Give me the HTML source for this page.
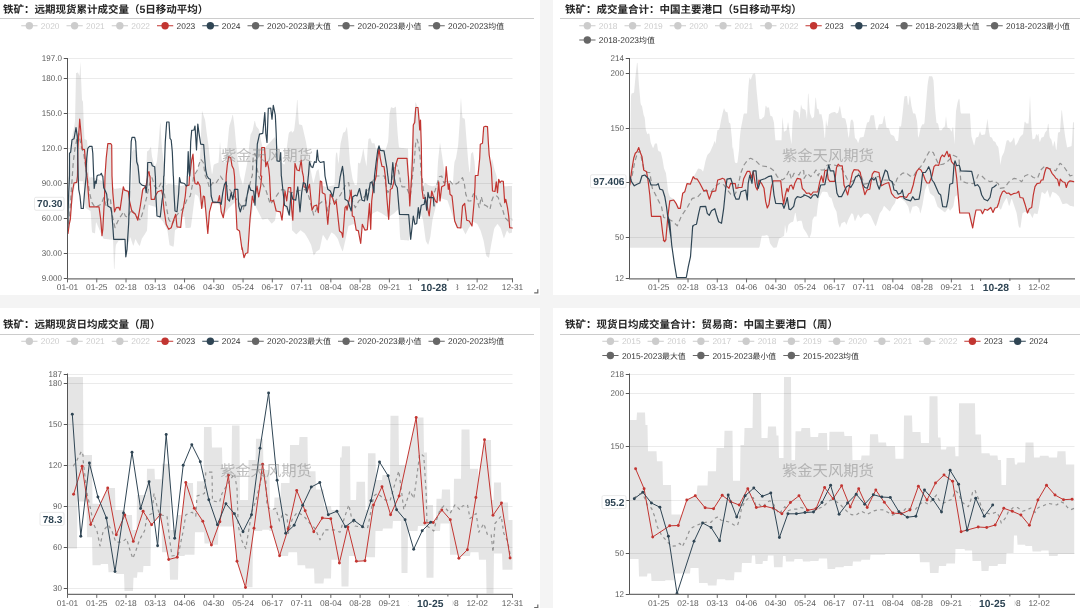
<!DOCTYPE html>
<html lang="zh"><head><meta charset="utf-8"><title>铁矿成交量</title>
<style>
html,body{margin:0;padding:0;background:#f4f4f4;}
body{width:1080px;height:608px;overflow:hidden;font-family:"Liberation Sans", "Noto Sans CJK SC", sans-serif;}
svg{display:block;font-family:"Liberation Sans", "Noto Sans CJK SC", sans-serif;filter:blur(0.32px);}
</style></head><body>
<svg width="1080" height="608" viewBox="0 0 1080 608" text-rendering="geometricPrecision">
<defs><clipPath id="cliptl"><rect x="67" y="50" width="446" height="229.2"/></clipPath><clipPath id="cliptr"><rect x="629" y="50" width="445.5" height="229.2"/></clipPath><clipPath id="clipbl"><rect x="67" y="365.5" width="446" height="229.2"/></clipPath><clipPath id="clipbr"><rect x="629" y="365.5" width="445.5" height="229.2"/></clipPath><clipPath id="pL"><rect x="0" y="0" width="540" height="608"/></clipPath><clipPath id="pR"><rect x="553" y="0" width="527" height="608"/></clipPath></defs>
<rect x="0" y="0" width="1080" height="608" fill="#f4f4f4"/>
<rect x="0" y="0" width="540" height="295" fill="#fff"/>
<rect x="553" y="0" width="527" height="295" fill="#fff"/>
<rect x="0" y="308" width="540" height="300" fill="#fff"/>
<rect x="553" y="308" width="527" height="300" fill="#fff"/>
<g clip-path="url(#pL)"><text x="3.00" y="12.50" font-size="10.5" fill="#262626" font-weight="bold">铁矿：远期现货累计成交量（</text><text x="139.50" y="12.50" font-size="10.5" fill="#262626" font-weight="bold">5</text><text x="145.34" y="12.50" font-size="10.5" fill="#262626" font-weight="bold">日移动平均）</text>
<path d="M-2 18.5H534" stroke="#cccccc" stroke-width="1"/>
<path d="M21.25 25.75h16.25" stroke="#cccccc" stroke-width="1" fill="none"/><circle cx="29.35" cy="25.75" r="3.7" fill="#cccccc"/><text x="40.85" y="28.75" font-size="8.4" fill="#cccccc" textLength="18.69">2020</text>
<path d="M66.50 25.75h16.25" stroke="#cccccc" stroke-width="1" fill="none"/><circle cx="74.60" cy="25.75" r="3.7" fill="#cccccc"/><text x="86.10" y="28.75" font-size="8.4" fill="#cccccc" textLength="18.69">2021</text>
<path d="M111.75 25.75h16.25" stroke="#cccccc" stroke-width="1" fill="none"/><circle cx="119.85" cy="25.75" r="3.7" fill="#cccccc"/><text x="131.35" y="28.75" font-size="8.4" fill="#cccccc" textLength="18.69">2022</text>
<path d="M157.00 25.75h16.25" stroke="#c23531" stroke-width="1" fill="none"/><circle cx="165.10" cy="25.75" r="3.7" fill="#c23531"/><text x="176.60" y="28.75" font-size="8.4" fill="#333333" textLength="18.69">2023</text>
<path d="M202.25 25.75h16.25" stroke="#2f4554" stroke-width="1" fill="none"/><circle cx="210.35" cy="25.75" r="3.7" fill="#2f4554"/><text x="221.85" y="28.75" font-size="8.4" fill="#333333" textLength="18.69">2024</text>
<path d="M247.50 25.75h16.25" stroke="#666666" stroke-width="1" fill="none"/><circle cx="255.60" cy="25.75" r="3.7" fill="#666666"/><text x="267.10" y="28.75" font-size="8.4" fill="#333333" textLength="40.17">2020-2023</text><text x="307.27" y="28.75" font-size="7.9" fill="#333333">最大值</text>
<path d="M338.00 25.75h16.25" stroke="#666666" stroke-width="1" fill="none"/><circle cx="346.10" cy="25.75" r="3.7" fill="#666666"/><text x="357.60" y="28.75" font-size="8.4" fill="#333333" textLength="40.17">2020-2023</text><text x="397.77" y="28.75" font-size="7.9" fill="#333333">最小值</text>
<path d="M428.50 25.75h16.25" stroke="#666666" stroke-width="1" fill="none"/><circle cx="436.60" cy="25.75" r="3.7" fill="#666666"/><text x="448.10" y="28.75" font-size="8.4" fill="#333333" textLength="40.17">2020-2023</text><text x="488.27" y="28.75" font-size="7.9" fill="#333333">均值</text>
<path d="M67.5 58.5H512.5" stroke="#ebebeb" stroke-width="1"/>
<path d="M63.75 58.5H67.5" stroke="#555555" stroke-width="1"/>
<text x="61.90" y="61.40" font-size="8.4" fill="#5a5a5a" text-anchor="end" textLength="20.07" lengthAdjust="spacingAndGlyphs">197.0</text>
<path d="M67.5 78.5H512.5" stroke="#ebebeb" stroke-width="1"/>
<path d="M63.75 78.5H67.5" stroke="#555555" stroke-width="1"/>
<text x="61.90" y="81.40" font-size="8.4" fill="#5a5a5a" text-anchor="end" textLength="20.07" lengthAdjust="spacingAndGlyphs">180.0</text>
<path d="M67.5 113.5H512.5" stroke="#ebebeb" stroke-width="1"/>
<path d="M63.75 113.5H67.5" stroke="#555555" stroke-width="1"/>
<text x="61.90" y="116.40" font-size="8.4" fill="#5a5a5a" text-anchor="end" textLength="20.07" lengthAdjust="spacingAndGlyphs">150.0</text>
<path d="M67.5 148.5H512.5" stroke="#ebebeb" stroke-width="1"/>
<path d="M63.75 148.5H67.5" stroke="#555555" stroke-width="1"/>
<text x="61.90" y="151.40" font-size="8.4" fill="#5a5a5a" text-anchor="end" textLength="20.07" lengthAdjust="spacingAndGlyphs">120.0</text>
<path d="M67.5 183.5H512.5" stroke="#ebebeb" stroke-width="1"/>
<path d="M63.75 183.5H67.5" stroke="#555555" stroke-width="1"/>
<text x="61.90" y="186.40" font-size="8.4" fill="#5a5a5a" text-anchor="end" textLength="20.07" lengthAdjust="spacingAndGlyphs">90.00</text>
<path d="M67.5 218.5H512.5" stroke="#ebebeb" stroke-width="1"/>
<path d="M63.75 218.5H67.5" stroke="#555555" stroke-width="1"/>
<text x="61.90" y="221.40" font-size="8.4" fill="#5a5a5a" text-anchor="end" textLength="20.07" lengthAdjust="spacingAndGlyphs">60.00</text>
<path d="M67.5 253.5H512.5" stroke="#ebebeb" stroke-width="1"/>
<path d="M63.75 253.5H67.5" stroke="#555555" stroke-width="1"/>
<text x="61.90" y="256.40" font-size="8.4" fill="#5a5a5a" text-anchor="end" textLength="20.07" lengthAdjust="spacingAndGlyphs">30.00</text>
<path d="M63.75 278.5H67.5" stroke="#555555" stroke-width="1"/>
<text x="61.90" y="281.40" font-size="8.4" fill="#5a5a5a" text-anchor="end" textLength="20.07" lengthAdjust="spacingAndGlyphs">9.000</text>
<g clip-path="url(#cliptl)">
<path d="M67.5 185.0L68.0 177.5L68.5 170.0L69.0 163.3L69.5 156.7L70.0 150.0L70.5 147.0L71.0 144.0L71.5 141.0L72.0 138.0L72.5 135.0L73.0 132.5L73.5 130.0L74.0 127.5L74.5 125.0L75.0 120.8L75.5 96.9L76.0 73.0L76.5 72.9L77.0 72.8L77.5 72.6L78.0 72.5L78.5 73.7L79.0 74.8L79.5 76.0L80.0 68.8L80.5 61.5L81.0 76.0L81.5 88.0L82.0 100.0L82.5 100.8L83.0 101.7L83.5 116.3L84.0 129.2L84.5 139.0L85.0 139.3L85.5 139.5L86.0 139.8L86.5 140.0L87.0 140.3L87.5 145.3L88.0 152.9L88.5 164.5L89.0 176.0L89.5 177.0L90.0 178.0L90.5 177.5L91.0 177.0L91.5 177.1L92.0 177.2L92.5 177.4L93.0 177.5L93.5 177.6L94.0 177.8L94.5 177.9L95.0 178.0L95.5 178.2L96.0 178.4L96.5 178.6L97.0 178.9L97.5 179.1L98.0 179.3L98.5 179.5L99.0 179.7L99.5 179.9L100.0 180.1L100.5 180.4L101.0 180.6L101.5 180.8L102.0 181.0L102.5 181.6L103.0 182.2L103.5 182.8L104.0 183.4L104.5 184.0L105.0 176.0L105.5 168.6L106.0 160.9L106.5 155.4L107.0 151.0L107.5 146.6L108.0 143.7L108.5 143.7L109.0 143.7L109.5 143.7L110.0 143.7L110.5 143.7L111.0 144.1L111.5 144.8L112.0 176.0L112.5 185.9L113.0 187.0L113.5 187.7L114.0 188.3L114.5 189.0L115.0 188.9L115.5 188.8L116.0 188.7L116.5 188.6L117.0 188.5L117.5 188.5L118.0 188.4L118.5 188.3L119.0 188.2L119.5 188.1L120.0 188.0L120.5 188.1L121.0 188.2L121.5 188.4L122.0 188.5L122.5 188.6L123.0 188.8L123.5 187.3L124.0 188.7L124.5 189.2L125.0 189.4L125.5 189.7L126.0 189.9L126.5 190.1L127.0 190.3L127.5 190.6L128.0 190.8L128.5 191.0L129.0 191.0L129.5 191.0L130.0 191.0L130.5 191.0L131.0 191.0L131.5 179.9L132.0 152.0L132.5 151.0L133.0 150.0L133.5 149.0L134.0 149.3L134.5 149.6L135.0 149.9L135.5 150.1L136.0 150.4L136.5 150.7L137.0 151.0L137.5 154.8L138.0 158.5L138.5 162.2L139.0 166.0L139.5 170.5L140.0 175.0L140.5 182.5L141.0 190.0L141.5 190.0L142.0 190.0L142.5 190.0L143.0 189.2L143.5 188.7L144.0 188.2L144.5 187.7L145.0 186.9L145.5 186.2L146.0 185.4L146.5 165.0L147.0 151.6L147.5 151.2L148.0 150.8L148.5 150.4L149.0 150.0L149.5 149.3L150.0 148.4L150.5 147.5L151.0 146.5L151.5 152.0L152.0 156.6L152.5 158.5L153.0 160.5L153.5 162.4L154.0 164.3L154.5 166.2L155.0 166.0L155.5 165.0L156.0 164.0L156.5 163.0L157.0 160.1L157.5 155.1L158.0 150.1L158.5 144.3L159.0 137.8L159.5 131.3L160.0 124.8L160.5 122.3L161.0 132.3L161.5 142.3L162.0 148.2L162.5 152.2L163.0 156.2L163.5 160.2L164.0 164.7L164.5 170.0L165.0 175.3L165.5 180.6L166.0 185.0L166.5 184.8L167.0 184.5L167.5 184.3L168.0 184.0L168.5 183.8L169.0 183.9L169.5 183.9L170.0 184.0L170.5 184.1L171.0 184.2L171.5 184.3L172.0 184.4L172.5 184.4L173.0 184.5L173.5 184.6L174.0 184.7L174.5 184.8L175.0 184.9L175.5 184.9L176.0 185.0L176.5 185.1L177.0 185.2L177.5 185.3L178.0 185.4L178.5 185.4L179.0 185.5L179.5 185.6L180.0 185.7L180.5 185.8L181.0 185.9L181.5 185.8L182.0 185.7L182.5 185.6L183.0 185.5L183.5 185.3L184.0 185.2L184.5 185.1L185.0 185.0L185.5 184.8L186.0 184.7L186.5 184.6L187.0 184.5L187.5 184.3L188.0 184.2L188.5 184.1L189.0 184.0L189.5 176.0L190.0 172.8L190.5 169.4L191.0 165.6L191.5 161.4L192.0 158.5L192.5 156.4L193.0 154.2L193.5 162.3L194.0 175.5L194.5 174.7L195.0 173.9L195.5 173.2L196.0 172.4L196.5 171.6L197.0 170.8L197.5 169.2L198.0 167.7L198.5 166.1L199.0 164.5L199.5 162.9L200.0 156.6L200.5 147.5L201.0 134.3L201.5 121.0L202.0 110.6L202.5 112.2L203.0 113.7L203.5 115.3L204.0 116.7L204.5 118.2L205.0 119.6L205.5 123.1L206.0 127.2L206.5 131.3L207.0 135.1L207.5 138.5L208.0 141.9L208.5 145.4L209.0 150.4L209.5 155.4L210.0 160.4L210.5 163.9L211.0 167.4L211.5 170.9L212.0 174.4L212.5 172.6L213.0 169.0L213.5 165.4L214.0 164.4L214.5 164.2L215.0 164.0L215.5 163.8L216.0 163.6L216.5 163.4L217.0 163.1L217.5 162.9L218.0 162.7L218.5 162.5L219.0 155.6L219.5 148.4L220.0 141.3L220.5 146.7L221.0 152.4L221.5 158.0L222.0 160.5L222.5 160.9L223.0 161.2L223.5 161.5L224.0 161.9L224.5 162.2L225.0 161.9L225.5 158.9L226.0 155.9L226.5 152.9L227.0 149.9L227.5 144.6L228.0 139.1L228.5 133.6L229.0 128.1L229.5 125.3L230.0 123.8L230.5 122.3L231.0 120.8L231.5 119.0L232.0 116.9L232.5 114.7L233.0 115.1L233.5 118.9L234.0 122.6L234.5 126.4L235.0 132.0L235.5 137.7L236.0 143.3L236.5 148.1L237.0 152.4L237.5 156.7L238.0 160.8L238.5 164.8L239.0 168.8L239.5 172.8L240.0 175.8L240.5 177.4L241.0 178.9L241.5 180.4L242.0 182.0L242.5 183.5L243.0 185.0L243.5 182.4L244.0 179.8L244.5 177.1L245.0 174.5L245.5 171.8L246.0 169.2L246.5 166.5L247.0 163.9L247.5 160.4L248.0 156.1L248.5 151.8L249.0 147.4L249.5 143.1L250.0 138.8L250.5 134.7L251.0 133.7L251.5 132.7L252.0 131.7L252.5 130.7L253.0 128.5L253.5 126.0L254.0 123.5L254.5 121.0L255.0 121.1L255.5 123.2L256.0 125.4L256.5 126.6L257.0 127.2L257.5 127.8L258.0 128.3L258.5 128.9L259.0 129.6L259.5 132.3L260.0 135.1L260.5 137.8L261.0 140.6L261.5 142.8L262.0 144.8L262.5 146.8L263.0 147.5L263.5 147.5L264.0 147.5L264.5 147.5L265.0 147.8L265.5 147.2L266.0 146.7L266.5 146.1L267.0 145.6L267.5 145.0L268.0 144.5L268.5 144.0L269.0 143.4L269.5 142.9L270.0 142.3L270.5 141.8L271.0 141.2L271.5 140.7L272.0 140.1L272.5 139.6L273.0 139.0L273.5 138.5L274.0 138.0L274.5 137.4L275.0 137.1L275.5 138.9L276.0 140.6L276.5 142.4L277.0 144.1L277.5 145.9L278.0 147.6L278.5 149.4L279.0 151.1L279.5 153.3L280.0 155.8L280.5 158.3L281.0 160.8L281.5 162.6L282.0 162.9L282.5 163.2L283.0 163.6L283.5 163.9L284.0 164.2L284.5 164.6L285.0 161.1L285.5 157.3L286.0 153.6L286.5 149.8L287.0 146.1L287.5 142.3L288.0 138.6L288.5 134.8L289.0 132.5L289.5 132.2L290.0 131.8L290.5 131.4L291.0 131.1L291.5 130.7L292.0 132.7L292.5 132.2L293.0 131.7L293.5 131.2L294.0 130.7L294.5 127.3L295.0 122.9L295.5 118.5L296.0 113.5L296.5 107.1L297.0 100.6L297.5 99.7L298.0 109.0L298.5 118.3L299.0 124.2L299.5 124.4L300.0 124.5L300.5 124.7L301.0 124.8L301.5 125.0L302.0 125.1L302.5 126.5L303.0 128.7L303.5 131.0L304.0 133.2L304.5 135.4L305.0 137.6L305.5 139.7L306.0 142.1L306.5 145.1L307.0 148.1L307.5 151.1L308.0 154.1L308.5 157.1L309.0 160.1L309.5 163.1L310.0 166.1L310.5 168.9L311.0 171.5L311.5 174.2L312.0 176.9L312.5 179.5L313.0 182.2L313.5 182.9L314.0 180.9L314.5 178.9L315.0 176.9L315.5 174.9L316.0 172.9L316.5 171.0L317.0 170.5L317.5 170.0L318.0 169.5L318.5 169.0L319.0 171.8L319.5 175.6L320.0 179.4L320.5 181.1L321.0 181.4L321.5 181.7L322.0 185.5L322.5 185.7L323.0 185.9L323.5 186.0L324.0 186.2L324.5 186.4L325.0 186.6L325.5 186.8L326.0 186.9L326.5 186.9L327.0 186.8L327.5 186.6L328.0 186.5L328.5 186.4L329.0 186.3L329.5 186.2L330.0 186.1L330.5 186.0L331.0 185.9L331.5 185.7L332.0 185.6L332.5 185.5L333.0 185.4L333.5 185.3L334.0 185.2L334.5 185.1L335.0 173.1L335.5 158.5L336.0 153.5L336.5 152.7L337.0 152.0L337.5 155.4L338.0 160.4L338.5 163.8L339.0 158.8L339.5 153.8L340.0 148.8L340.5 143.8L341.0 141.4L341.5 139.4L342.0 137.3L342.5 135.2L343.0 133.1L343.5 132.5L344.0 132.2L344.5 132.0L345.0 131.7L345.5 130.8L346.0 129.2L346.5 127.6L347.0 126.9L347.5 131.9L348.0 136.9L348.5 142.2L349.0 149.3L349.5 156.5L350.0 163.0L350.5 166.0L351.0 169.1L351.5 172.2L352.0 175.3L352.5 178.3L353.0 180.3L353.5 181.6L354.0 182.9L354.5 184.2L355.0 185.0L355.5 185.0L356.0 185.0L356.5 185.0L357.0 184.0L357.5 173.4L358.0 162.8L358.5 162.7L359.0 163.0L359.5 163.2L360.0 163.5L360.5 162.0L361.0 159.8L361.5 157.6L362.0 155.2L362.5 152.4L363.0 149.5L363.5 148.7L364.0 152.3L364.5 155.9L365.0 159.1L365.5 161.6L366.0 164.1L366.5 166.6L367.0 159.1L367.5 151.0L368.0 142.9L368.5 138.9L369.0 138.7L369.5 138.4L370.0 138.2L370.5 138.5L371.0 140.3L371.5 142.0L372.0 143.3L372.5 143.3L373.0 143.3L373.5 143.3L374.0 143.3L374.5 143.3L375.0 144.9L375.5 147.1L376.0 149.2L376.5 149.3L377.0 148.8L377.5 148.3L378.0 147.8L378.5 147.6L379.0 147.8L379.5 147.9L380.0 148.1L380.5 148.2L381.0 148.4L381.5 148.5L382.0 148.6L382.5 148.8L383.0 148.9L383.5 149.1L384.0 149.2L384.5 149.4L385.0 149.5L385.5 149.6L386.0 148.7L386.5 147.0L387.0 145.4L387.5 143.7L388.0 142.0L388.5 135.8L389.0 125.0L389.5 114.1L390.0 111.5L390.5 109.3L391.0 107.2L391.5 107.3L392.0 107.5L392.5 107.7L393.0 107.9L393.5 108.1L394.0 108.0L394.5 107.5L395.0 107.0L395.5 106.5L396.0 107.4L396.5 115.6L397.0 123.8L397.5 131.6L398.0 137.3L398.5 143.0L399.0 147.6L399.5 147.6L400.0 147.7L400.5 147.8L401.0 147.8L401.5 147.9L402.0 147.9L402.5 148.0L403.0 148.0L403.5 148.1L404.0 148.2L404.5 148.2L405.0 148.3L405.5 148.3L406.0 148.4L406.5 148.5L407.0 148.5L407.5 148.6L408.0 148.6L408.5 163.8L409.0 180.9L409.5 179.2L410.0 171.6L410.5 163.9L411.0 156.2L411.5 148.6L412.0 140.9L412.5 133.2L413.0 125.8L413.5 121.0L414.0 116.2L414.5 111.5L415.0 106.7L415.5 101.9L416.0 103.0L416.5 104.3L417.0 105.5L417.5 106.8L418.0 107.5L418.5 112.3L419.0 115.3L419.5 118.3L420.0 121.3L420.5 120.0L421.0 135.0L421.5 160.5L422.0 176.0L422.5 181.0L423.0 185.0L423.5 185.0L424.0 184.4L424.5 183.6L425.0 182.8L425.5 183.0L426.0 183.4L426.5 183.7L427.0 184.1L427.5 184.5L428.0 184.8L428.5 185.1L429.0 185.3L429.5 185.4L430.0 185.6L430.5 185.7L431.0 185.9L431.5 186.0L432.0 186.2L432.5 186.3L433.0 186.2L433.5 186.0L434.0 185.9L434.5 185.7L435.0 185.6L435.5 185.4L436.0 185.3L436.5 185.1L437.0 180.9L437.5 170.3L438.0 161.2L438.5 156.5L439.0 151.7L439.5 147.0L440.0 142.3L440.5 145.5L441.0 148.8L441.5 152.0L442.0 155.3L442.5 158.7L443.0 162.2L443.5 165.7L444.0 169.2L444.5 172.2L445.0 174.7L445.5 177.2L446.0 169.9L446.5 170.4L447.0 176.0L447.5 180.9L448.0 181.0L448.5 181.0L449.0 181.0L449.5 181.0L450.0 181.0L450.5 181.6L451.0 182.2L451.5 182.9L452.0 183.5L452.5 184.1L453.0 181.6L453.5 174.1L454.0 166.5L454.5 161.9L455.0 160.6L455.5 159.4L456.0 158.0L456.5 155.0L457.0 152.0L457.5 149.0L458.0 146.0L458.5 139.4L459.0 131.9L459.5 124.4L460.0 115.3L460.5 103.8L461.0 97.4L461.5 104.9L462.0 112.4L462.5 117.8L463.0 118.0L463.5 118.2L464.0 118.4L464.5 118.6L465.0 120.0L465.5 126.5L466.0 133.1L466.5 139.6L467.0 146.0L467.5 152.2L468.0 158.5L468.5 164.0L469.0 168.3L469.5 172.6L470.0 171.5L470.5 161.5L471.0 153.8L471.5 153.3L472.0 152.8L472.5 152.3L473.0 151.8L473.5 154.9L474.0 158.0L474.5 161.2L475.0 166.9L475.5 174.5L476.0 175.5L476.5 175.5L477.0 175.5L477.5 175.5L478.0 175.5L478.5 170.4L479.0 165.2L479.5 160.1L480.0 151.2L480.5 144.1L481.0 143.9L481.5 143.7L482.0 143.5L482.5 143.3L483.0 136.3L483.5 129.3L484.0 126.9L484.5 126.7L485.0 126.5L485.5 126.4L486.0 126.4L486.5 126.5L487.0 126.6L487.5 126.7L488.0 135.7L488.5 144.3L489.0 152.3L489.5 157.1L490.0 160.1L490.5 163.2L491.0 162.1L491.5 160.4L492.0 158.8L492.5 159.9L493.0 162.4L493.5 164.9L494.0 167.4L494.5 169.5L495.0 171.0L495.5 172.5L496.0 174.0L496.5 175.7L497.0 178.5L497.5 181.4L498.0 184.3L498.5 181.2L499.0 180.2L499.5 181.4L500.0 182.7L500.5 182.0L501.0 181.4L501.5 181.0L502.0 181.1L502.5 181.2L503.0 181.3L503.5 184.0L504.0 186.1L504.5 186.2L505.0 186.3L505.5 186.3L506.0 186.3L506.5 186.2L507.0 186.2L507.5 186.2L508.0 186.1L508.5 186.1L509.0 186.1L509.5 186.1L510.0 186.0L510.5 186.0L511.0 186.0L511.5 185.9L512.0 185.9L512.0 232.5L511.5 232.7L511.0 232.9L510.5 233.0L510.0 233.2L509.5 233.4L509.0 233.2L508.5 232.4L508.0 231.7L507.5 230.9L507.0 230.5L506.5 231.8L506.0 233.1L505.5 234.5L505.0 235.8L504.5 237.1L504.0 238.5L503.5 237.5L503.0 235.8L502.5 234.2L502.0 232.5L501.5 230.8L501.0 229.2L500.5 227.9L500.0 227.2L499.5 226.6L499.0 225.9L498.5 225.2L498.0 224.6L497.5 223.9L497.0 224.5L496.5 225.2L496.0 225.9L495.5 226.5L495.0 227.2L494.5 227.9L494.0 229.7L493.5 232.4L493.0 235.1L492.5 237.7L492.0 240.4L491.5 243.1L491.0 245.8L490.5 248.8L490.0 251.8L489.5 254.8L489.0 257.8L488.5 257.6L488.0 257.2L487.5 256.8L487.0 256.4L486.5 256.1L486.0 254.6L485.5 251.7L485.0 248.8L484.5 245.9L484.0 242.9L483.5 240.4L483.0 238.7L482.5 237.1L482.0 235.4L481.5 233.7L481.0 232.1L480.5 230.4L480.0 229.4L479.5 228.4L479.0 227.4L478.5 226.4L478.0 225.4L477.5 224.4L477.0 223.8L476.5 223.5L476.0 223.3L475.5 223.0L475.0 222.8L474.5 222.5L474.0 222.3L473.5 222.0L473.0 221.8L472.5 222.5L472.0 226.0L471.5 225.1L471.0 224.8L470.5 225.5L470.0 226.3L469.5 227.0L469.0 227.8L468.5 228.6L468.0 229.6L467.5 230.6L467.0 231.6L466.5 232.6L466.0 233.6L465.5 234.4L465.0 233.4L464.5 232.4L464.0 231.4L463.5 230.4L463.0 229.4L462.5 228.4L462.0 228.0L461.5 227.9L461.0 227.7L460.5 228.0L460.0 227.9L459.5 227.9L459.0 227.8L458.5 227.8L458.0 227.7L457.5 227.7L457.0 226.5L456.5 226.2L456.0 226.0L455.5 224.6L455.0 223.1L454.5 221.6L454.0 220.1L453.5 218.6L453.0 217.1L452.5 215.6L452.0 214.1L451.5 212.6L451.0 211.1L450.5 209.6L450.0 208.1L449.5 206.6L449.0 205.1L448.5 203.6L448.0 202.1L447.5 200.6L447.0 200.3L446.5 200.1L446.0 200.0L445.5 199.8L445.0 199.6L444.5 199.5L444.0 199.3L443.5 199.1L443.0 199.0L442.5 198.8L442.0 198.6L441.5 198.5L441.0 198.4L440.5 198.9L440.0 201.0L439.5 199.9L439.0 200.4L438.5 200.9L438.0 201.4L437.5 201.9L437.0 202.7L436.5 203.8L436.0 205.8L435.5 207.8L435.0 209.8L434.5 211.8L434.0 213.8L433.5 215.8L433.0 217.8L432.5 220.0L432.0 224.0L431.5 228.0L431.0 232.0L430.5 236.0L430.0 238.3L429.5 240.3L429.0 242.3L428.5 244.3L428.0 244.7L427.5 243.9L427.0 243.0L426.5 242.2L426.0 241.4L425.5 239.1L425.0 235.3L424.5 231.5L424.0 227.6L423.5 223.8L423.0 219.9L422.5 218.4L422.0 217.1L421.5 215.7L421.0 214.4L420.5 213.1L420.0 211.7L419.5 211.8L419.0 213.0L418.5 214.3L418.0 215.5L417.5 216.8L417.0 218.0L416.5 219.3L416.0 220.5L415.5 221.8L415.0 222.0L414.5 222.3L414.0 222.5L413.5 222.8L413.0 223.0L412.5 223.3L412.0 223.5L411.5 223.8L411.0 225.8L410.5 229.7L410.0 233.6L409.5 237.5L409.0 240.5L408.5 240.4L408.0 240.4L407.5 240.4L407.0 240.3L406.5 240.3L406.0 240.3L405.5 240.2L405.0 240.2L404.5 240.2L404.0 240.1L403.5 240.1L403.0 240.1L402.5 240.0L402.0 240.0L401.5 239.9L401.0 239.9L400.5 239.9L400.0 236.6L399.5 227.6L399.0 218.5L398.5 209.5L398.0 209.5L397.5 210.0L397.0 210.5L396.5 211.0L396.0 211.5L395.5 212.0L395.0 212.5L394.5 213.0L394.0 213.4L393.5 213.7L393.0 214.0L392.5 214.4L392.0 214.7L391.5 215.0L391.0 215.4L390.5 215.7L390.0 216.0L389.5 216.4L389.0 216.7L388.5 217.4L388.0 217.4L387.5 217.3L387.0 216.9L386.5 216.6L386.0 216.3L385.5 215.9L385.0 215.6L384.5 215.3L384.0 214.9L383.5 214.6L383.0 214.3L382.5 213.9L382.0 213.6L381.5 213.3L381.0 213.0L380.5 212.8L380.0 212.5L379.5 212.3L379.0 212.0L378.5 211.8L378.0 211.5L377.5 211.3L377.0 211.2L376.5 211.4L376.0 211.7L375.5 211.9L375.0 212.2L374.5 212.4L374.0 212.7L373.5 212.9L373.0 213.2L372.5 213.9L372.0 214.6L371.5 215.4L371.0 219.9L370.5 225.6L370.0 217.6L369.5 218.4L369.0 219.1L368.5 219.7L368.0 221.6L367.5 227.7L367.0 229.7L366.5 229.8L366.0 230.0L365.5 230.1L365.0 230.2L364.5 229.1L364.0 228.0L363.5 226.9L363.0 225.8L362.5 224.7L362.0 228.2L361.5 233.9L361.0 239.7L360.5 242.6L360.0 239.8L359.5 237.1L359.0 234.3L358.5 231.6L358.0 230.6L357.5 230.5L357.0 230.4L356.5 230.2L356.0 229.1L355.5 226.5L355.0 225.8L354.5 225.0L354.0 224.3L353.5 224.0L353.0 224.2L352.5 224.4L352.0 224.6L351.5 224.8L351.0 225.0L350.5 225.2L350.0 225.4L349.5 225.6L349.0 225.8L348.5 226.0L348.0 228.0L347.5 230.4L347.0 232.7L346.5 235.0L346.0 237.4L345.5 239.7L345.0 241.9L344.5 244.1L344.0 246.3L343.5 248.4L343.0 250.6L342.5 251.5L342.0 250.3L341.5 249.1L341.0 247.9L340.5 246.6L340.0 245.4L339.5 243.9L339.0 242.4L338.5 240.9L338.0 239.4L337.5 238.4L337.0 237.7L336.5 237.1L336.0 236.4L335.5 235.7L335.0 235.1L334.5 234.5L334.0 234.1L333.5 233.8L333.0 233.5L332.5 233.1L332.0 232.8L331.5 232.5L331.0 233.2L330.5 234.2L330.0 235.2L329.5 236.2L329.0 237.2L328.5 238.2L328.0 239.2L327.5 240.2L327.0 240.7L326.5 240.0L326.0 239.2L325.5 238.5L325.0 237.7L324.5 237.0L324.0 236.2L323.5 235.5L323.0 234.7L322.5 236.3L322.0 238.6L321.5 241.0L321.0 243.3L320.5 245.6L320.0 248.0L319.5 249.6L319.0 249.9L318.5 250.2L318.0 250.6L317.5 250.9L317.0 251.2L316.5 251.6L316.0 252.3L315.5 253.1L315.0 253.9L314.5 254.6L314.0 255.4L313.5 254.9L313.0 252.8L312.5 250.7L312.0 248.7L311.5 246.6L311.0 244.8L310.5 243.8L310.0 242.8L309.5 241.8L309.0 240.8L308.5 239.8L308.0 238.8L307.5 238.0L307.0 237.2L306.5 236.3L306.0 235.5L305.5 234.7L305.0 233.8L304.5 233.3L304.0 232.9L303.5 232.5L303.0 232.1L302.5 231.8L302.0 231.4L301.5 231.0L301.0 230.6L300.5 230.3L300.0 230.8L299.5 231.3L299.0 231.8L298.5 232.3L298.0 232.8L297.5 233.3L297.0 233.8L296.5 234.3L296.0 234.3L295.5 233.8L295.0 233.3L294.5 232.8L294.0 232.3L293.5 231.8L293.0 231.3L292.5 230.8L292.0 230.3L291.5 217.2L291.0 216.7L290.5 216.2L290.0 215.6L289.5 215.1L289.0 214.6L288.5 214.1L288.0 213.5L287.5 212.8L287.0 211.8L286.5 210.8L286.0 209.8L285.5 208.8L285.0 207.8L284.5 206.8L284.0 205.8L283.5 205.6L283.0 210.4L282.5 215.3L282.0 220.2L281.5 217.7L281.0 215.2L280.5 212.7L280.0 211.8L279.5 211.7L279.0 211.6L278.5 211.5L278.0 211.4L277.5 211.3L277.0 211.2L276.5 212.1L276.0 214.9L275.5 217.6L275.0 220.4L274.5 221.1L274.0 221.6L273.5 222.1L273.0 222.6L272.5 223.1L272.0 223.6L271.5 223.6L271.0 222.9L270.5 222.3L270.0 221.7L269.5 221.1L269.0 220.4L268.5 219.8L268.0 219.2L267.5 218.6L267.0 218.7L266.5 218.8L266.0 218.9L265.5 219.0L265.0 219.1L264.5 219.2L264.0 219.3L263.5 219.4L263.0 219.5L262.5 219.6L262.0 219.3L261.5 218.3L261.0 217.3L260.5 216.3L260.0 215.3L259.5 214.3L259.0 213.3L258.5 212.3L258.0 211.3L257.5 210.3L257.0 209.3L256.5 208.3L256.0 207.3L255.5 206.3L255.0 205.3L254.5 204.3L254.0 203.3L253.5 203.6L253.0 206.9L252.5 210.3L252.0 213.6L251.5 216.9L251.0 220.3L250.5 223.6L250.0 221.7L249.5 227.0L249.0 234.7L248.5 242.4L248.0 250.1L247.5 252.8L247.0 253.0L246.5 253.2L246.0 253.4L245.5 253.9L245.0 255.2L244.5 256.4L244.0 257.7L243.5 255.1L243.0 252.4L242.5 249.8L242.0 249.3L241.5 245.7L241.0 242.0L240.5 238.3L240.0 234.7L239.5 231.0L239.0 230.7L238.5 230.3L238.0 230.0L237.5 229.7L237.0 229.3L236.5 218.8L236.0 208.3L235.5 205.1L235.0 203.9L234.5 202.6L234.0 203.1L233.5 203.6L233.0 204.1L232.5 204.6L232.0 205.1L231.5 205.6L231.0 206.1L230.5 206.6L230.0 207.1L229.5 207.6L229.0 208.1L228.5 208.6L228.0 209.1L227.5 209.9L227.0 210.6L226.5 211.4L226.0 212.1L225.5 212.9L225.0 213.6L224.5 214.4L224.0 215.1L223.5 216.5L223.0 216.8L222.5 215.4L222.0 214.1L221.5 212.7L221.0 210.2L220.5 205.4L220.0 204.6L219.5 204.5L219.0 204.4L218.5 204.2L218.0 204.1L217.5 204.0L217.0 203.9L216.5 203.8L216.0 203.7L215.5 203.6L215.0 203.5L214.5 203.4L214.0 203.2L213.5 203.1L213.0 203.0L212.5 202.9L212.0 202.8L211.5 204.5L211.0 206.3L210.5 208.2L210.0 210.0L209.5 211.8L209.0 218.3L208.5 224.8L208.0 231.3L207.5 229.8L207.0 224.3L206.5 218.8L206.0 213.3L205.5 207.8L205.0 206.9L204.5 207.2L204.0 207.5L203.5 207.8L203.0 208.1L202.5 208.4L202.0 208.7L201.5 209.0L201.0 207.1L200.5 205.1L200.0 203.1L199.5 201.1L199.0 199.1L198.5 197.1L198.0 196.0L197.5 195.7L197.0 195.3L196.5 195.0L196.0 194.7L195.5 194.3L195.0 194.8L194.5 198.8L194.0 202.8L193.5 206.8L193.0 210.8L192.5 214.8L192.0 218.8L191.5 222.6L191.0 226.4L190.5 227.7L190.0 227.8L189.5 227.8L189.0 227.9L188.5 227.9L188.0 227.9L187.5 228.0L187.0 228.0L186.5 228.1L186.0 228.1L185.5 228.0L185.0 222.5L184.5 217.0L184.0 216.5L183.5 216.7L183.0 216.8L182.5 216.9L182.0 217.0L181.5 219.2L181.0 224.1L180.5 227.3L180.0 227.2L179.5 227.2L179.0 227.1L178.5 227.0L178.0 228.2L177.5 228.5L177.0 228.8L176.5 229.2L176.0 229.5L175.5 229.8L175.0 230.2L174.5 235.9L174.0 243.7L173.5 246.8L173.0 246.6L172.5 246.4L172.0 246.2L171.5 246.0L171.0 245.8L170.5 245.6L170.0 245.4L169.5 244.9L169.0 241.4L168.5 237.9L168.0 234.4L167.5 230.9L167.0 229.5L166.5 228.5L166.0 227.5L165.5 226.5L165.0 225.5L164.5 224.5L164.0 223.5L163.5 222.5L163.0 221.6L162.5 221.1L162.0 220.6L161.5 220.1L161.0 219.6L160.5 219.1L160.0 218.6L159.5 218.1L159.0 217.6L158.5 216.2L158.0 214.5L157.5 212.9L157.0 211.2L156.5 209.5L156.0 207.9L155.5 206.8L155.0 206.7L154.5 206.5L154.0 206.4L153.5 206.3L153.0 206.2L152.5 206.0L152.0 205.9L151.5 205.8L151.0 205.6L150.5 205.5L150.0 205.3L149.5 205.1L149.0 205.0L148.5 204.8L148.0 210.6L147.5 222.6L147.0 230.6L146.5 231.4L146.0 232.2L145.5 233.1L145.0 233.9L144.5 234.7L144.0 235.6L143.5 236.3L143.0 237.1L142.5 237.8L142.0 238.6L141.5 240.0L141.0 241.8L140.5 243.5L140.0 245.3L139.5 245.9L139.0 245.2L138.5 244.4L138.0 243.7L137.5 242.9L137.0 241.9L136.5 240.9L136.0 239.9L135.5 238.9L135.0 240.4L134.5 242.2L134.0 243.9L133.5 245.7L133.0 245.2L132.5 243.7L132.0 242.2L131.5 240.7L131.0 239.2L130.5 237.7L130.0 237.2L129.5 239.2L129.0 241.2L128.5 243.2L128.0 245.1L127.5 243.9L127.0 242.6L126.5 241.4L126.0 240.1L125.5 239.9L125.0 240.0L124.5 240.1L124.0 240.1L123.5 240.2L123.0 240.3L122.5 240.3L122.0 240.4L121.5 240.5L121.0 240.6L120.5 240.6L120.0 240.7L119.5 240.8L119.0 240.8L118.5 240.9L118.0 241.6L117.5 242.4L117.0 243.1L116.5 243.9L116.0 244.7L115.5 248.4L115.0 258.4L114.5 268.4L114.0 269.3L113.5 252.8L113.0 239.8L112.5 239.8L112.0 239.7L111.5 239.7L111.0 239.6L110.5 239.6L110.0 239.5L109.5 239.5L109.0 239.4L108.5 239.3L108.0 239.3L107.5 239.2L107.0 239.2L106.5 239.1L106.0 239.1L105.5 239.0L105.0 239.0L104.5 238.9L104.0 238.8L103.5 238.7L103.0 237.7L102.5 236.7L102.0 235.7L101.5 234.7L101.0 233.6L100.5 232.4L100.0 231.2L99.5 230.0L99.0 228.8L98.5 227.6L98.0 226.4L97.5 225.2L97.0 224.0L96.5 222.8L96.0 222.5L95.5 228.0L95.0 233.5L94.5 233.3L94.0 233.1L93.5 233.0L93.0 232.8L92.5 232.6L92.0 232.5L91.5 226.1L91.0 216.1L90.5 211.0L90.0 210.7L89.5 210.4L89.0 210.1L88.5 209.8L88.0 209.5L87.5 209.2L87.0 208.9L86.5 208.6L86.0 208.3L85.5 208.0L85.0 202.6L84.5 196.4L84.0 190.1L83.5 183.9L83.0 181.3L82.5 181.3L82.0 181.3L81.5 181.3L81.0 181.3L80.5 181.3L80.0 181.3L79.5 181.3L79.0 181.3L78.5 181.3L78.0 181.3L77.5 181.9L77.0 182.6L76.5 183.3L76.0 183.9L75.5 184.6L75.0 185.3L74.5 187.6L74.0 191.3L73.5 194.9L73.0 198.6L72.5 202.3L72.0 205.9L71.5 209.4L71.0 212.1L70.5 217.4L70.0 221.0L69.5 223.0L69.0 225.6L68.5 229.6L68.0 233.5L67.5 235.0Z" fill="#000" fill-opacity="0.1"/>
<path d="M68.0 224.3L69.5 217.7L71.2 192.7L72.3 176.0L72.3 176.0L73.3 161.7L75.0 148.3L77.0 138.3L78.7 133.3L81.7 148.3L83.7 153.3L85.3 165.0L87.0 176.0L87.0 176.0L89.5 192.7L92.0 202.7L95.3 207.7L97.8 206.0L101.2 204.3L103.7 197.7L106.2 206.0L108.3 199.3L110.3 197.7L112.0 214.3L115.0 227.7L118.7 219.3L123.7 211.8L125.3 216.0L127.8 217.7L131.2 209.3L135.3 214.3L140.3 220.2L143.7 209.3L147.0 196.0L149.5 184.3L152.0 177.7L154.5 186.0L157.8 189.3L161.2 182.7L163.7 189.3L166.2 206.0L168.7 219.3L172.0 224.3L176.2 216.0L179.5 211.8L183.7 207.7L187.0 199.3L190.3 196.0L192.8 182.7L193.7 176.0L193.7 176.0L197.0 170.8L200.7 159.2L203.3 162.5L205.3 176.0L205.3 176.0L207.0 179.3L209.5 187.7L212.8 182.7L215.3 184.3L219.5 177.7L220.3 176.0L243.3 209.3L245.3 201.0L247.8 192.7L250.3 182.7L252.0 176.0L252.3 176.0L253.3 155.0L255.0 153.3L257.0 168.3L258.7 176.0L258.7 176.0L264.5 187.7L266.2 191.0L270.3 204.3L275.3 197.7L278.7 192.7L282.0 189.3L292.0 192.7L297.0 191.0L305.3 189.3L308.7 196.0L313.7 215.2L318.7 204.3L325.3 199.3L327.8 211.0L330.3 202.7L335.3 201.0L340.3 195.2L346.2 183.5L348.7 182.7L350.3 196.0L355.3 207.7L358.7 201.0L365.3 196.0L370.3 186.0L373.7 179.3L375.3 176.0L384.5 176.0L385.3 182.7L387.8 192.7L390.3 187.7L392.0 179.3L392.7 176.0L392.8 176.0L394.5 165.0L396.2 163.3L398.7 171.7L399.5 176.0L399.7 176.0L400.3 181.0L402.0 186.8L406.2 186.8L408.7 192.7L410.3 196.0L412.0 182.7L412.3 176.0L412.5 176.0L414.2 161.7L415.8 141.7L417.0 139.2L418.7 145.0L420.0 155.0L421.3 176.0L422.0 176.0L423.3 189.3L425.0 197.7L427.5 199.3L431.7 196.0L435.0 191.0L437.5 182.7L439.2 176.8L441.7 176.0L443.7 182.7L446.7 181.0L450.0 181.0L453.3 185.2L458.3 182.7L462.5 177.7L464.2 182.7L465.8 194.3L468.3 201.0L470.8 201.0L473.3 194.3L475.0 192.7L477.0 199.3L479.2 207.7L481.3 196.8L483.3 204.3L486.7 206.0L490.0 209.3L491.7 201.0L493.3 196.8L495.8 195.2L498.3 197.7L500.0 203.5L502.5 209.3L505.0 217.7L508.3 221.0L512.3 219.7" fill="none" stroke="#939393" stroke-width="1.2" stroke-dasharray="4.8 3.3" stroke-linejoin="round"/>
<path d="M68.0 233.5L69.2 224.3L70.3 219.7L72.3 192.7L74.0 183.0L76.7 182.3L77.5 176.0L77.5 176.0L77.8 150.0L79.7 119.2L80.7 130.0L82.3 149.2L84.5 149.7L85.8 166.7L87.0 176.0L87.0 176.0L88.3 192.7L89.5 206.8L99.0 206.8L100.7 219.3L102.0 235.7L102.8 229.3L104.5 197.7L105.0 176.0L105.0 176.0L106.2 158.3L107.8 143.7L110.7 143.7L111.7 145.0L112.0 176.0L112.0 176.0L112.8 192.7L114.5 211.8L116.2 207.7L118.7 207.3L120.0 210.2L123.3 186.8L124.5 190.2L128.3 191.3L129.5 201.0L132.0 211.8L135.3 214.0L137.8 220.2L140.3 206.0L142.8 189.3L144.5 187.7L146.2 185.2L147.8 176.0L148.0 172.5L149.0 171.7L149.7 176.0L150.0 176.0L151.2 199.3L154.5 199.3L155.3 196.0L157.8 191.8L161.7 190.2L162.5 194.3L164.0 209.3L166.2 224.3L168.7 229.3L171.2 227.7L173.3 221.0L175.7 214.3L177.0 226.8L180.7 227.3L182.0 214.3L183.7 206.0L185.3 196.0L186.2 186.0L189.0 185.2L189.5 176.0L189.5 176.0L190.7 168.3L191.7 160.0L193.0 154.2L193.7 165.0L194.0 176.0L194.0 176.0L195.0 183.5L197.0 184.3L197.8 181.8L200.0 186.0L201.7 208.5L203.3 196.0L204.5 196.8L207.8 233.5L209.5 211.8L212.0 202.7L217.8 202.3L219.5 195.7L221.2 211.8L223.3 217.7L225.0 206.0L225.7 192.7L226.2 176.0L226.2 176.0L227.3 165.0L228.7 156.7L230.7 157.5L232.0 165.8L233.7 169.2L234.5 176.0L234.5 176.0L235.3 194.3L237.0 229.3L239.5 231.0L242.0 249.3L242.1 247.7L244.0 257.7L245.7 253.5L247.8 252.7L250.0 219.3L252.3 196.0L254.0 202.7L257.0 186.0L258.7 196.8L260.7 186.0L261.7 176.0L260.7 176.0L261.7 147.5L264.5 147.5L265.8 166.7L267.3 161.7L268.7 168.3L269.5 176.0L269.5 176.0L270.7 201.0L273.7 200.7L276.2 211.0L280.3 211.8L282.0 220.2L285.0 191.0L286.7 201.0L288.3 187.7L290.7 187.7L291.7 209.3L292.8 220.2L294.0 192.7L294.5 176.0L294.5 176.0L295.0 163.3L297.0 170.0L299.2 170.8L301.2 160.0L302.3 171.7L303.3 176.0L303.4 176.0L304.0 186.8L305.7 187.3L307.0 191.8L309.5 184.3L312.0 210.2L314.0 206.0L316.7 205.2L318.3 212.7L320.3 181.0L321.7 181.8L322.3 192.7L325.0 194.3L327.8 224.3L330.3 194.3L332.8 198.5L334.5 204.3L336.2 201.0L339.5 231.0L341.7 232.7L342.8 237.3L345.0 207.7L346.2 206.0L347.0 210.2L351.2 190.2L352.3 216.0L354.0 216.8L356.2 230.2L358.3 230.7L360.7 243.5L362.3 224.3L365.0 230.2L367.3 229.7L369.5 203.5L370.7 229.3L371.7 201.0L373.7 184.3L375.3 179.3L376.2 176.0L376.2 176.0L377.3 161.7L379.0 148.3L380.3 158.3L382.0 166.3L384.0 166.7L385.3 176.0L385.4 176.0L386.7 196.0L388.7 219.3L390.3 189.3L392.0 188.5L393.7 182.7L394.5 176.0L394.5 176.0L395.7 165.0L397.8 158.3L407.0 158.3L408.3 176.0L408.4 176.0L409.8 206.0L411.2 182.7L411.7 176.0L411.7 175.0L412.5 158.3L413.3 125.0L414.7 122.5L415.8 107.5L418.0 107.5L419.2 121.7L419.7 130.0L420.5 120.0L421.3 145.0L421.7 176.0L421.7 176.0L422.0 189.3L423.3 198.5L425.0 197.7L426.7 203.5L429.2 216.0L431.7 191.0L433.3 196.0L435.3 201.0L437.0 202.7L438.7 181.8L440.0 201.0L441.7 186.8L444.7 185.2L445.7 176.0L445.7 176.0L446.2 166.7L447.0 176.0L447.0 176.0L448.3 189.3L449.2 183.5L450.0 194.3L452.0 196.0L454.7 221.0L457.5 227.7L460.8 228.0L462.5 206.0L464.7 203.5L466.7 220.2L469.2 221.0L472.0 226.0L474.2 201.0L475.0 186.0L475.3 176.0L475.4 175.5L478.0 175.5L479.7 158.3L480.3 144.2L482.5 143.3L483.7 127.0L485.3 126.3L487.5 126.7L488.3 141.7L489.2 155.0L491.3 168.3L491.7 176.0L491.7 176.0L492.5 191.0L495.0 191.3L496.3 181.8L497.5 192.7L498.7 179.3L500.0 182.7L501.3 181.0L503.3 181.3L504.7 202.7L505.8 199.3L507.5 207.7L508.7 216.0L509.7 227.7L512.3 228.0" fill="none" stroke="#c23531" stroke-width="1.2" stroke-linejoin="round" stroke-linecap="round"/>
<path d="M67.5 228.0L67.7 227.7L68.7 192.7L69.5 176.0L69.5 153.3L70.7 152.0L72.0 139.7L74.0 138.8L76.0 127.5L77.3 136.7L78.2 176.0L78.2 176.0L78.7 189.3L80.0 196.0L81.2 208.5L83.3 208.5L84.5 192.7L86.2 176.0L86.2 168.3L86.7 158.3L87.8 148.3L89.5 146.3L92.0 146.3L92.8 153.3L93.7 176.0L93.7 176.0L94.2 188.5L95.3 181.0L96.2 183.5L97.0 176.0L97.0 176.0L98.3 175.0L100.0 175.0L101.3 173.3L102.3 176.0L102.8 176.0L103.7 187.7L105.7 191.8L106.7 194.3L107.8 206.0L110.7 207.7L111.7 212.7L112.8 226.0L113.7 239.3L125.0 239.3L125.8 256.8L127.0 249.3L128.7 222.7L129.5 196.0L130.0 176.0L130.0 176.0L131.2 141.7L132.0 137.3L134.7 137.3L135.7 141.7L136.7 161.7L138.0 165.8L139.0 176.0L139.0 176.0L139.5 182.7L142.0 185.2L145.3 186.0L146.2 192.7L147.0 184.3L147.3 176.0L147.4 176.0L147.7 162.5L151.2 162.5L152.3 165.8L154.7 166.7L155.3 176.0L155.4 176.0L155.7 192.7L157.0 216.0L160.3 216.8L162.0 201.0L163.3 192.7L163.7 176.0L164.0 176.0L165.3 141.7L166.7 122.0L169.0 122.0L170.0 138.3L171.2 140.0L172.3 151.7L173.3 176.0L173.4 176.0L174.0 192.7L175.0 211.0L177.0 211.8L178.7 192.7L179.5 177.7L180.7 182.7L184.5 183.5L186.2 186.0L187.0 185.2L187.3 176.0L187.4 176.0L188.2 151.7L189.0 171.7L189.7 176.0L189.7 175.0L190.7 141.7L191.7 130.3L194.0 130.0L195.0 126.0L195.8 138.3L196.5 150.0L197.8 124.2L199.0 133.3L200.7 144.2L203.7 144.7L204.7 158.3L205.7 170.0L207.0 176.0L207.0 176.0L208.7 178.5L210.3 179.3L211.2 196.0L212.8 201.8L220.0 202.7L221.2 204.3L222.8 192.7L224.5 184.3L226.2 181.8L227.8 199.3L229.5 201.0L231.2 192.7L232.8 199.3L234.5 189.3L237.8 189.3L238.7 206.0L240.3 211.8L242.0 206.0L242.1 206.0L245.7 205.7L247.0 196.0L249.0 185.2L250.7 190.2L253.7 191.0L255.0 205.2L256.2 176.0L256.2 176.0L257.3 144.2L259.5 134.2L262.8 133.3L264.8 112.5L265.8 133.3L267.0 142.5L268.3 108.3L270.7 108.0L272.0 119.2L273.3 105.3L275.3 115.0L276.2 133.3L277.0 160.8L279.5 161.3L280.7 152.5L281.3 176.0L281.4 176.0L282.8 189.3L284.5 205.2L287.0 206.8L289.2 215.2L291.2 192.7L292.8 199.3L295.7 200.2L297.8 186.8L300.0 211.8L301.7 192.7L303.3 182.7L305.3 183.5L306.7 192.7L308.3 176.0L308.4 176.0L309.5 161.7L311.2 166.7L312.8 167.5L314.5 161.7L316.2 162.5L317.3 150.0L318.3 160.0L320.3 162.5L324.0 161.7L325.0 176.0L325.0 176.0L326.2 181.8L327.8 189.3L330.3 191.0L332.8 196.8L334.5 187.7L338.7 187.3L340.3 176.0L340.4 176.0L342.5 166.3L343.7 176.0L343.7 176.0L345.0 199.3L347.8 201.0L351.2 211.0L352.8 196.8L355.3 195.2L357.0 196.0L359.5 188.5L362.0 200.2L364.5 201.0L366.2 189.3L367.3 200.2L368.7 192.7L370.3 182.7L372.0 181.8L374.0 192.7L374.5 176.0L374.5 176.0L376.2 161.7L377.8 150.0L379.0 145.8L380.3 150.3L384.0 150.8L385.3 158.3L387.0 168.3L387.8 176.0L387.9 176.0L388.7 183.5L391.3 184.3L391.7 176.0L391.7 176.0L392.8 162.5L394.0 176.0L394.0 176.0L395.3 184.3L397.3 187.7L399.5 214.3L408.7 214.7L410.7 239.3L413.3 216.0L415.0 224.3L416.7 223.5L418.3 207.7L419.0 211.8L419.3 218.5L421.3 205.2L424.2 204.3L425.3 197.3L426.7 210.2L428.0 192.3L429.2 197.7L433.3 197.7L434.0 206.0" fill="none" stroke="#2f4554" stroke-width="1.2" stroke-linejoin="round" stroke-linecap="round"/>
</g>
<text x="221.0" y="160.5" font-size="15.3" fill="#888888" fill-opacity="0.55">紫金天风期货</text>
<path d="M67.5 58.0V279.0" stroke="#555555" stroke-width="1"/>
<path d="M67.0 278.85H513.0" stroke="#6e6e6e" stroke-width="1.35"/>
<path d="M67.50 278.5v3.9" stroke="#666" stroke-width="1"/>
<text x="67.50" y="290.10" font-size="8.4" fill="#5a5a5a" text-anchor="middle" textLength="21.48">01-01</text>
<path d="M96.76 278.5v3.9" stroke="#666" stroke-width="1"/>
<text x="96.76" y="290.10" font-size="8.4" fill="#5a5a5a" text-anchor="middle" textLength="21.48">01-25</text>
<path d="M126.02 278.5v3.9" stroke="#666" stroke-width="1"/>
<text x="126.02" y="290.10" font-size="8.4" fill="#5a5a5a" text-anchor="middle" textLength="21.48">02-18</text>
<path d="M155.28 278.5v3.9" stroke="#666" stroke-width="1"/>
<text x="155.28" y="290.10" font-size="8.4" fill="#5a5a5a" text-anchor="middle" textLength="21.48">03-13</text>
<path d="M184.54 278.5v3.9" stroke="#666" stroke-width="1"/>
<text x="184.54" y="290.10" font-size="8.4" fill="#5a5a5a" text-anchor="middle" textLength="21.48">04-06</text>
<path d="M213.80 278.5v3.9" stroke="#666" stroke-width="1"/>
<text x="213.80" y="290.10" font-size="8.4" fill="#5a5a5a" text-anchor="middle" textLength="21.48">04-30</text>
<path d="M243.06 278.5v3.9" stroke="#666" stroke-width="1"/>
<text x="243.06" y="290.10" font-size="8.4" fill="#5a5a5a" text-anchor="middle" textLength="21.48">05-24</text>
<path d="M272.32 278.5v3.9" stroke="#666" stroke-width="1"/>
<text x="272.32" y="290.10" font-size="8.4" fill="#5a5a5a" text-anchor="middle" textLength="21.48">06-17</text>
<path d="M301.58 278.5v3.9" stroke="#666" stroke-width="1"/>
<text x="301.58" y="290.10" font-size="8.4" fill="#5a5a5a" text-anchor="middle" textLength="21.48">07-11</text>
<path d="M330.84 278.5v3.9" stroke="#666" stroke-width="1"/>
<text x="330.84" y="290.10" font-size="8.4" fill="#5a5a5a" text-anchor="middle" textLength="21.48">08-04</text>
<path d="M360.10 278.5v3.9" stroke="#666" stroke-width="1"/>
<text x="360.10" y="290.10" font-size="8.4" fill="#5a5a5a" text-anchor="middle" textLength="21.48">08-28</text>
<path d="M389.36 278.5v3.9" stroke="#666" stroke-width="1"/>
<text x="389.36" y="290.10" font-size="8.4" fill="#5a5a5a" text-anchor="middle" textLength="21.48">09-21</text>
<path d="M418.62 278.5v3.9" stroke="#666" stroke-width="1"/>
<text x="418.62" y="290.10" font-size="8.4" fill="#5a5a5a" text-anchor="middle" textLength="21.48">10-15</text>
<path d="M447.88 278.5v3.9" stroke="#666" stroke-width="1"/>
<text x="447.88" y="290.10" font-size="8.4" fill="#5a5a5a" text-anchor="middle" textLength="21.48">11-08</text>
<path d="M477.14 278.5v3.9" stroke="#666" stroke-width="1"/>
<text x="477.14" y="290.10" font-size="8.4" fill="#5a5a5a" text-anchor="middle" textLength="21.48">12-02</text>
<path d="M512.50 278.5v3.9" stroke="#666" stroke-width="1"/>
<text x="512.50" y="290.10" font-size="8.4" fill="#5a5a5a" text-anchor="middle" textLength="21.48">12-31</text>
<rect x="412.27" y="281.00" width="44.2" height="14" fill="#ffffff"/>
<text x="433.87" y="291.10" font-size="10.3" font-weight="bold" fill="#2f4554" text-anchor="middle" textLength="26.34">10-28</text>
<rect x="34.50" y="197.25" width="29.5" height="13" rx="1.5" fill="#ffffff" stroke="#e2e2e2" stroke-width="0.8"/>
<text x="62.50" y="207.45" font-size="10.2" font-weight="bold" fill="#2f4554" text-anchor="end" textLength="25.52">70.30</text></g>
<g clip-path="url(#pR)"><text x="565.00" y="12.50" font-size="10.5" fill="#262626" font-weight="bold">铁矿：成交量合计：中国主要港口（</text><text x="733.00" y="12.50" font-size="10.5" fill="#262626" font-weight="bold">5</text><text x="738.84" y="12.50" font-size="10.5" fill="#262626" font-weight="bold">日移动平均）</text>
<path d="M560 18.5H1096" stroke="#cccccc" stroke-width="1"/>
<path d="M579.25 25.75h16.25" stroke="#cccccc" stroke-width="1" fill="none"/><circle cx="587.35" cy="25.75" r="3.7" fill="#cccccc"/><text x="598.85" y="28.75" font-size="8.4" fill="#cccccc" textLength="18.69">2018</text>
<path d="M624.50 25.75h16.25" stroke="#cccccc" stroke-width="1" fill="none"/><circle cx="632.60" cy="25.75" r="3.7" fill="#cccccc"/><text x="644.10" y="28.75" font-size="8.4" fill="#cccccc" textLength="18.69">2019</text>
<path d="M669.75 25.75h16.25" stroke="#cccccc" stroke-width="1" fill="none"/><circle cx="677.85" cy="25.75" r="3.7" fill="#cccccc"/><text x="689.35" y="28.75" font-size="8.4" fill="#cccccc" textLength="18.69">2020</text>
<path d="M715.00 25.75h16.25" stroke="#cccccc" stroke-width="1" fill="none"/><circle cx="723.10" cy="25.75" r="3.7" fill="#cccccc"/><text x="734.60" y="28.75" font-size="8.4" fill="#cccccc" textLength="18.69">2021</text>
<path d="M760.25 25.75h16.25" stroke="#cccccc" stroke-width="1" fill="none"/><circle cx="768.35" cy="25.75" r="3.7" fill="#cccccc"/><text x="779.85" y="28.75" font-size="8.4" fill="#cccccc" textLength="18.69">2022</text>
<path d="M805.50 25.75h16.25" stroke="#c23531" stroke-width="1" fill="none"/><circle cx="813.60" cy="25.75" r="3.7" fill="#c23531"/><text x="825.10" y="28.75" font-size="8.4" fill="#333333" textLength="18.69">2023</text>
<path d="M850.75 25.75h16.25" stroke="#2f4554" stroke-width="1" fill="none"/><circle cx="858.85" cy="25.75" r="3.7" fill="#2f4554"/><text x="870.35" y="28.75" font-size="8.4" fill="#333333" textLength="18.69">2024</text>
<path d="M896.00 25.75h16.25" stroke="#666666" stroke-width="1" fill="none"/><circle cx="904.10" cy="25.75" r="3.7" fill="#666666"/><text x="915.60" y="28.75" font-size="8.4" fill="#333333" textLength="40.17">2018-2023</text><text x="955.77" y="28.75" font-size="7.9" fill="#333333">最大值</text>
<path d="M986.50 25.75h16.25" stroke="#666666" stroke-width="1" fill="none"/><circle cx="994.60" cy="25.75" r="3.7" fill="#666666"/><text x="1006.10" y="28.75" font-size="8.4" fill="#333333" textLength="40.17">2018-2023</text><text x="1046.27" y="28.75" font-size="7.9" fill="#333333">最小值</text>
<path d="M579.25 40.00h16.25" stroke="#666666" stroke-width="1" fill="none"/><circle cx="587.35" cy="40.00" r="3.7" fill="#666666"/><text x="598.85" y="43.00" font-size="8.4" fill="#333333" textLength="40.17">2018-2023</text><text x="639.02" y="43.00" font-size="7.9" fill="#333333">均值</text>
<path d="M629.5 58.5H1074.5" stroke="#ebebeb" stroke-width="1"/>
<path d="M625.75 58.5H629.5" stroke="#555555" stroke-width="1"/>
<text x="623.90" y="61.40" font-size="8.4" fill="#5a5a5a" text-anchor="end" textLength="13.38" lengthAdjust="spacingAndGlyphs">214</text>
<path d="M629.5 73.5H1074.5" stroke="#ebebeb" stroke-width="1"/>
<path d="M625.75 73.5H629.5" stroke="#555555" stroke-width="1"/>
<text x="623.90" y="76.40" font-size="8.4" fill="#5a5a5a" text-anchor="end" textLength="13.38" lengthAdjust="spacingAndGlyphs">200</text>
<path d="M629.5 128.5H1074.5" stroke="#ebebeb" stroke-width="1"/>
<path d="M625.75 128.5H629.5" stroke="#555555" stroke-width="1"/>
<text x="623.90" y="131.40" font-size="8.4" fill="#5a5a5a" text-anchor="end" textLength="13.38" lengthAdjust="spacingAndGlyphs">150</text>
<path d="M629.5 182.5H1074.5" stroke="#ebebeb" stroke-width="1"/>
<path d="M625.75 182.5H629.5" stroke="#555555" stroke-width="1"/>
<path d="M629.5 237.5H1074.5" stroke="#ebebeb" stroke-width="1"/>
<path d="M625.75 237.5H629.5" stroke="#555555" stroke-width="1"/>
<text x="623.90" y="240.40" font-size="8.4" fill="#5a5a5a" text-anchor="end" textLength="8.92" lengthAdjust="spacingAndGlyphs">50</text>
<path d="M625.75 278.5H629.5" stroke="#555555" stroke-width="1"/>
<text x="623.90" y="281.40" font-size="8.4" fill="#5a5a5a" text-anchor="end" textLength="8.92" lengthAdjust="spacingAndGlyphs">12</text>
<g clip-path="url(#cliptr)">
<path d="M629.5 160.0L630.0 158.2L630.5 127.3L631.0 96.0L631.5 93.5L632.0 93.3L632.5 93.2L633.0 93.0L633.5 92.8L634.0 92.7L634.5 87.2L635.0 81.7L635.5 76.2L636.0 71.4L636.5 67.0L637.0 62.7L637.5 62.9L638.0 69.0L638.5 78.0L639.0 84.9L639.5 90.7L640.0 96.6L640.5 102.4L641.0 104.8L641.5 105.4L642.0 106.0L642.5 108.8L643.0 111.5L643.5 114.3L644.0 115.9L644.5 117.0L645.0 120.0L645.5 127.0L646.0 130.3L646.5 131.8L647.0 133.3L647.5 134.2L648.0 133.9L648.5 133.6L649.0 133.2L649.5 134.2L650.0 137.8L650.5 141.5L651.0 143.4L651.5 144.6L652.0 145.8L652.5 146.9L653.0 148.1L653.5 147.5L654.0 146.0L654.5 144.5L655.0 143.5L655.5 143.5L656.0 143.5L656.5 143.5L657.0 143.5L657.5 146.7L658.0 149.9L658.5 151.1L659.0 151.3L659.5 151.4L660.0 151.6L660.5 151.8L661.0 153.1L661.5 155.1L662.0 157.0L662.5 159.3L663.0 162.3L663.5 165.3L664.0 168.3L664.5 169.6L665.0 170.8L665.5 172.1L666.0 173.3L666.5 177.6L667.0 181.8L667.5 186.0L668.0 190.3L668.5 192.7L669.0 194.2L669.5 195.7L670.0 196.8L670.5 197.1L671.0 197.4L671.5 197.7L672.0 198.0L672.5 198.3L673.0 198.6L673.5 198.9L674.0 199.2L674.5 199.9L675.0 200.7L675.5 201.4L676.0 202.2L676.5 202.9L677.0 203.7L677.5 204.4L678.0 205.2L678.5 205.9L679.0 206.7L679.5 205.3L680.0 203.9L680.5 202.5L681.0 201.1L681.5 199.8L682.0 197.6L682.5 194.4L683.0 193.1L683.5 192.7L684.0 192.3L684.5 191.5L685.0 190.1L685.5 188.7L686.0 187.3L686.5 185.5L687.0 183.7L687.5 183.7L688.0 183.7L688.5 183.7L689.0 183.7L689.5 183.7L690.0 183.7L690.5 183.7L691.0 182.4L691.5 181.1L692.0 179.8L692.5 178.4L693.0 177.1L693.5 177.0L694.0 175.8L694.5 175.0L695.0 174.2L695.5 173.3L696.0 172.5L696.5 171.5L697.0 170.6L697.5 169.6L698.0 168.7L698.5 168.4L699.0 168.6L699.5 168.7L700.0 168.9L700.5 169.0L701.0 169.2L701.5 169.7L702.0 170.3L702.5 170.9L703.0 171.5L703.5 170.1L704.0 167.8L704.5 165.4L705.0 163.1L705.5 160.8L706.0 159.0L706.5 157.5L707.0 156.0L707.5 154.8L708.0 154.3L708.5 153.8L709.0 153.3L709.5 152.8L710.0 152.1L710.5 151.0L711.0 149.9L711.5 148.8L712.0 147.6L712.5 146.5L713.0 145.4L713.5 144.0L714.0 142.5L714.5 141.0L715.0 141.7L715.5 143.9L716.0 140.2L716.5 136.4L717.0 132.7L717.5 130.1L718.0 129.9L718.5 129.7L719.0 129.5L719.5 128.4L720.0 125.7L720.5 122.9L721.0 120.2L721.5 117.9L722.0 115.7L722.5 113.4L723.0 111.5L723.5 109.7L724.0 108.0L724.5 109.2L725.0 110.3L725.5 111.5L726.0 111.9L726.5 112.0L727.0 112.2L727.5 112.3L728.0 114.9L728.5 118.8L729.0 122.7L729.5 122.8L730.0 122.9L730.5 124.6L731.0 129.5L731.5 134.4L732.0 139.3L732.5 149.3L733.0 146.7L733.5 151.0L734.0 155.3L734.5 159.6L735.0 162.6L735.5 162.7L736.0 162.9L736.5 163.1L737.0 163.2L737.5 162.0L738.0 158.0L738.5 154.0L739.0 150.0L739.5 141.0L740.0 136.0L740.5 131.0L741.0 127.7L741.5 125.2L742.0 122.7L742.5 120.2L743.0 117.4L743.5 114.5L744.0 113.5L744.5 113.5L745.0 113.5L745.5 113.5L746.0 113.5L746.5 113.5L747.0 113.5L747.5 103.1L748.0 92.8L748.5 85.8L749.0 80.4L749.5 77.2L750.0 78.5L750.5 79.8L751.0 79.1L751.5 77.6L752.0 76.1L752.5 74.5L753.0 73.9L753.5 73.8L754.0 73.8L754.5 73.7L755.0 73.6L755.5 75.8L756.0 82.5L756.5 89.3L757.0 94.3L757.5 99.3L758.0 104.3L758.5 109.7L759.0 115.3L759.5 119.0L760.0 119.1L760.5 119.2L761.0 119.3L761.5 119.3L762.0 118.6L762.5 117.9L763.0 117.5L763.5 117.2L764.0 117.0L764.5 115.3L765.0 110.8L765.5 106.2L766.0 105.4L766.5 106.5L767.0 107.7L767.5 107.6L768.0 107.5L768.5 107.4L769.0 107.3L769.5 110.6L770.0 113.8L770.5 116.0L771.0 116.1L771.5 116.2L772.0 116.3L772.5 117.0L773.0 118.9L773.5 120.8L774.0 122.7L774.5 129.2L775.0 135.8L775.5 140.2L776.0 140.2L776.5 140.2L777.0 140.2L777.5 140.2L778.0 140.2L778.5 140.2L779.0 140.2L779.5 140.2L780.0 140.2L780.5 140.2L781.0 140.2L781.5 140.2L782.0 125.2L782.5 116.8L783.0 121.8L783.5 126.8L784.0 131.8L784.5 131.5L785.0 131.2L785.5 130.8L786.0 130.5L786.5 130.2L787.0 127.4L787.5 124.7L788.0 121.9L788.5 123.7L789.0 127.7L789.5 131.7L790.0 135.3L790.5 138.3L791.0 141.3L791.5 144.3L792.0 133.6L792.5 122.9L793.0 116.0L793.5 111.0L794.0 109.6L794.5 109.9L795.0 110.2L795.5 110.6L796.0 110.9L796.5 111.2L797.0 111.6L797.5 111.9L798.0 112.2L798.5 112.6L799.0 116.8L799.5 119.3L800.0 114.3L800.5 109.3L801.0 104.3L801.5 105.9L802.0 107.5L802.5 108.6L803.0 108.9L803.5 109.1L804.0 109.3L804.5 109.6L805.0 109.8L805.5 110.1L806.0 112.5L806.5 115.9L807.0 119.3L807.5 106.5L808.0 93.6L808.5 94.0L809.0 101.0L809.5 108.0L810.0 113.1L810.5 114.5L811.0 115.8L811.5 117.2L812.0 118.5L812.5 118.1L813.0 117.7L813.5 117.2L814.0 116.8L814.5 110.3L815.0 103.8L815.5 97.3L816.0 98.5L816.5 103.5L817.0 108.5L817.5 108.8L818.0 109.0L818.5 109.3L819.0 111.8L819.5 114.3L820.0 114.3L820.5 114.3L821.0 114.3L821.5 114.3L822.0 116.8L822.5 119.3L823.0 121.8L823.5 126.3L824.0 131.8L824.5 137.3L825.0 137.9L825.5 128.6L826.0 119.3L826.5 122.5L827.0 125.6L827.5 126.3L828.0 122.3L828.5 118.3L829.0 114.3L829.5 114.0L830.0 113.7L830.5 113.3L831.0 113.0L831.5 112.7L832.0 112.5L832.5 112.4L833.0 112.3L833.5 112.2L834.0 112.0L834.5 111.9L835.0 112.0L835.5 112.5L836.0 113.0L836.5 113.5L837.0 113.2L837.5 113.0L838.0 112.7L838.5 111.2L839.0 108.9L839.5 106.7L840.0 106.1L840.5 109.0L841.0 111.9L841.5 114.8L842.0 117.7L842.5 117.8L843.0 117.9L843.5 118.0L844.0 118.2L844.5 118.3L845.0 118.4L845.5 119.2L846.0 121.5L846.5 123.7L847.0 126.0L847.5 130.0L848.0 134.0L848.5 138.0L849.0 136.1L849.5 131.3L850.0 126.6L850.5 121.8L851.0 120.0L851.5 119.8L852.0 119.5L852.5 119.7L853.0 121.0L853.5 122.3L854.0 127.0L854.5 133.4L855.0 137.9L855.5 138.4L856.0 139.0L856.5 139.6L857.0 140.2L857.5 141.6L858.0 143.0L858.5 142.3L859.0 140.6L859.5 138.8L860.0 137.6L860.5 137.5L861.0 137.4L861.5 137.3L862.0 137.2L862.5 137.1L863.0 137.0L863.5 136.9L864.0 135.3L864.5 133.1L865.0 130.8L865.5 128.7L866.0 126.7L866.5 124.7L867.0 122.7L867.5 122.5L868.0 122.2L868.5 122.0L869.0 121.8L869.5 119.8L870.0 117.8L870.5 115.8L871.0 115.2L871.5 115.2L872.0 115.2L872.5 115.2L873.0 115.2L873.5 115.2L874.0 115.2L874.5 118.7L875.0 122.2L875.5 125.8L876.0 129.3L876.5 129.6L877.0 130.0L877.5 129.6L878.0 127.8L878.5 126.1L879.0 124.3L879.5 124.3L880.0 124.2L880.5 124.2L881.0 124.1L881.5 124.1L882.0 124.0L882.5 123.2L883.0 120.9L883.5 118.6L884.0 116.2L884.5 115.7L885.0 118.7L885.5 121.7L886.0 124.7L886.5 127.7L887.0 127.8L887.5 128.0L888.0 128.2L888.5 128.3L889.0 128.5L889.5 130.3L890.0 132.0L890.5 133.8L891.0 134.5L891.5 134.8L892.0 135.0L892.5 135.2L893.0 135.5L893.5 135.8L894.0 136.0L894.5 137.2L895.0 138.5L895.5 139.8L896.0 141.0L896.5 141.0L897.0 141.0L897.5 141.0L898.0 141.0L898.5 136.7L899.0 130.3L899.5 126.1L900.0 126.3L900.5 126.6L901.0 126.8L901.5 122.6L902.0 118.3L902.5 114.1L903.0 109.4L903.5 104.5L904.0 99.6L904.5 96.3L905.0 96.3L905.5 96.2L906.0 96.1L906.5 96.1L907.0 96.0L907.5 100.6L908.0 105.3L908.5 104.3L909.0 100.6L909.5 96.8L910.0 95.5L910.5 99.0L911.0 102.5L911.5 106.0L912.0 108.3L912.5 110.5L913.0 112.8L913.5 113.5L914.0 113.5L914.5 113.5L915.0 113.5L915.5 114.3L916.0 116.6L916.5 118.8L917.0 121.1L917.5 126.0L918.0 136.0L918.5 137.8L919.0 135.4L919.5 133.1L920.0 130.8L920.5 128.4L921.0 127.0L921.5 126.0L922.0 125.0L922.5 124.3L923.0 124.3L923.5 124.3L924.0 124.3L924.5 122.3L925.0 116.1L925.5 110.0L926.0 103.8L926.5 97.7L927.0 91.6L927.5 85.5L928.0 81.7L928.5 79.0L929.0 76.3L929.5 76.3L930.0 76.3L930.5 76.3L931.0 76.3L931.5 76.3L932.0 76.3L932.5 76.9L933.0 78.7L933.5 80.4L934.0 88.1L934.5 98.9L935.0 107.7L935.5 112.7L936.0 117.7L936.5 122.7L937.0 122.9L937.5 123.2L938.0 123.4L938.5 125.4L939.0 128.3L939.5 130.2L940.0 130.2L940.5 130.2L941.0 130.2L941.5 130.2L942.0 129.4L942.5 128.7L943.0 127.9L943.5 127.5L944.0 127.2L944.5 127.0L945.0 125.3L945.5 120.6L946.0 116.0L946.5 120.4L947.0 124.7L947.5 127.7L948.0 127.9L948.5 128.1L949.0 128.2L949.5 128.4L950.0 128.8L950.5 129.8L951.0 130.8L951.5 131.8L952.0 130.1L952.5 128.3L953.0 126.6L953.5 130.6L954.0 137.5L954.5 144.3L955.0 133.2L955.5 122.1L956.0 111.0L956.5 108.2L957.0 105.5L957.5 102.7L958.0 101.0L958.5 99.8L959.0 98.5L959.5 99.6L960.0 105.6L960.5 111.5L961.0 113.5L961.5 113.5L962.0 113.5L962.5 113.5L963.0 113.5L963.5 113.5L964.0 113.5L964.5 113.5L965.0 113.5L965.5 113.5L966.0 113.5L966.5 113.5L967.0 113.5L967.5 113.5L968.0 113.5L968.5 113.5L969.0 113.5L969.5 113.5L970.0 113.5L970.5 121.9L971.0 130.4L971.5 136.6L972.0 138.3L972.5 140.1L973.0 141.8L973.5 143.6L974.0 145.4L974.5 144.3L975.0 141.8L975.5 139.3L976.0 137.6L976.5 137.4L977.0 137.3L977.5 137.1L978.0 136.9L978.5 136.3L979.0 134.5L979.5 132.8L980.0 131.0L980.5 132.6L981.0 134.1L981.5 135.1L982.0 135.0L982.5 134.9L983.0 134.8L983.5 134.7L984.0 134.6L984.5 134.4L985.0 134.3L985.5 131.2L986.0 128.1L986.5 124.9L987.0 121.7L987.5 118.5L988.0 123.1L988.5 127.8L989.0 131.2L989.5 134.0L990.0 136.8L990.5 137.0L991.0 137.2L991.5 137.5L992.0 137.7L992.5 138.9L993.0 140.2L993.5 141.1L994.0 141.3L994.5 141.5L995.0 141.7L995.5 142.2L996.0 143.5L996.5 144.8L997.0 145.5L997.5 146.0L998.0 146.5L998.5 148.1L999.0 151.9L999.5 155.7L1000.0 160.2L1000.5 165.0L1001.0 161.6L1001.5 158.1L1002.0 156.3L1002.5 155.3L1003.0 154.2L1003.5 153.2L1004.0 152.2L1004.5 150.3L1005.0 147.9L1005.5 145.6L1006.0 143.3L1006.5 140.9L1007.0 140.2L1007.5 140.2L1008.0 140.2L1008.5 140.2L1009.0 140.8L1009.5 141.7L1010.0 142.7L1010.5 142.2L1011.0 141.8L1011.5 141.4L1012.0 141.0L1012.5 140.0L1013.0 139.1L1013.5 138.1L1014.0 137.2L1014.5 139.5L1015.0 143.4L1015.5 145.7L1016.0 145.0L1016.5 144.2L1017.0 143.4L1017.5 142.7L1018.0 141.5L1018.5 140.4L1019.0 139.2L1019.5 138.1L1020.0 137.2L1020.5 136.6L1021.0 136.0L1021.5 135.4L1022.0 135.0L1022.5 134.6L1023.0 134.3L1023.5 130.3L1024.0 126.3L1024.5 122.3L1025.0 121.5L1025.5 122.2L1026.0 123.0L1026.5 123.5L1027.0 123.5L1027.5 123.5L1028.0 123.5L1028.5 123.5L1029.0 116.4L1029.5 105.8L1030.0 95.2L1030.5 106.7L1031.0 118.3L1031.5 127.9L1032.0 133.6L1032.5 139.3L1033.0 139.2L1033.5 139.0L1034.0 138.8L1034.5 138.7L1035.0 138.5L1035.5 136.6L1036.0 134.7L1036.5 133.9L1037.0 134.9L1037.5 136.0L1038.0 134.0L1038.5 133.9L1039.0 137.7L1039.5 141.4L1040.0 141.7L1040.5 140.2L1041.0 138.7L1041.5 137.6L1042.0 137.4L1042.5 137.2L1043.0 137.1L1043.5 136.9L1044.0 135.8L1044.5 134.2L1045.0 132.7L1045.5 132.0L1046.0 131.4L1046.5 130.8L1047.0 130.2L1047.5 127.0L1048.0 123.9L1048.5 123.8L1049.0 129.8L1049.5 135.7L1050.0 138.0L1050.5 138.5L1051.0 139.0L1051.5 140.1L1052.0 142.3L1052.5 144.6L1053.0 146.8L1053.5 144.8L1054.0 142.8L1054.5 140.8L1055.0 142.5L1055.5 146.0L1056.0 149.5L1056.5 149.9L1057.0 144.2L1057.5 138.4L1058.0 132.7L1058.5 132.5L1059.0 132.2L1059.5 132.0L1060.0 131.8L1060.5 124.6L1061.0 117.3L1061.5 110.1L1062.0 110.7L1062.5 115.2L1063.0 119.7L1063.5 123.9L1064.0 127.7L1064.5 131.4L1065.0 135.2L1065.5 138.6L1066.0 141.3L1066.5 144.0L1067.0 146.8L1067.5 147.5L1068.0 147.3L1068.5 147.1L1069.0 146.9L1069.5 146.7L1070.0 146.6L1070.5 146.4L1071.0 146.2L1071.5 146.1L1072.0 140.2L1072.5 131.4L1073.0 122.7L1073.5 122.3L1074.0 122.0L1074.0 206.6L1073.5 206.5L1073.0 206.4L1072.5 206.3L1072.0 206.2L1071.5 206.1L1071.0 206.0L1070.5 205.9L1070.0 205.8L1069.5 205.5L1069.0 205.1L1068.5 204.7L1068.0 204.3L1067.5 204.0L1067.0 203.6L1066.5 203.4L1066.0 203.5L1065.5 203.6L1065.0 203.7L1064.5 203.8L1064.0 203.9L1063.5 204.0L1063.0 204.1L1062.5 204.2L1062.0 203.0L1061.5 201.9L1061.0 200.8L1060.5 199.7L1060.0 198.5L1059.5 197.4L1059.0 196.5L1058.5 196.0L1058.0 195.5L1057.5 195.0L1057.0 194.5L1056.5 194.0L1056.0 193.5L1055.5 193.2L1055.0 192.9L1054.5 192.7L1054.0 192.4L1053.5 192.2L1053.0 191.9L1052.5 191.7L1052.0 193.0L1051.5 194.3L1051.0 195.7L1050.5 197.0L1050.0 198.3L1049.5 196.7L1049.0 195.0L1048.5 193.3L1048.0 191.7L1047.5 190.0L1047.0 190.8L1046.5 191.7L1046.0 192.5L1045.5 193.3L1045.0 194.2L1044.5 193.8L1044.0 193.4L1043.5 193.0L1043.0 192.7L1042.5 192.3L1042.0 191.9L1041.5 192.7L1041.0 195.7L1040.5 198.7L1040.0 201.7L1039.5 204.7L1039.0 207.4L1038.5 209.7L1038.0 211.9L1037.5 214.2L1037.0 214.0L1036.5 213.9L1036.0 213.8L1035.5 213.7L1035.0 213.5L1034.5 213.4L1034.0 213.8L1033.5 215.3L1033.0 216.8L1032.5 218.3L1032.0 217.3L1031.5 216.3L1031.0 215.3L1030.5 214.3L1030.0 213.3L1029.5 213.3L1029.0 213.3L1028.5 213.3L1028.0 213.3L1027.5 213.3L1027.0 213.0L1026.5 212.7L1026.0 212.3L1025.5 212.0L1025.0 211.7L1024.5 212.0L1024.0 212.3L1023.5 212.7L1023.0 213.0L1022.5 213.3L1022.0 216.8L1021.5 220.3L1021.0 223.7L1020.5 227.2L1020.0 228.0L1019.5 227.5L1019.0 227.0L1018.5 225.6L1018.0 222.2L1017.5 218.9L1017.0 215.6L1016.5 212.8L1016.0 211.3L1015.5 209.8L1015.0 208.3L1014.5 206.8L1014.0 205.3L1013.5 203.8L1013.0 202.3L1012.5 200.8L1012.0 199.3L1011.5 198.9L1011.0 200.6L1010.5 202.2L1010.0 203.9L1009.5 205.6L1009.0 206.1L1008.5 204.2L1008.0 202.4L1007.5 200.6L1007.0 198.7L1006.5 197.8L1006.0 198.7L1005.5 199.5L1005.0 200.4L1004.5 201.3L1004.0 202.2L1003.5 203.0L1003.0 204.2L1002.5 205.6L1002.0 206.9L1001.5 208.2L1001.0 209.6L1000.5 209.6L1000.0 208.9L999.5 208.2L999.0 207.6L998.5 206.9L998.0 206.7L997.5 206.8L997.0 207.5L996.5 207.6L996.0 207.8L995.5 207.9L995.0 208.0L994.5 209.1L994.0 210.2L993.5 211.4L993.0 212.5L992.5 211.3L992.0 210.2L991.5 209.0L991.0 208.1L990.5 208.2L990.0 208.3L989.5 208.6L989.0 209.1L988.5 209.5L988.0 209.9L987.5 210.3L987.0 210.1L986.5 209.9L986.0 209.7L985.5 209.5L985.0 209.3L984.5 209.5L984.0 210.6L983.5 211.6L983.0 212.6L982.5 213.7L982.0 212.6L981.5 211.5L981.0 210.4L980.5 210.0L980.0 210.0L979.5 210.0L979.0 210.0L978.5 210.0L978.0 210.0L977.5 210.0L977.0 210.0L976.5 210.0L976.0 210.0L975.5 212.7L975.0 215.4L974.5 218.1L974.0 220.8L973.5 223.5L973.0 226.2L972.5 227.3L972.0 225.1L971.5 223.0L971.0 220.9L970.5 218.7L970.0 216.6L969.5 214.4L969.0 213.0L968.5 213.0L968.0 213.0L967.5 213.0L967.0 213.0L966.5 213.0L966.0 213.0L965.5 213.0L965.0 213.0L964.5 213.0L964.0 213.0L963.5 213.0L963.0 213.0L962.5 213.0L962.0 213.0L961.5 213.0L961.0 213.0L960.5 213.0L960.0 213.0L959.5 211.6L959.0 207.5L958.5 203.3L958.0 199.2L957.5 195.0L957.0 195.3L956.5 195.7L956.0 196.0L955.5 196.3L955.0 196.7L954.5 199.7L954.0 202.7L953.5 205.7L953.0 207.1L952.5 207.7L952.0 208.3L951.5 209.0L951.0 209.6L950.5 210.2L950.0 210.8L949.5 210.0L949.0 209.1L948.5 208.3L948.0 208.5L947.5 209.1L947.0 209.8L946.5 210.5L946.0 211.2L945.5 211.8L945.0 212.5L944.5 212.1L944.0 211.8L943.5 211.4L943.0 211.0L942.5 210.6L942.0 210.3L941.5 209.9L941.0 209.5L940.5 209.1L940.0 208.7L939.5 208.3L939.0 207.9L938.5 207.5L938.0 207.1L937.5 206.7L937.0 205.2L936.5 203.7L936.0 202.2L935.5 200.7L935.0 199.2L934.5 197.7L934.0 196.5L933.5 196.1L933.0 195.7L932.5 195.3L932.0 194.9L931.5 194.5L931.0 194.1L930.5 193.7L930.0 193.3L929.5 191.5L929.0 189.7L928.5 187.8L928.0 186.0L927.5 184.2L927.0 185.3L926.5 186.5L926.0 187.7L925.5 188.8L925.0 190.0L924.5 193.0L924.0 196.0L923.5 199.0L923.0 202.0L922.5 205.0L922.0 207.1L921.5 209.2L921.0 211.3L920.5 213.5L920.0 212.5L919.5 210.0L919.0 208.2L918.5 207.7L918.0 207.2L917.5 206.7L917.0 206.2L916.5 205.9L916.0 206.0L915.5 206.1L915.0 206.2L914.5 206.3L914.0 206.4L913.5 206.5L913.0 206.6L912.5 206.7L912.0 208.2L911.5 209.7L911.0 211.2L910.5 212.7L910.0 214.2L909.5 211.9L909.0 209.7L908.5 207.4L908.0 206.2L907.5 205.4L907.0 204.7L906.5 203.9L906.0 203.2L905.5 202.4L905.0 201.7L904.5 201.2L904.0 200.8L903.5 200.4L903.0 200.0L902.5 199.6L902.0 199.2L901.5 198.8L901.0 198.3L900.5 197.9L900.0 197.5L899.5 197.6L899.0 197.7L898.5 197.8L898.0 198.0L897.5 198.2L897.0 198.2L896.5 198.3L896.0 199.8L895.5 201.3L895.0 202.8L894.5 203.8L894.0 204.4L893.5 205.1L893.0 205.8L892.5 206.4L892.0 207.3L891.5 208.3L891.0 209.3L890.5 210.3L890.0 211.3L889.5 211.3L889.0 210.8L888.5 210.3L888.0 209.8L887.5 209.3L887.0 208.8L886.5 208.3L886.0 207.8L885.5 207.3L885.0 206.8L884.5 206.3L884.0 205.8L883.5 207.1L883.0 208.3L882.5 209.6L882.0 210.4L881.5 211.1L881.0 211.8L880.5 212.4L880.0 213.1L879.5 214.4L879.0 216.1L878.5 217.8L878.0 219.4L877.5 221.1L877.0 222.7L876.5 224.2L876.0 225.7L875.5 226.3L875.0 225.3L874.5 224.3L874.0 223.3L873.5 222.2L873.0 221.1L872.5 220.0L872.0 218.8L871.5 217.7L871.0 216.6L870.5 215.7L870.0 215.2L869.5 214.7L869.0 214.2L868.5 213.7L868.0 213.4L867.5 213.5L867.0 213.6L866.5 213.7L866.0 213.8L865.5 213.9L865.0 214.0L864.5 214.1L864.0 214.2L863.5 214.8L863.0 215.4L862.5 216.0L862.0 216.7L861.5 217.3L861.0 217.9L860.5 218.1L860.0 217.2L859.5 216.4L859.0 215.6L858.5 214.7L858.0 214.5L857.5 215.7L857.0 216.8L856.5 217.9L856.0 219.0L855.5 220.2L855.0 221.3L854.5 220.2L854.0 217.9L853.5 215.7L853.0 214.1L852.5 213.8L852.0 213.6L851.5 213.3L851.0 214.3L850.5 215.3L850.0 216.3L849.5 217.3L849.0 218.3L848.5 219.3L848.0 220.5L847.5 222.0L847.0 223.5L846.5 225.0L846.0 224.0L845.5 223.0L845.0 222.0L844.5 221.8L844.0 222.1L843.5 222.3L843.0 222.6L842.5 222.8L842.0 223.1L841.5 223.3L841.0 224.8L840.5 226.3L840.0 227.8L839.5 227.3L839.0 225.8L838.5 224.3L838.0 222.2L837.5 218.7L837.0 215.2L836.5 211.7L836.0 210.7L835.5 209.7L835.0 208.7L834.5 207.7L834.0 206.7L833.5 205.0L833.0 203.3L832.5 201.7L832.0 200.0L831.5 198.3L831.0 198.0L830.5 197.7L830.0 197.3L829.5 197.0L829.0 196.7L828.5 195.3L828.0 193.9L827.5 192.5L827.0 192.0L826.5 191.9L826.0 191.9L825.5 191.9L825.0 191.8L824.5 191.8L824.0 191.8L823.5 191.7L823.0 191.7L822.5 191.7L822.0 192.3L821.5 193.3L821.0 194.3L820.5 195.3L820.0 196.3L819.5 197.3L819.0 198.3L818.5 201.5L818.0 204.6L817.5 208.3L817.0 213.1L816.5 216.4L816.0 216.4L815.5 216.5L815.0 216.6L814.5 216.6L814.0 217.0L813.5 218.0L813.0 219.0L812.5 220.0L812.0 225.7L811.5 231.4L811.0 234.1L810.5 235.3L810.0 236.4L809.5 237.6L809.0 238.0L808.5 237.0L808.0 236.0L807.5 235.0L807.0 234.0L806.5 233.1L806.0 232.3L805.5 231.6L805.0 230.8L804.5 230.1L804.0 229.3L803.5 228.6L803.0 226.8L802.5 224.6L802.0 222.3L801.5 220.8L801.0 220.8L800.5 220.8L800.0 220.8L799.5 220.8L799.0 220.9L798.5 221.1L798.0 221.3L797.5 221.5L797.0 221.7L796.5 218.7L796.0 215.7L795.5 212.7L795.0 213.3L794.5 215.8L794.0 218.3L793.5 220.8L793.0 221.8L792.5 221.9L792.0 222.1L791.5 222.3L791.0 222.4L790.5 222.8L790.0 223.3L789.5 223.8L789.0 224.3L788.5 224.8L788.0 226.8L787.5 229.6L787.0 232.3L786.5 233.3L786.0 230.5L785.5 227.8L785.0 225.0L784.5 231.5L784.0 235.9L783.5 236.2L783.0 236.4L782.5 236.7L782.0 236.9L781.5 237.2L781.0 237.4L780.5 237.7L780.0 237.9L779.5 238.2L779.0 238.9L778.5 240.8L778.0 242.6L777.5 244.4L777.0 246.3L776.5 247.5L776.0 247.6L775.5 247.6L775.0 247.7L774.5 247.7L774.0 247.8L773.5 247.8L773.0 247.4L772.5 246.7L772.0 246.0L771.5 245.4L771.0 244.7L770.5 244.0L770.0 243.3L769.5 241.1L769.0 238.8L768.5 236.6L768.0 235.7L767.5 235.4L767.0 235.2L766.5 235.1L766.0 235.2L765.5 235.4L765.0 235.6L764.5 235.7L764.0 235.8L763.5 235.8L763.0 235.8L762.5 235.8L762.0 235.8L761.5 236.7L761.0 239.5L760.5 242.2L760.0 245.0L759.5 247.1L759.0 247.8L758.5 247.8L758.0 247.8L757.5 247.8L757.0 247.8L756.5 247.8L756.0 247.8L755.5 247.8L755.0 247.8L754.5 247.8L754.0 247.8L753.5 247.8L753.0 247.8L752.5 247.8L752.0 247.8L751.5 247.8L751.0 247.8L750.5 247.8L750.0 247.8L749.5 247.8L749.0 247.8L748.5 247.8L748.0 247.8L747.5 247.8L747.0 247.8L746.5 247.8L746.0 247.8L745.5 247.8L745.0 247.8L744.5 247.8L744.0 247.8L743.5 247.8L743.0 247.8L742.5 247.8L742.0 247.8L741.5 247.8L741.0 247.8L740.5 247.8L740.0 247.8L739.5 247.8L739.0 247.8L738.5 247.8L738.0 247.8L737.5 247.8L737.0 247.8L736.5 247.8L736.0 247.8L735.5 247.8L735.0 247.8L734.5 247.8L734.0 247.8L733.5 247.8L733.0 247.8L732.5 247.8L732.0 247.8L731.5 247.8L731.0 247.8L730.5 247.8L730.0 247.8L729.5 247.8L729.0 247.8L728.5 247.8L728.0 247.8L727.5 247.8L727.0 247.8L726.5 247.8L726.0 247.8L725.5 247.8L725.0 247.8L724.5 247.8L724.0 247.8L723.5 247.8L723.0 247.8L722.5 247.8L722.0 247.8L721.5 247.8L721.0 247.8L720.5 247.8L720.0 247.8L719.5 247.8L719.0 247.8L718.5 247.8L718.0 247.8L717.5 247.8L717.0 247.8L716.5 247.8L716.0 247.8L715.5 247.8L715.0 247.8L714.5 247.8L714.0 247.8L713.5 247.8L713.0 247.8L712.5 247.8L712.0 247.8L711.5 247.8L711.0 247.8L710.5 247.8L710.0 247.8L709.5 247.8L709.0 247.8L708.5 247.8L708.0 247.8L707.5 247.8L707.0 247.8L706.5 247.8L706.0 247.8L705.5 247.8L705.0 247.8L704.5 247.8L704.0 247.8L703.5 247.8L703.0 247.8L702.5 247.8L702.0 247.8L701.5 247.8L701.0 247.8L700.5 247.8L700.0 247.8L699.5 247.8L699.0 247.8L698.5 247.8L698.0 247.8L697.5 247.8L697.0 247.8L696.5 247.8L696.0 247.8L695.5 247.8L695.0 247.8L694.5 247.8L694.0 247.8L693.5 247.8L693.0 247.8L692.5 247.8L692.0 247.8L691.5 247.8L691.0 247.8L690.5 247.8L690.0 247.8L689.5 247.8L689.0 247.8L688.5 247.8L688.0 247.8L687.5 247.8L687.0 247.8L686.5 247.8L686.0 247.8L685.5 247.8L685.0 247.8L684.5 247.8L684.0 247.8L683.5 247.8L683.0 247.8L682.5 247.8L682.0 247.8L681.5 247.8L681.0 247.8L680.5 247.8L680.0 247.8L679.5 247.8L679.0 247.8L678.5 247.8L678.0 247.8L677.5 247.8L677.0 247.8L676.5 247.8L676.0 247.8L675.5 247.8L675.0 247.8L674.5 247.8L674.0 247.8L673.5 247.8L673.0 247.8L672.5 247.8L672.0 247.8L671.5 247.8L671.0 247.8L670.5 247.8L670.0 247.8L669.5 247.8L669.0 247.8L668.5 247.8L668.0 247.8L667.5 247.8L667.0 247.8L666.5 247.8L666.0 247.8L665.5 247.8L665.0 247.8L664.5 247.8L664.0 247.8L663.5 247.8L663.0 247.8L662.5 247.8L662.0 247.8L661.5 247.8L661.0 247.8L660.5 247.8L660.0 247.8L659.5 247.8L659.0 247.8L658.5 247.8L658.0 247.8L657.5 247.8L657.0 247.8L656.5 247.8L656.0 247.8L655.5 247.8L655.0 247.8L654.5 247.8L654.0 247.8L653.5 247.8L653.0 247.8L652.5 247.8L652.0 247.8L651.5 247.8L651.0 247.8L650.5 247.8L650.0 247.8L649.5 247.8L649.0 247.8L648.5 247.8L648.0 247.8L647.5 247.8L647.0 247.8L646.5 247.8L646.0 247.8L645.5 247.8L645.0 247.8L644.5 247.8L644.0 247.8L643.5 247.8L643.0 247.8L642.5 247.8L642.0 247.8L641.5 247.8L641.0 247.8L640.5 247.8L640.0 247.8L639.5 247.8L639.0 247.8L638.5 247.8L638.0 247.8L637.5 247.8L637.0 247.8L636.5 247.8L636.0 247.8L635.5 247.8L635.0 247.8L634.5 247.8L634.0 247.8L633.5 247.8L633.0 247.8L632.5 247.8L632.0 247.8L631.5 247.8L631.0 247.8L630.5 247.8L630.0 247.8L629.5 247.8Z" fill="#000" fill-opacity="0.1"/>
<path d="M629.8 183.7L632.3 175.0L634.8 161.7L637.3 153.3L639.8 150.8L641.5 158.3L644.0 169.2L647.3 172.5L649.8 172.5L652.3 188.3L654.8 193.3L659.0 201.7L661.5 206.7L663.7 217.5L667.3 218.3L673.2 221.7L677.3 225.8L681.5 215.8L687.3 207.5L692.3 198.3L697.3 197.5L702.3 191.7L707.3 190.8L710.7 192.5L715.7 185.8L719.8 183.3L724.0 185.0L727.3 190.0L730.7 194.2L734.0 195.8L737.3 190.0L740.7 173.3L744.0 165.0L748.2 159.2L750.7 158.3L755.7 160.8L760.7 165.8L767.3 166.7L770.7 168.3L774.0 170.8L777.3 176.7L782.3 180.0L785.7 177.5L789.0 170.8L791.5 179.2L794.0 173.3L799.0 175.0L801.5 170.0L803.8 170.8L804.0 178.3L807.3 173.3L810.7 176.7L814.0 173.3L816.0 170.0L818.2 175.8L820.7 170.0L824.0 170.0L827.3 165.0L830.7 164.7L834.0 165.0L837.3 165.8L840.7 167.5L844.0 172.5L847.3 179.2L851.5 181.7L855.7 179.2L859.0 173.3L861.5 176.7L864.3 184.2L868.2 183.3L870.7 180.8L874.0 176.7L879.0 176.7L882.3 180.0L887.3 180.0L891.5 182.5L894.8 185.0L897.3 178.3L902.3 173.3L905.7 172.5L909.8 175.8L913.2 176.7L917.3 170.0L920.7 166.7L924.0 161.7L927.3 155.0L929.8 150.8L933.2 152.5L935.7 158.3L939.0 165.0L943.2 164.2L947.3 161.7L949.8 159.2L953.2 155.3L956.5 156.7L959.0 158.3L959.2 161.7L960.8 180.8L966.7 183.0L973.3 183.7L975.8 180.8L978.3 174.7L981.7 175.8L985.0 179.2L990.0 181.7L994.2 180.8L998.3 183.7L999.7 188.3L1005.0 187.5L1008.0 183.0L1010.0 180.8L1014.2 178.3L1018.3 179.2L1021.7 181.7L1025.0 175.8L1029.2 174.2L1033.3 177.5L1037.5 178.3L1040.8 170.0L1045.0 165.8L1048.3 168.3L1051.7 169.2L1055.8 170.8L1060.0 163.3L1063.3 165.8L1066.7 170.8L1070.0 175.8L1073.8 175.0" fill="none" stroke="#939393" stroke-width="1.2" stroke-dasharray="4.8 3.3" stroke-linejoin="round"/>
<path d="M629.8 185.0L631.5 171.7L633.7 158.3L635.3 153.3L637.0 151.7L638.7 147.5L640.3 152.5L642.0 156.7L643.7 170.0L646.5 171.7L648.2 181.7L649.8 195.0L651.5 216.3L660.7 216.3L662.7 233.3L663.7 240.0L663.3 240.0L664.7 241.7L666.0 239.2L665.8 240.0L667.7 218.3L669.8 200.8L673.7 200.0L676.0 203.3L678.2 208.3L680.3 208.3L682.7 193.3L684.8 191.7L687.0 183.7L690.3 184.2L693.2 176.7L694.8 178.7L697.3 179.2L699.8 183.3L703.7 190.8L706.5 190.0L709.3 199.2L712.0 191.7L715.7 190.8L717.7 180.0L720.7 179.2L722.3 178.3L724.5 179.2L726.5 185.8L729.0 188.3L730.7 183.3L735.3 183.7L736.0 188.3L739.0 187.5L742.0 187.5L743.7 178.7L747.3 171.3L749.8 171.3L751.5 178.0L753.2 171.7L755.7 186.7L757.3 190.0L759.0 180.0L761.5 183.3L764.0 188.3L765.7 201.7L767.3 208.0L769.0 204.2L771.5 186.7L773.2 180.8L780.7 180.8L782.3 195.0L783.7 204.2L785.3 195.0L787.0 188.3L788.2 191.7L789.8 185.8L791.5 185.0L793.2 189.2L794.8 183.3L797.3 178.3L800.7 179.2L802.3 188.3L803.8 190.0L804.0 190.0L806.5 193.3L809.0 193.0L811.0 195.0L813.2 192.0L817.7 192.0L819.8 181.7L821.5 175.8L823.2 182.5L824.8 170.8L827.0 170.0L828.2 179.2L829.8 181.3L834.8 181.3L836.5 167.5L838.2 164.2L839.8 165.8L842.3 165.8L844.0 185.0L846.0 190.0L847.7 195.0L849.8 185.0L852.3 173.3L854.0 169.7L858.2 170.0L860.3 172.5L862.0 182.5L864.8 194.7L867.0 190.0L869.8 189.2L872.3 174.2L874.3 171.3L879.0 172.5L880.3 180.8L881.5 185.8L884.0 184.2L886.5 183.3L888.7 182.5L891.5 193.3L894.8 197.5L897.3 198.3L899.8 196.7L904.0 196.7L906.5 197.5L908.7 193.7L910.7 193.0L913.2 185.0L914.8 177.5L917.0 170.8L919.0 168.7L921.0 170.0L923.2 174.2L925.3 180.0L927.0 183.0L929.3 183.0L932.0 175.8L934.0 166.7L935.7 165.0L938.7 165.3L940.7 157.5L942.3 155.0L944.3 156.7L947.0 151.3L948.7 156.7L949.8 154.2L951.5 161.7L953.2 163.7L954.8 165.0L955.0 165.0L956.7 178.3L958.3 196.7L959.7 213.0L969.2 213.0L970.8 220.0L972.7 228.0L974.3 218.3L976.0 210.0L980.8 210.0L982.5 213.7L984.7 209.2L987.5 210.3L990.8 207.5L993.0 212.5L995.0 208.0L997.0 207.5L998.7 203.0L1000.3 196.7L1002.5 191.7L1004.2 190.8L1006.7 193.3L1008.7 193.0L1010.8 195.0L1013.3 193.7L1016.7 193.0L1018.7 191.3L1020.0 197.5L1023.0 198.0L1025.0 204.2L1027.5 213.0L1029.2 208.7L1031.7 207.5L1033.3 195.0L1035.0 186.7L1037.0 183.7L1040.0 183.0L1041.3 180.0L1043.0 180.0L1044.7 172.5L1046.3 167.5L1048.3 168.3L1050.0 169.2L1052.0 173.3L1054.2 175.8L1055.8 178.3L1057.5 179.2L1059.2 185.8L1060.3 179.2L1062.5 181.7L1065.0 182.5L1066.3 187.5L1068.0 182.5L1070.0 180.8L1073.8 181.7" fill="none" stroke="#c23531" stroke-width="1.2" stroke-linejoin="round" stroke-linecap="round"/>
<path d="M629.8 175.8L631.5 181.7L634.3 185.8L637.0 184.2L639.8 183.0L642.0 175.8L644.8 175.0L647.3 177.5L649.0 179.2L651.0 185.0L656.5 185.0L658.2 183.7L659.8 189.2L662.7 190.0L664.8 196.7L666.5 206.7L668.2 220.0L669.8 230.0L671.3 240.0L668.0 216.7L669.7 221.7L671.7 245.0L674.3 263.3L676.7 277.5L686.3 277.5L688.3 266.7L690.5 256.7L692.2 233.3L692.7 225.8L692.7 226.7L694.0 225.0L696.5 224.2L698.7 213.3L700.3 206.7L705.7 206.3L707.3 213.3L709.3 215.3L711.5 210.8L714.8 208.7L716.5 215.0L718.7 221.7L721.5 223.3L723.7 208.3L725.7 188.3L727.0 179.2L730.7 178.3L732.3 183.3L734.3 195.0L736.0 199.2L739.0 199.2L741.0 191.7L745.7 190.0L747.3 200.0L748.2 183.3L749.8 175.0L752.0 183.3L753.2 170.8L756.0 170.8L757.0 183.3L758.2 188.3L760.7 180.0L764.8 178.7L768.2 176.7L771.5 175.8L772.7 183.3L774.0 195.0L775.7 203.3L782.3 203.7L784.0 208.3L785.7 203.3L787.3 197.5L789.0 209.2L790.7 209.7L793.7 206.3L795.3 199.2L797.3 196.7L800.7 197.5L803.8 195.8L804.0 194.7L806.5 195.8L808.7 196.7L810.7 198.3L813.2 195.0L816.0 194.7L817.7 197.5L819.3 190.0L820.7 185.0L824.8 184.7L826.5 175.8L828.7 165.0L830.3 170.8L833.7 170.8L835.3 180.0L837.0 193.3L838.7 196.7L841.5 196.7L844.0 191.7L846.5 186.7L849.0 185.3L850.7 187.5L853.2 183.3L855.7 176.7L859.0 175.0L860.7 178.0L863.2 185.0L864.8 187.5L867.3 188.3L869.8 180.8L871.5 178.0L874.0 180.0L875.7 177.5L877.3 184.2L879.3 189.2L881.5 181.7L883.7 175.0L885.3 170.0L887.3 171.7L889.3 180.0L892.3 181.7L894.0 190.0L896.5 190.8L898.2 194.2L900.7 193.3L902.3 190.0L904.0 198.3L906.5 199.7L910.7 200.8L912.7 196.7L914.8 199.7L919.0 199.2L920.7 190.0L922.7 172.5L925.3 172.5L927.0 170.0L928.7 166.7L930.3 170.8L932.0 180.0L934.0 182.5L936.5 188.3L938.7 193.3L940.7 195.0L942.7 206.7L946.5 207.0L948.2 198.3L949.8 184.2L952.7 183.3L954.0 165.0L954.8 161.7L955.0 160.8L956.7 165.8L959.2 165.0L960.8 170.8L971.7 171.3L973.3 178.3L975.0 185.8L977.5 184.7L979.7 187.5L981.7 195.0L984.2 199.2L987.5 200.8L990.0 197.5L992.0 188.0L994.2 186.7L996.3 185.0" fill="none" stroke="#2f4554" stroke-width="1.2" stroke-linejoin="round" stroke-linecap="round"/>
</g>
<text x="782" y="160.5" font-size="15.3" fill="#888888" fill-opacity="0.55">紫金天风期货</text>
<path d="M629.5 58.0V279.0" stroke="#555555" stroke-width="1"/>
<path d="M629.0 278.85H1075.0" stroke="#6e6e6e" stroke-width="1.35"/>
<path d="M658.76 278.5v3.9" stroke="#666" stroke-width="1"/>
<text x="658.76" y="290.10" font-size="8.4" fill="#5a5a5a" text-anchor="middle" textLength="21.48">01-25</text>
<path d="M688.02 278.5v3.9" stroke="#666" stroke-width="1"/>
<text x="688.02" y="290.10" font-size="8.4" fill="#5a5a5a" text-anchor="middle" textLength="21.48">02-18</text>
<path d="M717.28 278.5v3.9" stroke="#666" stroke-width="1"/>
<text x="717.28" y="290.10" font-size="8.4" fill="#5a5a5a" text-anchor="middle" textLength="21.48">03-13</text>
<path d="M746.54 278.5v3.9" stroke="#666" stroke-width="1"/>
<text x="746.54" y="290.10" font-size="8.4" fill="#5a5a5a" text-anchor="middle" textLength="21.48">04-06</text>
<path d="M775.80 278.5v3.9" stroke="#666" stroke-width="1"/>
<text x="775.80" y="290.10" font-size="8.4" fill="#5a5a5a" text-anchor="middle" textLength="21.48">04-30</text>
<path d="M805.06 278.5v3.9" stroke="#666" stroke-width="1"/>
<text x="805.06" y="290.10" font-size="8.4" fill="#5a5a5a" text-anchor="middle" textLength="21.48">05-24</text>
<path d="M834.32 278.5v3.9" stroke="#666" stroke-width="1"/>
<text x="834.32" y="290.10" font-size="8.4" fill="#5a5a5a" text-anchor="middle" textLength="21.48">06-17</text>
<path d="M863.58 278.5v3.9" stroke="#666" stroke-width="1"/>
<text x="863.58" y="290.10" font-size="8.4" fill="#5a5a5a" text-anchor="middle" textLength="21.48">07-11</text>
<path d="M892.84 278.5v3.9" stroke="#666" stroke-width="1"/>
<text x="892.84" y="290.10" font-size="8.4" fill="#5a5a5a" text-anchor="middle" textLength="21.48">08-04</text>
<path d="M922.10 278.5v3.9" stroke="#666" stroke-width="1"/>
<text x="922.10" y="290.10" font-size="8.4" fill="#5a5a5a" text-anchor="middle" textLength="21.48">08-28</text>
<path d="M951.36 278.5v3.9" stroke="#666" stroke-width="1"/>
<text x="951.36" y="290.10" font-size="8.4" fill="#5a5a5a" text-anchor="middle" textLength="21.48">09-21</text>
<path d="M980.62 278.5v3.9" stroke="#666" stroke-width="1"/>
<text x="980.62" y="290.10" font-size="8.4" fill="#5a5a5a" text-anchor="middle" textLength="21.48">10-15</text>
<path d="M1009.88 278.5v3.9" stroke="#666" stroke-width="1"/>
<text x="1009.88" y="290.10" font-size="8.4" fill="#5a5a5a" text-anchor="middle" textLength="21.48">11-08</text>
<path d="M1039.14 278.5v3.9" stroke="#666" stroke-width="1"/>
<text x="1039.14" y="290.10" font-size="8.4" fill="#5a5a5a" text-anchor="middle" textLength="21.48">12-02</text>
<rect x="974.27" y="281.00" width="44.2" height="14" fill="#ffffff"/>
<text x="995.87" y="291.10" font-size="10.3" font-weight="bold" fill="#2f4554" text-anchor="middle" textLength="26.34">10-28</text>
<rect x="590.50" y="174.75" width="35.5" height="13" rx="1.5" fill="#ffffff" stroke="#e2e2e2" stroke-width="0.8"/>
<text x="624.50" y="184.95" font-size="10.2" font-weight="bold" fill="#2f4554" text-anchor="end" textLength="31.20">97.406</text></g>
<g clip-path="url(#pL)"><text x="3.00" y="328.00" font-size="10.5" fill="#262626" font-weight="bold">铁矿：远期现货日均成交量（周）</text>
<path d="M-2 334.5H534" stroke="#cccccc" stroke-width="1"/>
<path d="M21.25 341.25h16.25" stroke="#cccccc" stroke-width="1" fill="none"/><circle cx="29.35" cy="341.25" r="3.7" fill="#cccccc"/><text x="40.85" y="344.25" font-size="8.4" fill="#cccccc" textLength="18.69">2020</text>
<path d="M66.50 341.25h16.25" stroke="#cccccc" stroke-width="1" fill="none"/><circle cx="74.60" cy="341.25" r="3.7" fill="#cccccc"/><text x="86.10" y="344.25" font-size="8.4" fill="#cccccc" textLength="18.69">2021</text>
<path d="M111.75 341.25h16.25" stroke="#cccccc" stroke-width="1" fill="none"/><circle cx="119.85" cy="341.25" r="3.7" fill="#cccccc"/><text x="131.35" y="344.25" font-size="8.4" fill="#cccccc" textLength="18.69">2022</text>
<path d="M157.00 341.25h16.25" stroke="#c23531" stroke-width="1" fill="none"/><circle cx="165.10" cy="341.25" r="3.7" fill="#c23531"/><text x="176.60" y="344.25" font-size="8.4" fill="#333333" textLength="18.69">2023</text>
<path d="M202.25 341.25h16.25" stroke="#2f4554" stroke-width="1" fill="none"/><circle cx="210.35" cy="341.25" r="3.7" fill="#2f4554"/><text x="221.85" y="344.25" font-size="8.4" fill="#333333" textLength="18.69">2024</text>
<path d="M247.50 341.25h16.25" stroke="#666666" stroke-width="1" fill="none"/><circle cx="255.60" cy="341.25" r="3.7" fill="#666666"/><text x="267.10" y="344.25" font-size="8.4" fill="#333333" textLength="40.17">2020-2023</text><text x="307.27" y="344.25" font-size="7.9" fill="#333333">最大值</text>
<path d="M338.00 341.25h16.25" stroke="#666666" stroke-width="1" fill="none"/><circle cx="346.10" cy="341.25" r="3.7" fill="#666666"/><text x="357.60" y="344.25" font-size="8.4" fill="#333333" textLength="40.17">2020-2023</text><text x="397.77" y="344.25" font-size="7.9" fill="#333333">最小值</text>
<path d="M428.50 341.25h16.25" stroke="#666666" stroke-width="1" fill="none"/><circle cx="436.60" cy="341.25" r="3.7" fill="#666666"/><text x="448.10" y="344.25" font-size="8.4" fill="#333333" textLength="40.17">2020-2023</text><text x="488.27" y="344.25" font-size="7.9" fill="#333333">均值</text>
<path d="M67.5 374.5H512.5" stroke="#ebebeb" stroke-width="1"/>
<path d="M63.75 374.5H67.5" stroke="#555555" stroke-width="1"/>
<text x="61.90" y="377.40" font-size="8.4" fill="#5a5a5a" text-anchor="end" textLength="13.38" lengthAdjust="spacingAndGlyphs">187</text>
<path d="M67.5 383.5H512.5" stroke="#ebebeb" stroke-width="1"/>
<path d="M63.75 383.5H67.5" stroke="#555555" stroke-width="1"/>
<text x="61.90" y="386.40" font-size="8.4" fill="#5a5a5a" text-anchor="end" textLength="13.38" lengthAdjust="spacingAndGlyphs">180</text>
<path d="M67.5 424.5H512.5" stroke="#ebebeb" stroke-width="1"/>
<path d="M63.75 424.5H67.5" stroke="#555555" stroke-width="1"/>
<text x="61.90" y="427.40" font-size="8.4" fill="#5a5a5a" text-anchor="end" textLength="13.38" lengthAdjust="spacingAndGlyphs">150</text>
<path d="M67.5 465.5H512.5" stroke="#ebebeb" stroke-width="1"/>
<path d="M63.75 465.5H67.5" stroke="#555555" stroke-width="1"/>
<text x="61.90" y="468.40" font-size="8.4" fill="#5a5a5a" text-anchor="end" textLength="13.38" lengthAdjust="spacingAndGlyphs">120</text>
<path d="M67.5 506.5H512.5" stroke="#ebebeb" stroke-width="1"/>
<path d="M63.75 506.5H67.5" stroke="#555555" stroke-width="1"/>
<text x="61.90" y="509.40" font-size="8.4" fill="#5a5a5a" text-anchor="end" textLength="8.92" lengthAdjust="spacingAndGlyphs">90</text>
<path d="M67.5 547.5H512.5" stroke="#ebebeb" stroke-width="1"/>
<path d="M63.75 547.5H67.5" stroke="#555555" stroke-width="1"/>
<text x="61.90" y="550.40" font-size="8.4" fill="#5a5a5a" text-anchor="end" textLength="8.92" lengthAdjust="spacingAndGlyphs">60</text>
<path d="M67.5 588.5H512.5" stroke="#ebebeb" stroke-width="1"/>
<path d="M63.75 588.5H67.5" stroke="#555555" stroke-width="1"/>
<text x="61.90" y="591.40" font-size="8.4" fill="#5a5a5a" text-anchor="end" textLength="8.92" lengthAdjust="spacingAndGlyphs">30</text>
<g clip-path="url(#clipbl)">
<path d="M67.5 377.0L68.0 377.0L68.5 377.0L69.0 377.0L69.5 377.0L70.0 377.0L70.5 377.0L71.0 377.0L71.5 377.0L72.0 377.0L72.5 377.0L73.0 377.0L73.5 377.0L74.0 377.0L74.5 377.0L75.0 377.0L75.5 377.0L76.0 377.0L76.5 377.0L77.0 377.0L77.5 377.0L78.0 377.0L78.5 377.0L79.0 377.0L79.5 377.0L80.0 377.0L80.5 377.0L81.0 377.0L81.5 377.0L82.0 377.0L82.5 377.0L83.0 377.0L83.5 455.0L84.0 455.0L84.5 455.0L85.0 455.0L85.5 455.0L86.0 455.0L86.5 455.0L87.0 455.0L87.5 455.0L88.0 455.0L88.5 455.0L89.0 455.0L89.5 455.0L90.0 455.0L90.5 455.0L91.0 455.0L91.5 455.0L92.0 455.0L92.5 503.8L93.0 503.8L93.5 503.8L94.0 503.8L94.5 503.8L95.0 503.8L95.5 503.8L96.0 503.8L96.5 503.8L97.0 503.8L97.5 503.8L98.0 503.8L98.5 503.8L99.0 503.8L99.5 503.8L100.0 504.6L100.5 503.5L101.0 502.4L101.5 501.4L102.0 500.3L102.5 499.2L103.0 498.2L103.5 497.1L104.0 496.0L104.5 494.9L105.0 493.9L105.5 492.8L106.0 491.7L106.5 490.7L107.0 489.6L107.5 488.5L108.0 489.4L108.5 488.0L109.0 488.0L109.5 488.0L110.0 488.0L110.5 488.0L111.0 488.0L111.5 488.0L112.0 488.0L112.5 488.0L113.0 488.0L113.5 488.0L114.0 488.0L114.5 488.0L115.0 488.0L115.5 510.0L116.0 510.0L116.5 510.0L117.0 510.0L117.5 510.0L118.0 510.0L118.5 510.0L119.0 510.0L119.5 510.0L120.0 510.0L120.5 510.0L121.0 510.0L121.5 510.0L122.0 510.0L122.5 510.0L123.0 510.0L123.5 515.0L124.0 515.0L124.5 515.0L125.0 515.0L125.5 515.0L126.0 515.0L126.5 515.0L127.0 515.0L127.5 515.0L128.0 515.0L128.5 515.0L129.0 515.0L129.5 515.0L130.0 515.0L130.5 515.0L131.0 515.0L131.5 515.0L132.0 515.0L132.5 530.0L133.0 530.0L133.5 530.0L134.0 530.0L134.5 530.0L135.0 530.0L135.5 530.0L136.0 530.0L136.5 530.0L137.0 495.0L137.5 495.0L138.0 495.0L138.5 495.0L139.0 495.0L139.5 495.0L140.0 495.0L140.5 495.0L141.0 495.0L141.5 495.0L142.0 495.0L142.5 495.0L143.0 495.0L143.5 495.0L144.0 495.0L144.5 495.0L145.0 495.0L145.5 495.0L146.0 495.0L146.5 495.0L147.0 468.8L147.5 468.8L148.0 468.8L148.5 468.8L149.0 468.8L149.5 468.8L150.0 468.8L150.5 468.8L151.0 468.8L151.5 468.8L152.0 468.8L152.5 468.8L153.0 468.8L153.5 468.8L154.0 468.8L154.5 468.8L155.0 479.2L155.5 479.2L156.0 479.2L156.5 479.2L157.0 479.2L157.5 479.2L158.0 479.2L158.5 479.2L159.0 479.2L159.5 479.2L160.0 479.2L160.5 479.2L161.0 479.2L161.5 479.2L162.0 463.8L162.5 463.8L163.0 463.8L163.5 463.8L164.0 463.8L164.5 463.8L165.0 463.8L165.5 463.8L166.0 463.8L166.5 463.8L167.0 463.8L167.5 463.8L168.0 463.8L168.5 463.8L169.0 463.8L169.5 463.8L170.0 463.8L170.5 530.0L171.0 530.0L171.5 530.0L172.0 530.0L172.5 530.0L173.0 530.0L173.5 530.0L174.0 530.0L174.5 530.0L175.0 530.0L175.5 530.0L176.0 530.0L176.5 530.0L177.0 515.0L177.5 515.0L178.0 515.0L178.5 515.0L179.0 515.0L179.5 515.0L180.0 515.0L180.5 515.0L181.0 515.0L181.5 515.0L182.0 515.0L182.5 511.1L183.0 506.7L183.5 502.3L184.0 497.9L184.5 493.6L185.0 489.2L185.5 484.8L186.0 483.2L186.5 484.7L187.0 483.0L187.5 483.0L188.0 483.0L188.5 483.0L189.0 483.0L189.5 483.0L190.0 483.0L190.5 483.0L191.0 483.0L191.5 483.0L192.0 483.0L192.5 483.0L193.0 483.0L193.5 505.9L194.0 507.4L194.5 508.6L195.0 509.4L195.5 510.1L196.0 510.9L196.5 504.0L197.0 481.2L197.5 481.2L198.0 481.2L198.5 481.2L199.0 481.2L199.5 481.2L200.0 481.2L200.5 481.2L201.0 481.2L201.5 481.2L202.0 481.2L202.5 481.2L203.0 481.2L203.5 481.2L204.0 427.0L204.5 427.0L205.0 427.0L205.5 427.0L206.0 427.0L206.5 427.0L207.0 427.0L207.5 427.0L208.0 427.0L208.5 427.0L209.0 427.0L209.5 427.0L210.0 427.0L210.5 427.0L211.0 427.0L211.5 427.0L212.0 447.5L212.5 447.5L213.0 447.5L213.5 447.5L214.0 447.5L214.5 447.5L215.0 447.5L215.5 447.5L216.0 447.5L216.5 447.5L217.0 447.5L217.5 447.5L218.0 447.5L218.5 447.5L219.0 447.5L219.5 447.5L220.0 447.5L220.5 447.5L221.0 447.5L221.5 447.5L222.0 447.5L222.5 468.0L223.0 468.0L223.5 468.0L224.0 468.0L224.5 468.0L225.0 468.0L225.5 468.0L226.0 468.0L226.5 468.0L227.0 468.0L227.5 468.0L228.0 468.0L228.5 468.0L229.0 468.0L229.5 468.0L230.0 468.0L230.5 468.0L231.0 468.0L231.5 468.0L232.0 425.5L232.5 425.5L233.0 425.5L233.5 425.5L234.0 425.5L234.5 425.5L235.0 425.5L235.5 425.5L236.0 425.5L236.5 425.5L237.0 425.5L237.5 425.5L238.0 425.5L238.5 425.5L239.0 425.5L239.5 425.5L240.0 500.0L240.5 500.0L241.0 500.0L241.5 500.0L242.0 500.0L242.5 500.0L243.0 500.0L243.5 500.0L244.0 500.0L244.5 500.0L245.0 500.0L245.5 500.0L246.0 500.0L246.5 500.0L247.0 500.0L247.5 500.0L248.0 500.0L248.5 460.0L249.0 460.0L249.5 460.0L250.0 460.0L250.5 460.0L251.0 460.0L251.5 460.0L252.0 460.0L252.5 460.0L253.0 460.0L253.5 460.0L254.0 460.0L254.5 460.0L255.0 460.0L255.5 460.0L256.0 438.8L256.5 438.8L257.0 438.8L257.5 438.8L258.0 438.8L258.5 438.8L259.0 438.8L259.5 438.8L260.0 438.8L260.5 438.8L261.0 438.8L261.5 438.8L262.0 438.8L262.5 438.8L263.0 438.8L263.5 470.0L264.0 470.0L264.5 470.0L265.0 470.0L265.5 470.0L266.0 470.0L266.5 470.0L267.0 470.0L267.5 470.0L268.0 470.0L268.5 470.0L269.0 470.0L269.5 470.0L270.0 509.0L270.5 509.5L271.0 509.7L271.5 509.6L272.0 509.4L272.5 509.3L273.0 509.2L273.5 509.1L274.0 508.9L274.5 497.5L275.0 497.5L275.5 497.5L276.0 497.5L276.5 497.5L277.0 497.5L277.5 497.5L278.0 497.5L278.5 497.5L279.0 497.5L279.5 497.5L280.0 497.5L280.5 497.5L281.0 483.0L281.5 483.0L282.0 483.0L282.5 483.0L283.0 483.0L283.5 483.0L284.0 483.0L284.5 483.0L285.0 483.0L285.5 483.0L286.0 483.0L286.5 483.0L287.0 483.0L287.5 483.0L288.0 483.0L288.5 483.0L289.0 483.0L289.5 483.0L290.0 445.0L290.5 445.0L291.0 445.0L291.5 445.0L292.0 445.0L292.5 445.0L293.0 445.0L293.5 445.0L294.0 445.0L294.5 445.0L295.0 445.0L295.5 445.0L296.0 445.0L296.5 445.0L297.0 445.0L297.5 445.0L298.0 445.0L298.5 445.0L299.0 445.0L299.5 437.0L300.0 437.0L300.5 437.0L301.0 437.0L301.5 437.0L302.0 437.0L302.5 437.0L303.0 437.0L303.5 437.0L304.0 437.0L304.5 437.0L305.0 437.0L305.5 437.0L306.0 437.0L306.5 437.0L307.0 437.0L307.5 437.0L308.0 471.2L308.5 471.2L309.0 471.2L309.5 471.2L310.0 471.2L310.5 471.2L311.0 471.2L311.5 471.2L312.0 471.2L312.5 471.2L313.0 471.2L313.5 471.2L314.0 471.2L314.5 471.2L315.0 471.2L315.5 471.2L316.0 489.5L316.5 489.5L317.0 489.5L317.5 489.5L318.0 489.5L318.5 489.5L319.0 489.5L319.5 489.5L320.0 489.5L320.5 489.5L321.0 489.5L321.5 489.5L322.0 489.5L322.5 489.5L323.0 489.5L323.5 489.5L324.0 506.2L324.5 506.2L325.0 506.2L325.5 506.2L326.0 506.2L326.5 506.2L327.0 506.2L327.5 506.2L328.0 506.2L328.5 506.2L329.0 506.2L329.5 506.2L330.0 506.2L330.5 506.2L331.0 506.2L331.5 510.0L332.0 510.0L332.5 510.0L333.0 510.0L333.5 510.0L334.0 510.0L334.5 510.0L335.0 510.0L335.5 510.0L336.0 510.0L336.5 510.0L337.0 510.0L337.5 510.0L338.0 510.0L338.5 510.0L339.0 510.0L339.5 510.0L340.0 457.5L340.5 457.5L341.0 457.5L341.5 457.5L342.0 446.2L342.5 446.2L343.0 446.2L343.5 446.2L344.0 446.2L344.5 446.2L345.0 446.2L345.5 446.2L346.0 446.2L346.5 446.2L347.0 446.2L347.5 446.2L348.0 446.2L348.5 446.2L349.0 446.2L349.5 446.2L350.0 446.2L350.5 500.0L351.0 500.0L351.5 500.0L352.0 500.0L352.5 500.0L353.0 500.0L353.5 500.0L354.0 500.0L354.5 500.0L355.0 500.0L355.5 500.0L356.0 500.0L356.5 481.8L357.0 481.8L357.5 481.8L358.0 481.8L358.5 481.8L359.0 481.8L359.5 481.8L360.0 481.8L360.5 481.8L361.0 481.8L361.5 481.8L362.0 481.8L362.5 481.8L363.0 481.8L363.5 481.8L364.0 481.8L364.5 481.8L365.0 481.8L365.5 510.0L366.0 510.0L366.5 510.0L367.0 510.0L367.5 510.0L368.0 453.2L368.5 453.2L369.0 453.2L369.5 453.2L370.0 453.2L370.5 453.2L371.0 453.2L371.5 453.2L372.0 453.2L372.5 453.2L373.0 453.2L373.5 453.2L374.0 453.2L374.5 453.2L375.0 453.2L375.5 453.2L376.0 480.0L376.5 480.0L377.0 480.0L377.5 480.0L378.0 480.0L378.5 480.0L379.0 480.0L379.5 480.0L380.0 480.0L380.5 480.0L381.0 480.0L381.5 480.0L382.0 480.0L382.5 475.0L383.0 475.0L383.5 475.0L384.0 475.0L384.5 475.0L385.0 475.0L385.5 475.0L386.0 475.0L386.5 475.0L387.0 475.0L387.5 475.0L388.0 475.0L388.5 475.0L389.0 475.0L389.5 475.0L390.0 475.0L390.5 415.8L391.0 415.8L391.5 415.8L392.0 415.8L392.5 415.8L393.0 415.8L393.5 415.8L394.0 415.8L394.5 415.8L395.0 415.8L395.5 415.8L396.0 415.8L396.5 415.8L397.0 415.8L397.5 415.8L398.0 415.8L398.5 415.8L399.0 465.0L399.5 465.0L400.0 465.0L400.5 465.0L401.0 465.0L401.5 465.0L402.0 465.0L402.5 465.0L403.0 465.0L403.5 465.0L404.0 465.0L404.5 465.0L405.0 465.0L405.5 465.0L406.0 464.3L406.5 462.0L407.0 459.7L407.5 457.4L408.0 455.1L408.5 452.8L409.0 450.5L409.5 448.2L410.0 445.9L410.5 443.6L411.0 441.3L411.5 439.0L412.0 436.7L412.5 434.4L413.0 432.1L413.5 429.8L414.0 427.5L414.5 425.2L415.0 422.9L415.5 420.6L416.0 418.3L416.5 421.5L417.0 427.6L417.5 417.5L418.0 417.5L418.5 417.5L419.0 417.5L419.5 417.5L420.0 417.5L420.5 417.5L421.0 417.5L421.5 417.5L422.0 417.5L422.5 417.5L423.0 417.5L423.5 417.5L424.0 452.5L424.5 452.5L425.0 452.5L425.5 452.5L426.0 452.5L426.5 452.5L427.0 452.5L427.5 505.0L428.0 505.0L428.5 505.0L429.0 505.0L429.5 505.0L430.0 505.0L430.5 505.0L431.0 505.0L431.5 505.0L432.0 505.0L432.5 505.0L433.0 505.0L433.5 522.1L434.0 521.4L434.5 520.7L435.0 519.9L435.5 519.2L436.0 518.5L436.5 498.8L437.0 498.8L437.5 498.8L438.0 498.8L438.5 498.8L439.0 498.8L439.5 498.8L440.0 498.8L440.5 498.8L441.0 498.8L441.5 498.8L442.0 489.5L442.5 489.5L443.0 489.5L443.5 489.5L444.0 489.5L444.5 489.5L445.0 489.5L445.5 489.5L446.0 489.5L446.5 489.5L447.0 489.5L447.5 489.5L448.0 489.5L448.5 489.5L449.0 489.5L449.5 489.5L450.0 489.5L450.5 510.0L451.0 510.0L451.5 510.0L452.0 510.0L452.5 509.1L453.0 508.2L453.5 507.4L454.0 478.8L454.5 478.8L455.0 478.8L455.5 478.8L456.0 478.8L456.5 478.8L457.0 478.8L457.5 478.8L458.0 478.8L458.5 478.8L459.0 478.8L459.5 478.8L460.0 478.8L460.5 478.8L461.0 478.8L461.5 429.5L462.0 429.5L462.5 429.5L463.0 429.5L463.5 429.5L464.0 429.5L464.5 429.5L465.0 429.5L465.5 429.5L466.0 429.5L466.5 429.5L467.0 429.5L467.5 429.5L468.0 429.5L468.5 429.5L469.0 429.5L469.5 429.5L470.0 468.8L470.5 468.8L471.0 468.8L471.5 468.8L472.0 468.8L472.5 468.8L473.0 468.8L473.5 468.8L474.0 468.8L474.5 468.8L475.0 468.8L475.5 468.8L476.0 468.8L476.5 468.8L477.0 468.8L477.5 468.8L478.0 468.8L478.5 480.0L479.0 476.6L479.5 473.2L480.0 469.9L480.5 466.5L481.0 463.1L481.5 459.7L482.0 456.3L482.5 452.9L483.0 449.5L483.5 446.1L484.0 440.0L484.5 440.0L485.0 440.0L485.5 440.0L486.0 440.0L486.5 440.0L487.0 440.0L487.5 440.0L488.0 440.0L488.5 440.0L489.0 440.0L489.5 440.0L490.0 440.0L490.5 440.0L491.0 440.0L491.5 500.0L492.0 500.0L492.5 500.0L493.0 500.0L493.5 500.0L494.0 482.5L494.5 482.5L495.0 482.5L495.5 482.5L496.0 482.5L496.5 482.5L497.0 482.5L497.5 482.5L498.0 482.5L498.5 482.5L499.0 482.5L499.5 482.5L500.0 482.5L500.5 482.5L501.0 482.5L501.5 502.5L502.0 502.5L502.5 502.5L503.0 502.5L503.5 502.5L504.0 502.5L504.5 502.5L505.0 502.5L505.5 502.5L506.0 502.5L506.5 502.5L507.0 502.5L507.5 502.5L508.0 502.5L508.5 520.0L509.0 520.0L509.5 520.0L510.0 520.0L510.5 520.0L511.0 520.0L511.5 520.0L512.0 520.0L512.5 520.0L512.5 569.8L512.0 569.8L511.5 569.8L511.0 569.8L510.5 569.8L510.0 569.8L509.5 569.8L509.0 569.8L508.5 569.8L508.0 569.8L507.5 569.8L507.0 569.8L506.5 569.8L506.0 569.8L505.5 569.8L505.0 569.8L504.5 569.8L504.0 569.8L503.5 569.8L503.0 569.8L502.5 569.8L502.0 553.5L501.5 553.5L501.0 553.5L500.5 553.5L500.0 553.5L499.5 553.5L499.0 553.5L498.5 553.5L498.0 553.5L497.5 553.5L497.0 553.5L496.5 553.5L496.0 553.5L495.5 553.5L495.0 553.5L494.5 553.5L494.0 553.5L493.5 593.5L493.0 593.5L492.5 593.5L492.0 593.5L491.5 593.5L491.0 593.5L490.5 593.5L490.0 593.5L489.5 593.5L489.0 593.5L488.5 593.5L488.0 593.5L487.5 593.5L487.0 593.5L486.5 593.5L486.0 559.8L485.5 559.8L485.0 559.8L484.5 559.8L484.0 559.8L483.5 559.8L483.0 559.8L482.5 559.8L482.0 559.8L481.5 559.8L481.0 559.8L480.5 559.8L480.0 559.8L479.5 559.8L479.0 559.8L478.5 552.2L478.0 552.2L477.5 552.2L477.0 552.2L476.5 552.2L476.0 552.2L475.5 552.2L475.0 552.2L474.5 552.2L474.0 552.2L473.5 552.2L473.0 552.2L472.5 552.2L472.0 552.2L471.5 552.2L471.0 552.2L470.5 552.2L470.0 556.0L469.5 556.0L469.0 556.0L468.5 556.0L468.0 556.0L467.5 556.0L467.0 556.0L466.5 556.0L466.0 556.0L465.5 556.0L465.0 556.0L464.5 556.0L464.0 556.0L463.5 556.0L463.0 556.0L462.5 556.0L462.0 556.0L461.5 556.0L461.0 556.1L460.5 556.6L460.0 557.1L459.5 557.6L459.0 558.1L458.5 556.7L458.0 554.8L457.5 554.8L457.0 554.8L456.5 554.8L456.0 554.8L455.5 554.8L455.0 554.8L454.5 554.8L454.0 554.8L453.5 554.8L453.0 554.8L452.5 554.8L452.0 554.8L451.5 554.8L451.0 554.8L450.5 554.8L450.0 554.8L449.5 523.5L449.0 523.5L448.5 523.5L448.0 523.5L447.5 523.5L447.0 523.5L446.5 523.5L446.0 523.5L445.5 523.5L445.0 523.5L444.5 523.5L444.0 523.5L443.5 523.5L443.0 523.5L442.5 523.5L442.0 523.5L441.5 523.5L441.0 523.5L440.5 523.5L440.0 531.0L439.5 531.0L439.0 531.0L438.5 531.0L438.0 531.0L437.5 531.0L437.0 531.0L436.5 531.0L436.0 531.0L435.5 531.0L435.0 531.0L434.5 531.0L434.0 531.0L433.5 577.8L433.0 577.8L432.5 577.8L432.0 577.8L431.5 577.8L431.0 577.8L430.5 577.8L430.0 577.8L429.5 577.8L429.0 577.8L428.5 577.8L428.0 577.8L427.5 577.8L427.0 577.8L426.5 577.8L426.0 526.0L425.5 526.0L425.0 526.0L424.5 526.0L424.0 526.0L423.5 526.0L423.0 526.0L422.5 526.0L422.0 526.0L421.5 526.0L421.0 526.0L420.5 526.0L420.0 526.0L419.5 526.0L419.0 526.0L418.5 526.0L418.0 526.0L417.5 531.0L417.0 531.0L416.5 531.0L416.0 531.0L415.5 531.0L415.0 531.0L414.5 531.0L414.0 531.0L413.5 531.0L413.0 531.0L412.5 531.0L412.0 531.0L411.5 531.0L411.0 531.0L410.5 531.0L410.0 531.0L409.5 531.0L409.0 531.0L408.5 531.0L408.0 531.0L407.5 573.0L407.0 573.0L406.5 573.0L406.0 573.0L405.5 573.0L405.0 573.0L404.5 573.0L404.0 573.0L403.5 573.0L403.0 573.0L402.5 573.0L402.0 573.0L401.5 573.0L401.0 521.0L400.5 521.0L400.0 521.0L399.5 521.0L399.0 521.0L398.5 521.0L398.0 521.0L397.5 521.0L397.0 521.0L396.5 521.0L396.0 521.0L395.5 521.0L395.0 521.0L394.5 521.0L394.0 521.0L393.5 521.0L393.0 521.0L392.5 528.5L392.0 528.5L391.5 528.5L391.0 528.5L390.5 528.5L390.0 528.5L389.5 528.5L389.0 528.5L388.5 528.5L388.0 528.5L387.5 528.5L387.0 528.5L386.5 528.5L386.0 528.5L385.5 528.5L385.0 528.5L384.5 528.5L384.0 528.5L383.5 528.5L383.0 528.5L382.5 531.0L382.0 531.0L381.5 531.0L381.0 531.0L380.5 531.0L380.0 531.0L379.5 531.0L379.0 531.0L378.5 531.0L378.0 531.0L377.5 531.0L377.0 531.0L376.5 531.0L376.0 531.0L375.5 531.0L375.0 557.2L374.5 557.2L374.0 557.2L373.5 557.2L373.0 557.2L372.5 557.2L372.0 557.2L371.5 557.2L371.0 557.2L370.5 557.2L370.0 557.2L369.5 557.2L369.0 557.2L368.5 557.2L368.0 557.2L367.5 557.2L367.0 557.2L366.5 557.2L366.0 557.2L365.5 557.4L365.0 560.6L364.5 560.8L364.0 560.9L363.5 560.9L363.0 560.9L362.5 560.9L362.0 561.0L361.5 561.0L361.0 561.0L360.5 561.1L360.0 561.1L359.5 561.1L359.0 561.2L358.5 561.2L358.0 561.2L357.5 561.2L357.0 561.3L356.5 561.3L356.0 559.5L355.5 557.5L355.0 556.0L354.5 556.0L354.0 556.0L353.5 556.0L353.0 556.0L352.5 556.0L352.0 556.0L351.5 556.0L351.0 556.0L350.5 556.0L350.0 556.0L349.5 556.0L349.0 556.0L348.5 586.5L348.0 586.5L347.5 586.5L347.0 586.5L346.5 586.5L346.0 586.5L345.5 586.5L345.0 586.5L344.5 586.5L344.0 586.5L343.5 586.5L343.0 586.5L342.5 586.5L342.0 586.5L341.5 586.5L341.0 559.8L340.5 559.8L340.0 560.4L339.5 562.5L339.0 561.1L338.5 559.8L338.0 559.8L337.5 559.8L337.0 559.8L336.5 559.8L336.0 559.8L335.5 559.8L335.0 559.8L334.5 559.8L334.0 559.8L333.5 559.8L333.0 559.8L332.5 559.8L332.0 559.8L331.5 559.8L331.0 578.5L330.5 578.5L330.0 578.5L329.5 578.5L329.0 578.5L328.5 578.5L328.0 578.5L327.5 578.5L327.0 578.5L326.5 578.5L326.0 578.5L325.5 578.5L325.0 578.5L324.5 578.5L324.0 578.5L323.5 583.5L323.0 583.5L322.5 583.5L322.0 583.5L321.5 583.5L321.0 583.5L320.5 583.5L320.0 583.5L319.5 583.5L319.0 583.5L318.5 583.5L318.0 583.5L317.5 583.5L317.0 583.5L316.5 583.5L316.0 583.5L315.5 583.5L315.0 583.5L314.5 583.5L314.0 568.5L313.5 568.5L313.0 568.5L312.5 568.5L312.0 568.5L311.5 568.5L311.0 568.5L310.5 568.5L310.0 568.5L309.5 568.5L309.0 568.5L308.5 568.5L308.0 568.5L307.5 568.5L307.0 568.5L306.5 568.5L306.0 568.5L305.5 568.5L305.0 565.2L304.5 565.2L304.0 565.2L303.5 565.2L303.0 565.2L302.5 565.2L302.0 565.2L301.5 565.2L301.0 565.2L300.5 565.2L300.0 565.2L299.5 565.2L299.0 565.2L298.5 565.2L298.0 565.2L297.5 565.2L297.0 552.2L296.5 552.2L296.0 552.2L295.5 552.2L295.0 552.2L294.5 552.2L294.0 552.2L293.5 552.2L293.0 552.2L292.5 552.2L292.0 552.2L291.5 552.2L291.0 552.2L290.5 552.2L290.0 552.2L289.5 552.2L289.0 552.2L288.5 552.2L288.0 556.0L287.5 556.0L287.0 556.0L286.5 556.0L286.0 556.0L285.5 556.0L285.0 556.0L284.5 556.0L284.0 556.0L283.5 556.0L283.0 556.0L282.5 556.0L282.0 556.0L281.5 556.0L281.0 556.0L280.5 556.0L280.0 556.0L279.5 556.0L279.0 553.7L278.5 552.0L278.0 550.3L277.5 548.6L277.0 546.9L276.5 545.2L276.0 543.5L275.5 541.8L275.0 540.2L274.5 538.5L274.0 536.8L273.5 535.1L273.0 533.4L272.5 531.7L272.0 531.0L271.5 531.0L271.0 531.0L270.5 531.0L270.0 531.0L269.5 531.0L269.0 529.8L268.5 529.8L268.0 529.8L267.5 529.8L267.0 529.8L266.5 529.8L266.0 529.8L265.5 529.8L265.0 529.8L264.5 529.8L264.0 529.8L263.5 529.8L263.0 529.8L262.5 529.8L262.0 531.0L261.5 531.0L261.0 531.0L260.5 531.0L260.0 531.0L259.5 531.0L259.0 531.0L258.5 531.0L258.0 531.0L257.5 531.0L257.0 531.0L256.5 531.0L256.0 531.0L255.5 531.0L255.0 531.0L254.5 531.0L254.0 531.0L253.5 532.0L253.0 535.5L252.5 587.2L252.0 587.2L251.5 587.2L251.0 587.2L250.5 587.2L250.0 587.2L249.5 587.2L249.0 587.2L248.5 587.2L248.0 587.2L247.5 587.2L247.0 587.2L246.5 580.6L246.0 584.0L245.5 587.5L245.0 586.0L244.5 584.4L244.0 582.9L243.5 581.3L243.0 579.8L242.5 578.3L242.0 576.7L241.5 575.2L241.0 573.6L240.5 572.1L240.0 570.6L239.5 569.0L239.0 567.5L238.5 565.9L238.0 564.4L237.5 562.8L237.0 561.3L236.5 556.5L236.0 551.5L235.5 546.4L235.0 541.4L234.5 536.4L234.0 531.3L233.5 526.5L233.0 526.5L232.5 526.5L232.0 526.5L231.5 526.5L231.0 526.5L230.5 526.5L230.0 526.5L229.5 526.5L229.0 526.5L228.5 526.5L228.0 526.5L227.5 526.5L227.0 526.5L226.5 526.5L226.0 526.5L225.5 526.5L225.0 526.5L224.5 526.5L224.0 526.5L223.5 526.5L223.0 526.5L222.5 526.5L222.0 526.5L221.5 526.5L221.0 526.5L220.5 526.5L220.0 526.5L219.5 526.5L219.0 526.5L218.5 526.5L218.0 544.8L217.5 544.8L217.0 544.8L216.5 544.8L216.0 544.8L215.5 544.8L215.0 544.8L214.5 544.8L214.0 544.8L213.5 544.8L213.0 544.8L212.5 544.8L212.0 544.8L211.5 544.6L211.0 544.0L210.5 543.5L210.0 543.5L209.5 543.5L209.0 543.5L208.5 543.5L208.0 543.5L207.5 543.5L207.0 543.5L206.5 543.5L206.0 543.5L205.5 543.5L205.0 543.5L204.5 543.5L204.0 532.2L203.5 532.2L203.0 532.2L202.5 532.2L202.0 532.2L201.5 532.2L201.0 532.2L200.5 532.2L200.0 532.2L199.5 532.2L199.0 532.2L198.5 532.2L198.0 532.2L197.5 532.2L197.0 532.2L196.5 532.2L196.0 532.2L195.5 532.2L195.0 532.2L194.5 554.8L194.0 554.8L193.5 554.8L193.0 554.8L192.5 554.8L192.0 554.8L191.5 554.8L191.0 554.8L190.5 554.8L190.0 554.8L189.5 554.8L189.0 554.8L188.5 554.8L188.0 554.8L187.5 554.8L187.0 554.8L186.5 554.8L186.0 554.8L185.5 554.8L185.0 554.8L184.5 556.0L184.0 556.0L183.5 556.0L183.0 556.0L182.5 556.0L182.0 556.0L181.5 556.0L181.0 556.0L180.5 556.0L180.0 556.0L179.5 556.0L179.0 556.0L178.5 556.0L178.0 579.8L177.5 579.8L177.0 579.8L176.5 579.8L176.0 579.8L175.5 579.8L175.0 579.8L174.5 579.8L174.0 579.8L173.5 579.8L173.0 579.8L172.5 579.8L172.0 579.8L171.5 579.8L171.0 579.8L170.5 579.8L170.0 579.8L169.5 559.3L169.0 559.4L168.5 558.5L168.0 555.8L167.5 553.2L167.0 552.2L166.5 552.2L166.0 552.2L165.5 552.2L165.0 552.2L164.5 552.2L164.0 552.2L163.5 552.2L163.0 552.2L162.5 552.2L162.0 552.2L161.5 521.7L161.0 519.0L160.5 518.5L160.0 518.5L159.5 518.5L159.0 518.5L158.5 518.5L158.0 518.5L157.5 518.5L157.0 518.5L156.5 519.0L156.0 519.6L155.5 520.2L155.0 520.8L154.5 521.4L154.0 522.0L153.5 522.6L153.0 523.2L152.5 523.8L152.0 524.4L151.5 524.6L151.0 523.8L150.5 566.0L150.0 566.0L149.5 566.0L149.0 566.0L148.5 566.0L148.0 566.0L147.5 566.0L147.0 566.0L146.5 566.0L146.0 566.0L145.5 566.0L145.0 566.0L144.5 566.0L144.0 566.0L143.5 566.0L143.0 572.2L142.5 572.2L142.0 572.2L141.5 572.2L141.0 572.2L140.5 572.2L140.0 572.2L139.5 572.2L139.0 572.2L138.5 572.2L138.0 572.2L137.5 572.2L137.0 577.8L136.5 577.8L136.0 577.8L135.5 577.8L135.0 577.8L134.5 577.8L134.0 577.8L133.5 577.8L133.0 591.0L132.5 591.0L132.0 591.0L131.5 591.0L131.0 591.0L130.5 591.0L130.0 591.0L129.5 591.0L129.0 591.0L128.5 591.0L128.0 591.0L127.5 591.0L127.0 591.0L126.5 591.0L126.0 591.0L125.5 591.0L125.0 591.0L124.5 591.0L124.0 574.0L123.5 574.0L123.0 574.0L122.5 574.0L122.0 574.0L121.5 574.0L121.0 574.0L120.5 574.0L120.0 574.0L119.5 574.0L119.0 574.0L118.5 574.0L118.0 574.0L117.5 574.0L117.0 574.0L116.5 574.0L116.0 574.0L115.5 572.2L115.0 572.2L114.5 572.2L114.0 572.2L113.5 572.2L113.0 572.2L112.5 572.2L112.0 572.2L111.5 572.2L111.0 572.2L110.5 572.2L110.0 572.2L109.5 572.2L109.0 572.2L108.5 572.2L108.0 564.0L107.5 564.0L107.0 564.0L106.5 564.0L106.0 564.0L105.5 564.0L105.0 564.0L104.5 564.0L104.0 564.0L103.5 564.0L103.0 564.0L102.5 564.0L102.0 564.0L101.5 564.0L101.0 564.0L100.5 565.2L100.0 565.2L99.5 565.2L99.0 565.2L98.5 565.2L98.0 565.2L97.5 565.2L97.0 565.2L96.5 565.2L96.0 565.2L95.5 565.2L95.0 565.2L94.5 565.2L94.0 565.2L93.5 565.2L93.0 565.2L92.5 565.2L92.0 537.2L91.5 537.2L91.0 537.2L90.5 537.2L90.0 537.2L89.5 537.2L89.0 537.2L88.5 537.2L88.0 537.2L87.5 537.2L87.0 537.2L86.5 501.5L86.0 501.5L85.5 501.5L85.0 501.5L84.5 501.5L84.0 501.5L83.5 501.5L83.0 501.5L82.5 501.5L82.0 501.5L81.5 501.5L81.0 501.5L80.5 501.5L80.0 501.5L79.5 501.5L79.0 501.5L78.5 501.5L78.0 501.5L77.5 501.5L77.0 548.5L76.5 548.5L76.0 548.5L75.5 548.5L75.0 548.5L74.5 548.5L74.0 548.5L73.5 548.5L73.0 548.5L72.5 548.5L72.0 548.5L71.5 548.5L71.0 548.5L70.5 548.5L70.0 548.5L69.5 548.5L69.0 548.5L68.5 548.5L68.0 548.5L67.5 548.5Z" fill="#000" fill-opacity="0.1"/>
<path d="M73.2 466.2L77.0 460.0L81.5 451.2L83.0 455.0L83.2 461.0L87.0 493.5L90.8 509.8L93.2 523.5L97.0 531.0L100.0 546.0L103.2 531.0L108.2 524.8L112.0 531.0L115.8 542.2L122.0 542.2L126.5 538.5L129.5 548.5L132.8 558.5L135.8 551.0L139.5 539.8L144.5 531.0L147.0 516.0L152.0 513.5L154.0 493.5L157.0 506.0L159.5 514.8L167.0 516.0L169.5 538.5L172.0 556.0L178.2 554.8L183.2 531.0L185.8 514.8L192.0 512.2L195.8 516.0L197.0 496.0L204.5 493.5L205.8 472.2L212.0 472.2L212.5 501.0L219.5 502.2L222.0 493.5L229.5 481.0L234.5 473.5L237.0 488.5L238.2 526.0L242.0 541.0L245.8 548.5L248.2 533.5L252.0 511.0L255.8 501.0L259.5 486.0L263.2 471.0L265.8 481.0L267.0 506.0L270.8 509.8L275.8 508.5L279.5 521.0L283.2 513.5L287.0 514.8L288.2 533.5L290.0 526.0L292.5 518.5L297.5 512.2L303.8 516.0L310.0 523.5L315.0 528.5L320.0 539.8L325.0 529.8L333.8 529.8L340.0 532.2L343.8 519.8L348.8 504.8L351.2 516.0L355.0 526.0L362.5 527.2L367.5 528.5L370.0 516.0L373.8 496.0L377.5 493.5L385.0 499.8L390.0 501.0L395.0 483.5L398.8 471.0L401.2 488.5L403.8 509.8L410.0 491.0L413.8 498.5L416.2 481.0L418.8 461.0L419.5 454.0L419.8 454.0L422.5 455.0L423.2 456.0L423.8 456.0L426.2 493.5L427.0 526.0L433.8 531.0L436.2 521.0L440.0 509.8L443.8 506.0L450.0 513.5L455.0 504.8L460.0 509.8L462.5 506.0L467.5 504.8L470.0 518.5L476.2 513.5L478.8 532.2L483.8 523.5L487.5 534.8L491.2 534.8L493.0 552.2L495.0 523.5L501.2 516.0L503.8 533.5L507.5 541.0L510.0 553.5L512.5 552.2" fill="none" stroke="#939393" stroke-width="1.2" stroke-dasharray="3.2 3.4" stroke-linejoin="round"/>
<path d="M73.6 494.3L82.1 466.3L90.7 524.6L107.7 488.0L116.3 534.7L124.8 515.0L133.3 541.4L143.1 511.3L151.6 524.8L160.2 514.6L168.7 559.5L177.2 557.3L185.8 482.5L194.3 508.3L202.8 521.2L211.4 545.0L219.9 521.7L228.4 475.3L237.0 561.2L245.5 587.5L254.0 528.3L262.6 464.2L271.1 527.0L279.6 555.8L288.2 528.7L296.7 490.5L305.2 510.8L313.8 531.7L322.3 518.0L330.8 518.7L339.4 563.0L347.9 527.0L356.4 561.3L365.0 560.8L373.5 505.0L382.0 486.7L390.6 514.7L399.1 496.0L416.2 417.5L424.7 523.0L433.2 522.5L441.8 510.0L450.3 519.7L458.9 558.3L467.4 549.7L475.9 497.5L484.5 439.7L493.0 515.3L501.5 503.0L510.1 558.0" fill="none" stroke="#c23531" stroke-width="1.0" stroke-linejoin="round" stroke-linecap="round"/>
<g fill="#c23531"><circle cx="73.6" cy="494.3" r="1.45"/><circle cx="82.1" cy="466.3" r="1.45"/><circle cx="90.7" cy="524.6" r="1.45"/><circle cx="107.7" cy="488.0" r="1.45"/><circle cx="116.3" cy="534.7" r="1.45"/><circle cx="124.8" cy="515.0" r="1.45"/><circle cx="133.3" cy="541.4" r="1.45"/><circle cx="143.1" cy="511.3" r="1.45"/><circle cx="151.6" cy="524.8" r="1.45"/><circle cx="160.2" cy="514.6" r="1.45"/><circle cx="168.7" cy="559.5" r="1.45"/><circle cx="177.2" cy="557.3" r="1.45"/><circle cx="185.8" cy="482.5" r="1.45"/><circle cx="194.3" cy="508.3" r="1.45"/><circle cx="202.8" cy="521.2" r="1.45"/><circle cx="211.4" cy="545.0" r="1.45"/><circle cx="219.9" cy="521.7" r="1.45"/><circle cx="228.4" cy="475.3" r="1.45"/><circle cx="237.0" cy="561.2" r="1.45"/><circle cx="245.5" cy="587.5" r="1.45"/><circle cx="254.0" cy="528.3" r="1.45"/><circle cx="262.6" cy="464.2" r="1.45"/><circle cx="271.1" cy="527.0" r="1.45"/><circle cx="279.6" cy="555.8" r="1.45"/><circle cx="288.2" cy="528.7" r="1.45"/><circle cx="296.7" cy="490.5" r="1.45"/><circle cx="305.2" cy="510.8" r="1.45"/><circle cx="313.8" cy="531.7" r="1.45"/><circle cx="322.3" cy="518.0" r="1.45"/><circle cx="330.8" cy="518.7" r="1.45"/><circle cx="339.4" cy="563.0" r="1.45"/><circle cx="347.9" cy="527.0" r="1.45"/><circle cx="356.4" cy="561.3" r="1.45"/><circle cx="365.0" cy="560.8" r="1.45"/><circle cx="373.5" cy="505.0" r="1.45"/><circle cx="382.0" cy="486.7" r="1.45"/><circle cx="390.6" cy="514.7" r="1.45"/><circle cx="399.1" cy="496.0" r="1.45"/><circle cx="416.2" cy="417.5" r="1.45"/><circle cx="424.7" cy="523.0" r="1.45"/><circle cx="433.2" cy="522.5" r="1.45"/><circle cx="441.8" cy="510.0" r="1.45"/><circle cx="450.3" cy="519.7" r="1.45"/><circle cx="458.9" cy="558.3" r="1.45"/><circle cx="467.4" cy="549.7" r="1.45"/><circle cx="475.9" cy="497.5" r="1.45"/><circle cx="484.5" cy="439.7" r="1.45"/><circle cx="493.0" cy="515.3" r="1.45"/><circle cx="501.5" cy="503.0" r="1.45"/><circle cx="510.1" cy="558.0" r="1.45"/></g>
<path d="M72.3 414.2L80.8 536.2L89.4 463.0L97.9 497.0L106.4 518.0L115.0 571.6L123.5 513.0L132.0 452.2L140.6 508.5L149.1 481.7L157.6 545.8L166.2 434.5L174.7 538.3L183.2 465.3L191.8 444.7L200.3 461.7L208.8 499.7L217.4 524.7L225.9 503.7L234.4 513.7L243.0 531.7L251.5 514.7L260.0 448.3L268.6 393.0L277.1 480.3L285.7 533.3L294.2 525.3L302.7 505.3L311.3 487.0L319.8 482.5L328.3 514.7L336.9 511.2L345.4 526.7L353.9 520.3L362.5 526.7L371.0 500.8L379.5 462.0L388.1 475.8L396.6 509.7L405.1 519.7L413.7 549.2L422.2 530.8L430.7 522.2" fill="none" stroke="#2f4554" stroke-width="1.0" stroke-linejoin="round" stroke-linecap="round"/>
<g fill="#2f4554"><circle cx="72.3" cy="414.2" r="1.45"/><circle cx="80.8" cy="536.2" r="1.45"/><circle cx="89.4" cy="463.0" r="1.45"/><circle cx="97.9" cy="497.0" r="1.45"/><circle cx="106.4" cy="518.0" r="1.45"/><circle cx="115.0" cy="571.6" r="1.45"/><circle cx="123.5" cy="513.0" r="1.45"/><circle cx="132.0" cy="452.2" r="1.45"/><circle cx="140.6" cy="508.5" r="1.45"/><circle cx="149.1" cy="481.7" r="1.45"/><circle cx="157.6" cy="545.8" r="1.45"/><circle cx="166.2" cy="434.5" r="1.45"/><circle cx="174.7" cy="538.3" r="1.45"/><circle cx="183.2" cy="465.3" r="1.45"/><circle cx="191.8" cy="444.7" r="1.45"/><circle cx="200.3" cy="461.7" r="1.45"/><circle cx="208.8" cy="499.7" r="1.45"/><circle cx="217.4" cy="524.7" r="1.45"/><circle cx="225.9" cy="503.7" r="1.45"/><circle cx="234.4" cy="513.7" r="1.45"/><circle cx="243.0" cy="531.7" r="1.45"/><circle cx="251.5" cy="514.7" r="1.45"/><circle cx="260.0" cy="448.3" r="1.45"/><circle cx="268.6" cy="393.0" r="1.45"/><circle cx="277.1" cy="480.3" r="1.45"/><circle cx="285.7" cy="533.3" r="1.45"/><circle cx="294.2" cy="525.3" r="1.45"/><circle cx="302.7" cy="505.3" r="1.45"/><circle cx="311.3" cy="487.0" r="1.45"/><circle cx="319.8" cy="482.5" r="1.45"/><circle cx="328.3" cy="514.7" r="1.45"/><circle cx="336.9" cy="511.2" r="1.45"/><circle cx="345.4" cy="526.7" r="1.45"/><circle cx="353.9" cy="520.3" r="1.45"/><circle cx="362.5" cy="526.7" r="1.45"/><circle cx="371.0" cy="500.8" r="1.45"/><circle cx="379.5" cy="462.0" r="1.45"/><circle cx="388.1" cy="475.8" r="1.45"/><circle cx="396.6" cy="509.7" r="1.45"/><circle cx="405.1" cy="519.7" r="1.45"/><circle cx="413.7" cy="549.2" r="1.45"/><circle cx="422.2" cy="530.8" r="1.45"/><circle cx="430.7" cy="522.2" r="1.45"/></g>
</g>
<text x="220" y="476.0" font-size="15.3" fill="#888888" fill-opacity="0.55">紫金天风期货</text>
<path d="M67.5 373.5V594.5" stroke="#555555" stroke-width="1"/>
<path d="M67.0 594.35H513.0" stroke="#6e6e6e" stroke-width="1.35"/>
<path d="M67.50 594.0v3.9" stroke="#666" stroke-width="1"/>
<text x="67.50" y="605.60" font-size="8.4" fill="#5a5a5a" text-anchor="middle" textLength="21.48">01-01</text>
<path d="M96.76 594.0v3.9" stroke="#666" stroke-width="1"/>
<text x="96.76" y="605.60" font-size="8.4" fill="#5a5a5a" text-anchor="middle" textLength="21.48">01-25</text>
<path d="M126.02 594.0v3.9" stroke="#666" stroke-width="1"/>
<text x="126.02" y="605.60" font-size="8.4" fill="#5a5a5a" text-anchor="middle" textLength="21.48">02-18</text>
<path d="M155.28 594.0v3.9" stroke="#666" stroke-width="1"/>
<text x="155.28" y="605.60" font-size="8.4" fill="#5a5a5a" text-anchor="middle" textLength="21.48">03-13</text>
<path d="M184.54 594.0v3.9" stroke="#666" stroke-width="1"/>
<text x="184.54" y="605.60" font-size="8.4" fill="#5a5a5a" text-anchor="middle" textLength="21.48">04-06</text>
<path d="M213.80 594.0v3.9" stroke="#666" stroke-width="1"/>
<text x="213.80" y="605.60" font-size="8.4" fill="#5a5a5a" text-anchor="middle" textLength="21.48">04-30</text>
<path d="M243.06 594.0v3.9" stroke="#666" stroke-width="1"/>
<text x="243.06" y="605.60" font-size="8.4" fill="#5a5a5a" text-anchor="middle" textLength="21.48">05-24</text>
<path d="M272.32 594.0v3.9" stroke="#666" stroke-width="1"/>
<text x="272.32" y="605.60" font-size="8.4" fill="#5a5a5a" text-anchor="middle" textLength="21.48">06-17</text>
<path d="M301.58 594.0v3.9" stroke="#666" stroke-width="1"/>
<text x="301.58" y="605.60" font-size="8.4" fill="#5a5a5a" text-anchor="middle" textLength="21.48">07-11</text>
<path d="M330.84 594.0v3.9" stroke="#666" stroke-width="1"/>
<text x="330.84" y="605.60" font-size="8.4" fill="#5a5a5a" text-anchor="middle" textLength="21.48">08-04</text>
<path d="M360.10 594.0v3.9" stroke="#666" stroke-width="1"/>
<text x="360.10" y="605.60" font-size="8.4" fill="#5a5a5a" text-anchor="middle" textLength="21.48">08-28</text>
<path d="M389.36 594.0v3.9" stroke="#666" stroke-width="1"/>
<text x="389.36" y="605.60" font-size="8.4" fill="#5a5a5a" text-anchor="middle" textLength="21.48">09-21</text>
<path d="M418.62 594.0v3.9" stroke="#666" stroke-width="1"/>
<text x="418.62" y="605.60" font-size="8.4" fill="#5a5a5a" text-anchor="middle" textLength="21.48">10-15</text>
<path d="M447.88 594.0v3.9" stroke="#666" stroke-width="1"/>
<text x="447.88" y="605.60" font-size="8.4" fill="#5a5a5a" text-anchor="middle" textLength="21.48">11-08</text>
<path d="M477.14 594.0v3.9" stroke="#666" stroke-width="1"/>
<text x="477.14" y="605.60" font-size="8.4" fill="#5a5a5a" text-anchor="middle" textLength="21.48">12-02</text>
<path d="M512.50 594.0v3.9" stroke="#666" stroke-width="1"/>
<text x="512.50" y="605.60" font-size="8.4" fill="#5a5a5a" text-anchor="middle" textLength="21.48">12-31</text>
<rect x="408.62" y="596.50" width="44.2" height="14" fill="#ffffff"/>
<text x="430.22" y="606.60" font-size="10.3" font-weight="bold" fill="#2f4554" text-anchor="middle" textLength="26.34">10-25</text>
<rect x="40.00" y="512.40" width="24" height="13" rx="1.5" fill="#ffffff" stroke="#e2e2e2" stroke-width="0.8"/>
<text x="62.50" y="522.60" font-size="10.2" font-weight="bold" fill="#2f4554" text-anchor="end" textLength="19.85">78.3</text></g>
<g clip-path="url(#pR)"><text x="565.00" y="328.00" font-size="10.5" fill="#262626" font-weight="bold">铁矿：现货日均成交量合计：贸易商：中国主要港口（周）</text>
<path d="M560 334.5H1096" stroke="#cccccc" stroke-width="1"/>
<path d="M602.30 341.25h16.25" stroke="#cccccc" stroke-width="1" fill="none"/><circle cx="610.40" cy="341.25" r="3.7" fill="#cccccc"/><text x="621.90" y="344.25" font-size="8.4" fill="#cccccc" textLength="18.69">2015</text>
<path d="M647.55 341.25h16.25" stroke="#cccccc" stroke-width="1" fill="none"/><circle cx="655.65" cy="341.25" r="3.7" fill="#cccccc"/><text x="667.15" y="344.25" font-size="8.4" fill="#cccccc" textLength="18.69">2016</text>
<path d="M692.80 341.25h16.25" stroke="#cccccc" stroke-width="1" fill="none"/><circle cx="700.90" cy="341.25" r="3.7" fill="#cccccc"/><text x="712.40" y="344.25" font-size="8.4" fill="#cccccc" textLength="18.69">2017</text>
<path d="M738.05 341.25h16.25" stroke="#cccccc" stroke-width="1" fill="none"/><circle cx="746.15" cy="341.25" r="3.7" fill="#cccccc"/><text x="757.65" y="344.25" font-size="8.4" fill="#cccccc" textLength="18.69">2018</text>
<path d="M783.30 341.25h16.25" stroke="#cccccc" stroke-width="1" fill="none"/><circle cx="791.40" cy="341.25" r="3.7" fill="#cccccc"/><text x="802.90" y="344.25" font-size="8.4" fill="#cccccc" textLength="18.69">2019</text>
<path d="M828.55 341.25h16.25" stroke="#cccccc" stroke-width="1" fill="none"/><circle cx="836.65" cy="341.25" r="3.7" fill="#cccccc"/><text x="848.15" y="344.25" font-size="8.4" fill="#cccccc" textLength="18.69">2020</text>
<path d="M873.80 341.25h16.25" stroke="#cccccc" stroke-width="1" fill="none"/><circle cx="881.90" cy="341.25" r="3.7" fill="#cccccc"/><text x="893.40" y="344.25" font-size="8.4" fill="#cccccc" textLength="18.69">2021</text>
<path d="M919.05 341.25h16.25" stroke="#cccccc" stroke-width="1" fill="none"/><circle cx="927.15" cy="341.25" r="3.7" fill="#cccccc"/><text x="938.65" y="344.25" font-size="8.4" fill="#cccccc" textLength="18.69">2022</text>
<path d="M964.30 341.25h16.25" stroke="#c23531" stroke-width="1" fill="none"/><circle cx="972.40" cy="341.25" r="3.7" fill="#c23531"/><text x="983.90" y="344.25" font-size="8.4" fill="#333333" textLength="18.69">2023</text>
<path d="M1009.55 341.25h16.25" stroke="#2f4554" stroke-width="1" fill="none"/><circle cx="1017.65" cy="341.25" r="3.7" fill="#2f4554"/><text x="1029.15" y="344.25" font-size="8.4" fill="#333333" textLength="18.69">2024</text>
<path d="M602.30 355.50h16.25" stroke="#666666" stroke-width="1" fill="none"/><circle cx="610.40" cy="355.50" r="3.7" fill="#666666"/><text x="621.90" y="358.50" font-size="8.4" fill="#333333" textLength="40.17">2015-2023</text><text x="662.07" y="358.50" font-size="7.9" fill="#333333">最大值</text>
<path d="M692.80 355.50h16.25" stroke="#666666" stroke-width="1" fill="none"/><circle cx="700.90" cy="355.50" r="3.7" fill="#666666"/><text x="712.40" y="358.50" font-size="8.4" fill="#333333" textLength="40.17">2015-2023</text><text x="752.57" y="358.50" font-size="7.9" fill="#333333">最小值</text>
<path d="M783.30 355.50h16.25" stroke="#666666" stroke-width="1" fill="none"/><circle cx="791.40" cy="355.50" r="3.7" fill="#666666"/><text x="802.90" y="358.50" font-size="8.4" fill="#333333" textLength="40.17">2015-2023</text><text x="843.07" y="358.50" font-size="7.9" fill="#333333">均值</text>
<path d="M629.5 374.5H1074.5" stroke="#ebebeb" stroke-width="1"/>
<path d="M625.75 374.5H629.5" stroke="#555555" stroke-width="1"/>
<text x="623.90" y="377.40" font-size="8.4" fill="#5a5a5a" text-anchor="end" textLength="13.38" lengthAdjust="spacingAndGlyphs">218</text>
<path d="M629.5 393.5H1074.5" stroke="#ebebeb" stroke-width="1"/>
<path d="M625.75 393.5H629.5" stroke="#555555" stroke-width="1"/>
<text x="623.90" y="396.40" font-size="8.4" fill="#5a5a5a" text-anchor="end" textLength="13.38" lengthAdjust="spacingAndGlyphs">200</text>
<path d="M629.5 446.5H1074.5" stroke="#ebebeb" stroke-width="1"/>
<path d="M625.75 446.5H629.5" stroke="#555555" stroke-width="1"/>
<text x="623.90" y="449.40" font-size="8.4" fill="#5a5a5a" text-anchor="end" textLength="13.38" lengthAdjust="spacingAndGlyphs">150</text>
<path d="M629.5 500.5H1074.5" stroke="#ebebeb" stroke-width="1"/>
<path d="M625.75 500.5H629.5" stroke="#555555" stroke-width="1"/>
<path d="M629.5 553.5H1074.5" stroke="#ebebeb" stroke-width="1"/>
<path d="M625.75 553.5H629.5" stroke="#555555" stroke-width="1"/>
<text x="623.90" y="556.40" font-size="8.4" fill="#5a5a5a" text-anchor="end" textLength="8.92" lengthAdjust="spacingAndGlyphs">50</text>
<path d="M625.75 594.5H629.5" stroke="#555555" stroke-width="1"/>
<text x="623.90" y="597.40" font-size="8.4" fill="#5a5a5a" text-anchor="end" textLength="8.92" lengthAdjust="spacingAndGlyphs">12</text>
<g clip-path="url(#clipbr)">
<path d="M629.5 420.0L630.0 420.0L630.5 420.0L631.0 420.0L631.5 420.0L632.0 420.0L632.5 420.0L633.0 420.0L633.5 420.0L634.0 420.0L634.5 420.0L635.0 420.0L635.5 420.0L636.0 420.0L636.5 420.0L637.0 412.5L637.5 412.5L638.0 412.5L638.5 412.5L639.0 412.5L639.5 412.5L640.0 412.5L640.5 412.5L641.0 412.5L641.5 412.5L642.0 412.5L642.5 412.5L643.0 412.5L643.5 412.5L644.0 412.5L644.5 412.5L645.0 412.5L645.5 425.0L646.0 425.0L646.5 425.0L647.0 425.0L647.5 425.0L648.0 451.2L648.5 451.2L649.0 451.2L649.5 451.2L650.0 451.2L650.5 451.2L651.0 451.2L651.5 451.2L652.0 451.2L652.5 451.2L653.0 451.2L653.5 451.2L654.0 451.2L654.5 451.2L655.0 451.2L655.5 451.2L656.0 451.2L656.5 451.2L657.0 461.2L657.5 461.2L658.0 461.2L658.5 461.2L659.0 461.2L659.5 461.2L660.0 461.2L660.5 461.2L661.0 461.2L661.5 461.2L662.0 461.2L662.5 461.2L663.0 485.0L663.5 485.0L664.0 485.0L664.5 485.0L665.0 485.0L665.5 485.0L666.0 485.0L666.5 485.0L667.0 485.0L667.5 485.0L668.0 485.0L668.5 485.0L669.0 485.0L669.5 485.0L670.0 485.0L670.5 485.0L671.0 485.0L671.5 514.5L672.0 514.5L672.5 514.5L673.0 514.5L673.5 514.5L674.0 514.5L674.5 514.5L675.0 514.5L675.5 514.5L676.0 514.5L676.5 514.5L677.0 514.5L677.5 514.5L678.0 514.5L678.5 514.5L679.0 514.5L679.5 514.5L680.0 514.5L680.5 514.5L681.0 517.3L681.5 515.8L682.0 514.4L682.5 512.9L683.0 511.4L683.5 509.9L684.0 508.4L684.5 506.9L685.0 505.4L685.5 503.9L686.0 502.4L686.5 500.7L687.0 499.8L687.5 499.6L688.0 499.3L688.5 499.1L689.0 498.9L689.5 498.6L690.0 498.4L690.5 498.1L691.0 497.9L691.5 497.6L692.0 497.4L692.5 497.1L693.0 496.9L693.5 496.7L694.0 496.4L694.5 496.2L695.0 495.9L695.5 495.7L696.0 495.6L696.5 495.4L697.0 489.7L697.5 485.5L698.0 485.5L698.5 485.5L699.0 485.5L699.5 485.5L700.0 485.5L700.5 485.5L701.0 485.5L701.5 485.5L702.0 485.5L702.5 485.5L703.0 485.5L703.5 485.5L704.0 485.5L704.5 485.5L705.0 485.5L705.5 485.5L706.0 485.5L706.5 485.5L707.0 485.5L707.5 485.5L708.0 471.2L708.5 471.2L709.0 471.2L709.5 471.2L710.0 471.2L710.5 471.2L711.0 471.2L711.5 471.2L712.0 471.2L712.5 471.2L713.0 471.2L713.5 471.2L714.0 471.2L714.5 471.2L715.0 471.2L715.5 471.2L716.0 471.2L716.5 448.0L717.0 448.0L717.5 448.0L718.0 448.0L718.5 448.0L719.0 448.0L719.5 448.0L720.0 448.0L720.5 448.0L721.0 448.0L721.5 448.0L722.0 448.0L722.5 448.0L723.0 448.0L723.5 448.0L724.0 448.0L724.5 430.8L725.0 430.8L725.5 430.8L726.0 430.8L726.5 430.8L727.0 430.8L727.5 430.8L728.0 430.8L728.5 430.8L729.0 430.8L729.5 430.8L730.0 430.8L730.5 430.8L731.0 430.8L731.5 430.8L732.0 430.8L732.5 430.8L733.0 480.8L733.5 480.8L734.0 480.8L734.5 480.8L735.0 480.8L735.5 480.8L736.0 480.8L736.5 480.8L737.0 480.8L737.5 480.8L738.0 480.8L738.5 480.8L739.0 480.8L739.5 480.8L740.0 480.8L740.5 445.0L741.0 445.0L741.5 445.0L742.0 445.0L742.5 445.0L743.0 445.0L743.5 445.0L744.0 445.0L744.5 428.0L745.0 428.0L745.5 428.0L746.0 428.0L746.5 428.0L747.0 428.0L747.5 428.0L748.0 428.0L748.5 428.0L749.0 428.0L749.5 428.0L750.0 428.0L750.5 428.0L751.0 428.0L751.5 428.0L752.0 428.0L752.5 428.0L753.0 393.0L753.5 393.0L754.0 393.0L754.5 393.0L755.0 393.0L755.5 393.0L756.0 393.0L756.5 393.0L757.0 393.0L757.5 393.0L758.0 393.0L758.5 393.0L759.0 393.0L759.5 393.0L760.0 393.0L760.5 393.0L761.0 393.0L761.5 438.0L762.0 438.0L762.5 438.0L763.0 438.0L763.5 438.0L764.0 438.0L764.5 438.0L765.0 438.0L765.5 438.0L766.0 438.0L766.5 438.0L767.0 438.0L767.5 438.0L768.0 426.5L768.5 426.5L769.0 426.5L769.5 426.5L770.0 426.5L770.5 426.5L771.0 426.5L771.5 426.5L772.0 426.5L772.5 426.5L773.0 426.5L773.5 426.5L774.0 426.5L774.5 426.5L775.0 426.5L775.5 426.5L776.0 426.5L776.5 435.5L777.0 435.5L777.5 435.5L778.0 435.5L778.5 435.5L779.0 458.0L779.5 458.0L780.0 458.0L780.5 458.0L781.0 458.0L781.5 458.0L782.0 458.0L782.5 458.0L783.0 458.0L783.5 458.0L784.0 377.0L784.5 377.0L785.0 377.0L785.5 377.0L786.0 377.0L786.5 377.0L787.0 377.0L787.5 377.0L788.0 377.0L788.5 377.0L789.0 377.0L789.5 377.0L790.0 377.0L790.5 377.0L791.0 377.0L791.5 460.0L792.0 460.0L792.5 460.0L793.0 460.0L793.5 460.0L794.0 460.0L794.5 460.0L795.0 460.0L795.5 431.2L796.0 431.2L796.5 431.2L797.0 431.2L797.5 431.2L798.0 431.2L798.5 431.2L799.0 431.2L799.5 431.2L800.0 431.2L800.5 431.2L801.0 431.2L801.5 428.0L802.0 428.0L802.5 428.0L803.0 428.0L803.5 428.0L804.0 428.0L804.5 428.0L805.0 428.0L805.5 428.0L806.0 428.0L806.5 428.0L807.0 428.0L807.5 428.0L808.0 428.0L808.5 428.0L809.0 428.0L809.5 428.0L810.0 428.0L810.5 437.0L811.0 437.0L811.5 437.0L812.0 437.0L812.5 437.0L813.0 437.0L813.5 437.0L814.0 437.0L814.5 437.0L815.0 437.0L815.5 437.0L816.0 437.0L816.5 437.0L817.0 437.0L817.5 437.0L818.0 437.0L818.5 433.0L819.0 433.0L819.5 433.0L820.0 433.0L820.5 433.0L821.0 433.0L821.5 433.0L822.0 433.0L822.5 433.0L823.0 433.0L823.5 433.0L824.0 433.0L824.5 433.0L825.0 433.0L825.5 433.0L826.0 433.0L826.5 433.0L827.0 433.0L827.5 450.0L828.0 450.0L828.5 450.0L829.0 450.0L829.5 431.8L830.0 431.8L830.5 431.8L831.0 431.8L831.5 431.8L832.0 431.8L832.5 431.8L833.0 431.8L833.5 431.8L834.0 431.8L834.5 431.8L835.0 431.8L835.5 431.8L836.0 431.8L836.5 431.8L837.0 431.8L837.5 431.8L838.0 431.8L838.5 431.8L839.0 431.8L839.5 431.8L840.0 431.8L840.5 431.8L841.0 431.8L841.5 431.8L842.0 431.8L842.5 431.8L843.0 431.8L843.5 431.8L844.0 431.8L844.5 436.0L845.0 436.0L845.5 436.0L846.0 436.0L846.5 436.0L847.0 436.0L847.5 436.0L848.0 436.0L848.5 436.0L849.0 436.0L849.5 436.0L850.0 436.0L850.5 436.0L851.0 436.0L851.5 436.0L852.0 436.0L852.5 460.0L853.0 460.0L853.5 460.0L854.0 460.0L854.5 460.0L855.0 460.0L855.5 460.0L856.0 460.0L856.5 460.0L857.0 460.0L857.5 460.0L858.0 460.0L858.5 460.0L859.0 460.0L859.5 460.0L860.0 460.0L860.5 460.0L861.0 460.0L861.5 455.5L862.0 455.5L862.5 455.5L863.0 455.5L863.5 455.5L864.0 455.5L864.5 455.5L865.0 455.5L865.5 455.5L866.0 455.5L866.5 455.5L867.0 455.5L867.5 455.5L868.0 455.5L868.5 455.5L869.0 455.5L869.5 455.5L870.0 434.2L870.5 434.2L871.0 434.2L871.5 434.2L872.0 434.2L872.5 434.2L873.0 434.2L873.5 434.2L874.0 434.2L874.5 434.2L875.0 434.2L875.5 434.2L876.0 434.2L876.5 434.2L877.0 434.2L877.5 434.2L878.0 434.2L878.5 442.5L879.0 442.5L879.5 442.5L880.0 442.5L880.5 442.5L881.0 442.5L881.5 442.5L882.0 442.5L882.5 442.5L883.0 442.5L883.5 442.5L884.0 442.5L884.5 442.5L885.0 442.5L885.5 442.5L886.0 442.5L886.5 446.2L887.0 446.2L887.5 446.2L888.0 446.2L888.5 446.2L889.0 446.2L889.5 446.2L890.0 446.2L890.5 446.2L891.0 446.2L891.5 446.2L892.0 446.2L892.5 446.2L893.0 446.2L893.5 446.2L894.0 446.2L894.5 446.2L895.0 446.2L895.5 458.8L896.0 458.8L896.5 458.8L897.0 458.8L897.5 458.8L898.0 458.8L898.5 458.8L899.0 458.8L899.5 458.8L900.0 458.8L900.5 458.8L901.0 458.8L901.5 458.8L902.0 458.8L902.5 458.8L903.0 458.8L903.5 458.8L904.0 415.5L904.5 415.5L905.0 415.5L905.5 415.5L906.0 415.5L906.5 415.5L907.0 415.5L907.5 415.5L908.0 415.5L908.5 415.5L909.0 415.5L909.5 415.5L910.0 415.5L910.5 415.5L911.0 415.5L911.5 415.5L912.0 415.5L912.5 432.0L913.0 432.0L913.5 432.0L914.0 432.0L914.5 432.0L915.0 432.0L915.5 432.0L916.0 432.0L916.5 432.0L917.0 432.0L917.5 432.0L918.0 432.0L918.5 432.0L919.0 432.0L919.5 432.0L920.0 432.0L920.5 432.0L921.0 443.0L921.5 443.0L922.0 443.0L922.5 443.0L923.0 443.0L923.5 443.0L924.0 443.0L924.5 443.0L925.0 443.0L925.5 443.0L926.0 443.0L926.5 443.0L927.0 443.0L927.5 443.0L928.0 443.0L928.5 443.0L929.0 443.0L929.5 396.2L930.0 396.2L930.5 396.2L931.0 396.2L931.5 396.2L932.0 396.2L932.5 396.2L933.0 396.2L933.5 396.2L934.0 396.2L934.5 396.2L935.0 396.2L935.5 396.2L936.0 396.2L936.5 396.2L937.0 396.2L937.5 396.2L938.0 437.5L938.5 437.5L939.0 437.5L939.5 437.5L940.0 437.5L940.5 437.5L941.0 449.5L941.5 449.5L942.0 449.5L942.5 449.5L943.0 449.5L943.5 449.5L944.0 449.5L944.5 449.5L945.0 449.5L945.5 449.5L946.0 449.5L946.5 447.0L947.0 447.0L947.5 447.0L948.0 447.0L948.5 447.0L949.0 447.0L949.5 447.0L950.0 447.0L950.5 447.0L951.0 447.0L951.5 447.0L952.0 447.0L952.5 447.0L953.0 447.0L953.5 447.0L954.0 447.0L954.5 447.0L955.0 447.0L955.5 456.2L956.0 456.2L956.5 456.2L957.0 456.2L957.5 456.2L958.0 456.2L958.5 456.2L959.0 403.2L959.5 403.2L960.0 403.2L960.5 403.2L961.0 403.2L961.5 403.2L962.0 403.2L962.5 403.2L963.0 403.2L963.5 403.2L964.0 403.2L964.5 403.2L965.0 403.2L965.5 403.2L966.0 403.2L966.5 403.2L967.0 403.2L967.5 403.2L968.0 403.2L968.5 403.2L969.0 403.2L969.5 403.2L970.0 403.2L970.5 403.2L971.0 403.2L971.5 403.2L972.0 403.2L972.5 403.2L973.0 403.2L973.5 403.2L974.0 403.2L974.5 403.2L975.0 403.2L975.5 434.5L976.0 434.5L976.5 434.5L977.0 434.5L977.5 434.5L978.0 434.5L978.5 434.5L979.0 434.5L979.5 434.5L980.0 434.5L980.5 434.5L981.0 434.5L981.5 453.2L982.0 453.2L982.5 453.2L983.0 453.2L983.5 453.2L984.0 453.2L984.5 453.2L985.0 453.2L985.5 453.2L986.0 453.2L986.5 453.2L987.0 453.2L987.5 453.2L988.0 453.2L988.5 453.2L989.0 453.2L989.5 453.2L990.0 455.5L990.5 455.5L991.0 455.5L991.5 455.5L992.0 455.5L992.5 455.5L993.0 455.5L993.5 455.5L994.0 455.5L994.5 455.5L995.0 455.5L995.5 455.5L996.0 455.5L996.5 455.5L997.0 455.5L997.5 455.5L998.0 460.0L998.5 460.0L999.0 460.0L999.5 460.0L1000.0 460.0L1000.5 460.0L1001.0 460.0L1001.5 485.0L1002.0 485.0L1002.5 485.0L1003.0 485.0L1003.5 485.0L1004.0 485.0L1004.5 485.0L1005.0 485.0L1005.5 485.0L1006.0 485.0L1006.5 458.0L1007.0 458.0L1007.5 458.0L1008.0 458.0L1008.5 458.0L1009.0 458.0L1009.5 458.0L1010.0 458.0L1010.5 458.0L1011.0 458.0L1011.5 458.0L1012.0 458.0L1012.5 458.0L1013.0 458.0L1013.5 458.0L1014.0 458.0L1014.5 458.0L1015.0 464.5L1015.5 464.5L1016.0 464.5L1016.5 464.5L1017.0 464.5L1017.5 462.5L1018.0 462.5L1018.5 462.5L1019.0 462.5L1019.5 462.5L1020.0 462.5L1020.5 462.5L1021.0 462.5L1021.5 462.5L1022.0 462.5L1022.5 462.5L1023.0 462.5L1023.5 462.5L1024.0 462.5L1024.5 462.5L1025.0 462.5L1025.5 442.5L1026.0 442.5L1026.5 442.5L1027.0 442.5L1027.5 442.5L1028.0 442.5L1028.5 442.5L1029.0 442.5L1029.5 442.5L1030.0 442.5L1030.5 442.5L1031.0 442.5L1031.5 442.5L1032.0 442.5L1032.5 442.5L1033.0 442.5L1033.5 442.5L1034.0 457.5L1034.5 457.5L1035.0 457.5L1035.5 457.5L1036.0 457.5L1036.5 457.5L1037.0 457.5L1037.5 457.5L1038.0 457.5L1038.5 457.5L1039.0 457.5L1039.5 457.5L1040.0 455.8L1040.5 455.8L1041.0 455.8L1041.5 455.8L1042.0 455.8L1042.5 455.8L1043.0 455.8L1043.5 455.8L1044.0 455.8L1044.5 455.8L1045.0 455.8L1045.5 455.8L1046.0 455.8L1046.5 455.8L1047.0 455.8L1047.5 455.8L1048.0 455.8L1048.5 455.8L1049.0 457.5L1049.5 457.5L1050.0 457.5L1050.5 457.5L1051.0 457.5L1051.5 457.5L1052.0 457.5L1052.5 457.5L1053.0 457.5L1053.5 457.5L1054.0 457.5L1054.5 457.5L1055.0 457.5L1055.5 457.5L1056.0 457.5L1056.5 457.5L1057.0 457.5L1057.5 451.2L1058.0 451.2L1058.5 451.2L1059.0 451.2L1059.5 451.2L1060.0 451.2L1060.5 451.2L1061.0 451.2L1061.5 451.2L1062.0 451.2L1062.5 451.2L1063.0 451.2L1063.5 451.2L1064.0 451.2L1064.5 451.2L1065.0 451.2L1065.5 451.2L1066.0 464.5L1066.5 464.5L1067.0 464.5L1067.5 464.5L1068.0 464.5L1068.5 464.5L1069.0 464.5L1069.5 464.5L1070.0 464.5L1070.5 464.5L1071.0 464.5L1071.5 464.5L1072.0 464.5L1072.5 464.5L1073.0 464.5L1073.5 464.5L1074.0 464.5L1074.5 464.5L1074.5 554.0L1074.0 554.0L1073.5 554.0L1073.0 554.0L1072.5 554.0L1072.0 554.0L1071.5 554.0L1071.0 554.0L1070.5 554.0L1070.0 554.0L1069.5 554.0L1069.0 554.0L1068.5 554.0L1068.0 554.0L1067.5 554.0L1067.0 554.0L1066.5 554.0L1066.0 554.0L1065.5 554.0L1065.0 554.0L1064.5 554.0L1064.0 554.0L1063.5 554.0L1063.0 554.0L1062.5 554.0L1062.0 554.0L1061.5 554.0L1061.0 554.0L1060.5 554.0L1060.0 554.0L1059.5 554.0L1059.0 554.0L1058.5 554.0L1058.0 554.0L1057.5 556.0L1057.0 556.0L1056.5 556.0L1056.0 556.0L1055.5 556.0L1055.0 556.0L1054.5 556.0L1054.0 556.0L1053.5 556.0L1053.0 556.0L1052.5 556.0L1052.0 556.0L1051.5 556.0L1051.0 556.0L1050.5 556.0L1050.0 556.0L1049.5 556.0L1049.0 556.0L1048.5 550.5L1048.0 550.5L1047.5 550.5L1047.0 550.5L1046.5 550.5L1046.0 550.5L1045.5 550.5L1045.0 550.5L1044.5 550.5L1044.0 550.5L1043.5 550.5L1043.0 550.5L1042.5 550.5L1042.0 550.5L1041.5 550.5L1041.0 551.5L1040.5 551.5L1040.0 551.5L1039.5 551.5L1039.0 551.5L1038.5 551.5L1038.0 551.5L1037.5 551.5L1037.0 551.5L1036.5 551.5L1036.0 551.5L1035.5 551.5L1035.0 551.5L1034.5 551.5L1034.0 551.5L1033.5 551.5L1033.0 551.5L1032.5 551.5L1032.0 546.0L1031.5 546.0L1031.0 546.0L1030.5 546.0L1030.0 546.0L1029.5 546.0L1029.0 546.0L1028.5 546.0L1028.0 546.0L1027.5 546.0L1027.0 546.0L1026.5 546.0L1026.0 546.0L1025.5 546.0L1025.0 544.8L1024.5 544.8L1024.0 544.8L1023.5 544.8L1023.0 544.8L1022.5 544.8L1022.0 544.8L1021.5 544.8L1021.0 544.8L1020.5 544.8L1020.0 544.8L1019.5 544.8L1019.0 544.8L1018.5 544.8L1018.0 544.8L1017.5 544.8L1017.0 535.5L1016.5 535.5L1016.0 535.5L1015.5 535.5L1015.0 535.5L1014.5 535.5L1014.0 535.5L1013.5 553.0L1013.0 553.0L1012.5 553.0L1012.0 553.0L1011.5 553.0L1011.0 553.0L1010.5 553.0L1010.0 553.0L1009.5 553.0L1009.0 553.0L1008.5 553.0L1008.0 553.0L1007.5 553.0L1007.0 553.0L1006.5 553.0L1006.0 564.0L1005.5 564.0L1005.0 564.0L1004.5 564.0L1004.0 564.0L1003.5 564.0L1003.0 564.0L1002.5 564.0L1002.0 564.0L1001.5 564.0L1001.0 564.0L1000.5 564.0L1000.0 564.0L999.5 564.0L999.0 564.0L998.5 564.0L998.0 564.0L997.5 566.0L997.0 566.0L996.5 566.0L996.0 566.0L995.5 566.0L995.0 566.0L994.5 566.0L994.0 566.0L993.5 566.0L993.0 566.0L992.5 566.0L992.0 566.0L991.5 566.0L991.0 566.0L990.5 566.0L990.0 566.0L989.5 566.0L989.0 566.0L988.5 571.0L988.0 571.0L987.5 571.0L987.0 571.0L986.5 571.0L986.0 571.0L985.5 571.0L985.0 571.0L984.5 571.0L984.0 571.0L983.5 571.0L983.0 571.0L982.5 571.0L982.0 571.0L981.5 571.0L981.0 561.0L980.5 561.0L980.0 561.0L979.5 561.0L979.0 561.0L978.5 561.0L978.0 561.0L977.5 561.0L977.0 561.0L976.5 561.0L976.0 561.0L975.5 561.0L975.0 561.0L974.5 561.0L974.0 561.0L973.5 561.0L973.0 561.0L972.5 561.0L972.0 550.5L971.5 550.5L971.0 550.5L970.5 550.5L970.0 550.5L969.5 550.5L969.0 550.5L968.5 550.5L968.0 550.5L967.5 550.5L967.0 550.5L966.5 550.5L966.0 550.5L965.5 550.5L965.0 550.5L964.5 549.0L964.0 549.0L963.5 549.0L963.0 549.0L962.5 549.0L962.0 549.0L961.5 549.0L961.0 549.0L960.5 549.0L960.0 549.0L959.5 549.0L959.0 549.0L958.5 549.0L958.0 549.0L957.5 549.0L957.0 549.0L956.5 549.0L956.0 549.0L955.5 549.0L955.0 563.5L954.5 563.5L954.0 563.5L953.5 563.5L953.0 563.5L952.5 563.5L952.0 563.5L951.5 563.5L951.0 563.5L950.5 563.5L950.0 563.5L949.5 563.5L949.0 563.5L948.5 563.5L948.0 563.5L947.5 563.5L947.0 563.5L946.5 563.5L946.0 566.0L945.5 566.0L945.0 566.0L944.5 566.0L944.0 566.0L943.5 566.0L943.0 566.0L942.5 566.0L942.0 566.0L941.5 566.0L941.0 566.0L940.5 566.0L940.0 566.0L939.5 566.0L939.0 566.0L938.5 573.0L938.0 573.0L937.5 573.0L937.0 573.0L936.5 573.0L936.0 573.0L935.5 573.0L935.0 573.0L934.5 573.0L934.0 573.0L933.5 573.0L933.0 573.0L932.5 573.0L932.0 573.0L931.5 573.0L931.0 573.0L930.5 573.0L930.0 573.0L929.5 562.2L929.0 562.2L928.5 562.2L928.0 562.2L927.5 562.2L927.0 562.2L926.5 562.2L926.0 562.2L925.5 562.2L925.0 562.2L924.5 562.2L924.0 562.2L923.5 562.2L923.0 562.2L922.5 562.2L922.0 562.2L921.5 562.2L921.0 562.2L920.5 562.2L920.0 562.2L919.5 554.0L919.0 554.0L918.5 554.0L918.0 554.0L917.5 554.0L917.0 554.0L916.5 554.0L916.0 554.0L915.5 554.0L915.0 554.0L914.5 554.0L914.0 554.0L913.5 554.0L913.0 554.0L912.5 554.0L912.0 554.0L911.5 554.0L911.0 554.0L910.5 554.0L910.0 554.0L909.5 554.0L909.0 554.0L908.5 554.0L908.0 554.0L907.5 554.0L907.0 554.0L906.5 554.0L906.0 554.0L905.5 554.0L905.0 554.0L904.5 554.0L904.0 554.0L903.5 554.0L903.0 554.0L902.5 554.0L902.0 554.0L901.5 554.0L901.0 554.0L900.5 554.0L900.0 554.0L899.5 554.0L899.0 554.0L898.5 554.0L898.0 554.0L897.5 554.0L897.0 554.0L896.5 554.0L896.0 554.0L895.5 554.0L895.0 554.0L894.5 554.0L894.0 554.0L893.5 554.0L893.0 554.0L892.5 554.0L892.0 554.0L891.5 554.0L891.0 554.0L890.5 554.0L890.0 554.0L889.5 554.0L889.0 554.0L888.5 554.0L888.0 554.0L887.5 554.0L887.0 554.0L886.5 554.0L886.0 554.0L885.5 554.0L885.0 554.8L884.5 554.8L884.0 554.8L883.5 554.8L883.0 554.8L882.5 554.8L882.0 554.8L881.5 554.8L881.0 554.8L880.5 554.8L880.0 554.8L879.5 554.8L879.0 554.8L878.5 554.8L878.0 554.8L877.5 554.8L877.0 554.8L876.5 554.8L876.0 554.8L875.5 554.8L875.0 554.8L874.5 554.8L874.0 554.8L873.5 554.8L873.0 554.8L872.5 554.8L872.0 554.8L871.5 554.8L871.0 554.8L870.5 554.8L870.0 559.8L869.5 559.8L869.0 559.8L868.5 559.8L868.0 559.8L867.5 559.8L867.0 559.8L866.5 559.8L866.0 559.8L865.5 559.8L865.0 559.8L864.5 559.8L864.0 559.8L863.5 559.8L863.0 559.8L862.5 559.8L862.0 559.8L861.5 559.8L861.0 561.5L860.5 561.5L860.0 561.5L859.5 561.5L859.0 561.5L858.5 561.5L858.0 561.5L857.5 561.5L857.0 561.5L856.5 561.5L856.0 561.5L855.5 561.5L855.0 561.5L854.5 561.5L854.0 561.5L853.5 561.5L853.0 561.5L852.5 566.0L852.0 566.0L851.5 566.0L851.0 566.0L850.5 566.0L850.0 566.0L849.5 566.0L849.0 566.0L848.5 566.0L848.0 566.0L847.5 566.0L847.0 566.0L846.5 566.0L846.0 566.0L845.5 566.0L845.0 566.0L844.5 566.0L844.0 566.0L843.5 567.2L843.0 567.2L842.5 567.2L842.0 567.2L841.5 567.2L841.0 567.2L840.5 567.2L840.0 567.2L839.5 567.2L839.0 567.2L838.5 567.2L838.0 567.2L837.5 567.2L837.0 567.2L836.5 567.2L836.0 567.2L835.5 567.2L835.0 569.0L834.5 569.0L834.0 569.0L833.5 569.0L833.0 569.0L832.5 569.0L832.0 569.0L831.5 569.0L831.0 569.0L830.5 569.0L830.0 569.0L829.5 569.0L829.0 569.0L828.5 569.0L828.0 569.0L827.5 569.0L827.0 558.5L826.5 558.5L826.0 558.5L825.5 558.5L825.0 558.5L824.5 558.5L824.0 558.5L823.5 558.5L823.0 558.5L822.5 558.5L822.0 558.5L821.5 558.5L821.0 558.5L820.5 558.5L820.0 558.5L819.5 558.5L819.0 558.5L818.5 561.0L818.0 561.0L817.5 561.0L817.0 561.0L816.5 561.0L816.0 561.0L815.5 561.0L815.0 561.0L814.5 561.0L814.0 561.0L813.5 561.0L813.0 561.0L812.5 561.0L812.0 561.0L811.5 561.0L811.0 561.0L810.5 561.0L810.0 561.5L809.5 561.5L809.0 561.5L808.5 561.5L808.0 561.5L807.5 561.5L807.0 561.5L806.5 561.5L806.0 561.5L805.5 561.5L805.0 561.5L804.5 561.5L804.0 561.5L803.5 561.5L803.0 561.5L802.5 559.0L802.0 559.0L801.5 559.0L801.0 559.0L800.5 559.0L800.0 559.0L799.5 559.0L799.0 559.0L798.5 559.0L798.0 559.0L797.5 559.0L797.0 559.0L796.5 559.0L796.0 559.0L795.5 559.0L795.0 559.0L794.5 559.0L794.0 561.5L793.5 561.5L793.0 561.5L792.5 561.5L792.0 561.5L791.5 561.5L791.0 561.5L790.5 561.5L790.0 561.5L789.5 561.5L789.0 561.5L788.5 561.5L788.0 561.5L787.5 561.5L787.0 561.5L786.5 561.5L786.0 561.5L785.5 556.0L785.0 556.0L784.5 556.0L784.0 556.0L783.5 556.0L783.0 556.0L782.5 567.2L782.0 567.2L781.5 567.2L781.0 567.2L780.5 567.2L780.0 567.2L779.5 567.2L779.0 567.2L778.5 567.2L778.0 567.2L777.5 567.2L777.0 567.2L776.5 567.2L776.0 567.2L775.5 567.2L775.0 567.2L774.5 567.2L774.0 567.2L773.5 555.5L773.0 555.5L772.5 555.5L772.0 555.5L771.5 555.5L771.0 555.5L770.5 555.5L770.0 555.5L769.5 555.5L769.0 555.5L768.5 555.5L768.0 555.5L767.5 561.0L767.0 561.0L766.5 561.0L766.0 561.0L765.5 561.0L765.0 561.0L764.5 561.0L764.0 561.0L763.5 561.0L763.0 561.0L762.5 564.0L762.0 564.0L761.5 564.0L761.0 564.0L760.5 564.0L760.0 564.0L759.5 564.0L759.0 564.0L758.5 564.0L758.0 564.0L757.5 564.0L757.0 564.0L756.5 564.0L756.0 564.0L755.5 564.0L755.0 555.5L754.5 555.5L754.0 555.5L753.5 555.5L753.0 555.5L752.5 555.5L752.0 555.5L751.5 563.0L751.0 563.0L750.5 563.0L750.0 563.0L749.5 563.0L749.0 563.0L748.5 563.0L748.0 563.0L747.5 563.0L747.0 563.0L746.5 563.0L746.0 563.0L745.5 563.0L745.0 563.0L744.5 563.0L744.0 563.0L743.5 563.0L743.0 563.0L742.5 563.0L742.0 563.0L741.5 572.2L741.0 572.2L740.5 572.2L740.0 572.2L739.5 572.2L739.0 572.2L738.5 572.2L738.0 572.2L737.5 572.2L737.0 572.2L736.5 572.2L736.0 572.2L735.5 572.2L735.0 572.2L734.5 572.2L734.0 580.2L733.5 580.2L733.0 580.2L732.5 580.2L732.0 580.2L731.5 580.2L731.0 580.2L730.5 580.2L730.0 580.2L729.5 580.2L729.0 580.2L728.5 580.2L728.0 580.2L727.5 580.2L727.0 580.2L726.5 580.2L726.0 580.2L725.5 580.2L725.0 579.2L724.5 579.2L724.0 579.2L723.5 579.2L723.0 579.2L722.5 579.2L722.0 579.2L721.5 579.2L721.0 579.2L720.5 579.2L720.0 579.2L719.5 579.2L719.0 579.2L718.5 579.2L718.0 579.2L717.5 579.2L717.0 579.2L716.5 585.5L716.0 585.5L715.5 585.5L715.0 585.5L714.5 585.5L714.0 585.5L713.5 585.5L713.0 585.5L712.5 585.5L712.0 585.5L711.5 585.5L711.0 585.5L710.5 585.5L710.0 585.5L709.5 585.5L709.0 585.5L708.5 585.5L708.0 585.5L707.5 583.0L707.0 583.0L706.5 583.0L706.0 583.0L705.5 583.0L705.0 583.0L704.5 583.0L704.0 583.0L703.5 583.0L703.0 583.0L702.5 583.0L702.0 583.0L701.5 583.0L701.0 583.0L700.5 583.0L700.0 583.0L699.5 583.0L699.0 583.0L698.5 568.0L698.0 568.0L697.5 568.0L697.0 568.0L696.5 568.0L696.0 568.0L695.5 568.0L695.0 568.0L694.5 568.0L694.0 568.0L693.5 568.0L693.0 568.0L692.5 568.0L692.0 568.0L691.5 568.0L691.0 568.0L690.5 568.0L690.0 573.5L689.5 573.5L689.0 573.5L688.5 573.5L688.0 573.5L687.5 573.5L687.0 573.5L686.5 573.5L686.0 573.5L685.5 573.5L685.0 573.5L684.5 573.5L684.0 573.5L683.5 573.5L683.0 573.5L682.5 573.5L682.0 573.5L681.5 573.5L681.0 573.5L680.5 573.5L680.0 573.5L679.5 573.5L679.0 573.5L678.5 573.5L678.0 573.5L677.5 573.5L677.0 573.5L676.5 573.5L676.0 573.5L675.5 573.5L675.0 573.5L674.5 573.5L674.0 580.2L673.5 580.2L673.0 580.2L672.5 580.2L672.0 580.2L671.5 580.2L671.0 580.2L670.5 580.2L670.0 580.2L669.5 580.2L669.0 580.2L668.5 580.2L668.0 580.2L667.5 580.2L667.0 580.2L666.5 580.2L666.0 580.2L665.5 580.2L665.0 581.0L664.5 581.0L664.0 581.0L663.5 581.0L663.0 581.0L662.5 581.0L662.0 581.0L661.5 581.0L661.0 581.0L660.5 581.0L660.0 581.0L659.5 581.0L659.0 581.0L658.5 581.0L658.0 581.0L657.5 581.0L657.0 581.0L656.5 581.0L656.0 581.0L655.5 581.0L655.0 581.0L654.5 581.0L654.0 581.0L653.5 581.0L653.0 581.0L652.5 581.0L652.0 581.0L651.5 581.0L651.0 573.5L650.5 573.5L650.0 573.5L649.5 573.5L649.0 573.5L648.5 573.5L648.0 573.5L647.5 573.5L647.0 576.5L646.5 576.5L646.0 576.5L645.5 576.5L645.0 576.5L644.5 576.5L644.0 576.5L643.5 576.5L643.0 576.5L642.5 576.5L642.0 576.5L641.5 576.5L641.0 576.5L640.5 576.5L640.0 576.5L639.5 576.5L639.0 576.5L638.5 559.0L638.0 559.0L637.5 559.0L637.0 559.0L636.5 559.0L636.0 559.0L635.5 559.0L635.0 559.0L634.5 559.0L634.0 559.0L633.5 559.0L633.0 559.0L632.5 559.0L632.0 559.0L631.5 559.0L631.0 559.0L630.5 559.0L630.0 559.0L629.5 559.0Z" fill="#000" fill-opacity="0.1"/>
<path d="M634.0 498.3L638.2 494.2L642.3 493.7L644.8 498.3L647.3 505.0L651.5 508.3L654.8 516.7L657.3 526.7L661.5 535.0L666.5 540.8L671.5 546.3L675.7 545.8L679.8 543.3L682.3 546.7L686.5 538.3L689.0 531.7L692.3 527.5L697.3 525.0L702.3 523.3L707.3 522.0L710.7 522.5L714.8 518.3L718.2 516.7L720.7 520.0L724.0 520.8L729.0 522.0L734.0 525.0L737.3 525.8L739.8 518.3L741.5 508.3L744.8 501.7L748.2 498.3L753.2 497.5L755.7 505.0L758.2 503.3L762.3 507.5L765.7 503.3L769.8 500.8L773.2 503.3L774.8 506.7L779.0 514.2L782.3 510.0L784.8 506.7L788.2 510.8L792.3 509.2L797.3 509.2L800.7 507.5L803.8 508.3L804.0 508.7L814.0 511.3L819.0 508.3L823.2 506.7L826.5 503.3L830.7 500.0L834.8 500.8L839.0 503.3L843.2 507.5L847.3 511.7L851.5 514.7L855.7 515.3L861.5 511.3L867.3 514.2L874.0 510.8L879.0 509.7L884.0 510.0L889.0 513.0L892.3 515.3L897.3 513.3L902.3 512.5L906.5 507.5L910.7 509.2L915.7 509.2L919.0 505.0L923.2 501.7L928.2 504.2L932.3 500.0L936.5 495.0L939.0 500.0L943.2 503.3L948.2 500.8L952.3 499.2L954.8 491.7L955.8 490.8L959.2 494.2L960.8 500.0L963.3 503.3L968.3 506.7L970.8 500.0L972.5 492.5L975.0 490.0L976.7 495.0L979.2 500.0L981.7 508.3L985.0 512.5L990.8 514.2L996.7 512.0L999.2 516.7L1001.3 523.0L1005.8 517.5L1008.3 511.7L1013.3 507.5L1017.5 507.5L1022.5 511.3L1026.7 510.0L1030.8 508.0L1035.0 512.5L1038.3 507.5L1043.3 505.8L1048.3 503.3L1052.5 504.2L1056.7 505.0L1060.8 501.7L1064.2 503.3L1067.5 507.5L1070.8 509.7L1074.2 508.3" fill="none" stroke="#939393" stroke-width="1.2" stroke-dasharray="3.2 3.4" stroke-linejoin="round"/>
<path d="M635.6 468.8L644.1 488.7L652.7 537.0L669.7 525.8L678.3 525.5L686.8 500.0L695.3 495.8L705.1 507.8L713.6 508.7L722.2 495.3L730.7 501.7L739.2 505.0L747.8 488.7L756.3 507.5L764.8 506.2L773.4 508.3L781.9 513.8L790.4 502.5L799.0 495.8L807.5 510.3L816.0 508.7L824.6 487.5L833.1 498.8L841.6 485.8L850.2 507.0L858.7 488.8L867.2 507.5L875.8 490.0L884.3 502.2L892.8 513.0L901.4 513.8L909.9 510.0L918.4 486.2L927.0 500.0L935.5 483.0L944.0 475.0L952.6 481.3L961.1 531.7L978.2 527.0L986.7 527.5L995.2 525.0L1003.8 508.3L1012.3 511.3L1020.9 515.0L1029.4 525.3L1037.9 500.0L1046.5 485.3L1055.0 495.0L1063.5 499.7L1072.1 499.2" fill="none" stroke="#c23531" stroke-width="1.0" stroke-linejoin="round" stroke-linecap="round"/>
<g fill="#c23531"><circle cx="635.6" cy="468.8" r="1.45"/><circle cx="644.1" cy="488.7" r="1.45"/><circle cx="652.7" cy="537.0" r="1.45"/><circle cx="669.7" cy="525.8" r="1.45"/><circle cx="678.3" cy="525.5" r="1.45"/><circle cx="686.8" cy="500.0" r="1.45"/><circle cx="695.3" cy="495.8" r="1.45"/><circle cx="705.1" cy="507.8" r="1.45"/><circle cx="713.6" cy="508.7" r="1.45"/><circle cx="722.2" cy="495.3" r="1.45"/><circle cx="730.7" cy="501.7" r="1.45"/><circle cx="739.2" cy="505.0" r="1.45"/><circle cx="747.8" cy="488.7" r="1.45"/><circle cx="756.3" cy="507.5" r="1.45"/><circle cx="764.8" cy="506.2" r="1.45"/><circle cx="773.4" cy="508.3" r="1.45"/><circle cx="781.9" cy="513.8" r="1.45"/><circle cx="790.4" cy="502.5" r="1.45"/><circle cx="799.0" cy="495.8" r="1.45"/><circle cx="807.5" cy="510.3" r="1.45"/><circle cx="816.0" cy="508.7" r="1.45"/><circle cx="824.6" cy="487.5" r="1.45"/><circle cx="833.1" cy="498.8" r="1.45"/><circle cx="841.6" cy="485.8" r="1.45"/><circle cx="850.2" cy="507.0" r="1.45"/><circle cx="858.7" cy="488.8" r="1.45"/><circle cx="867.2" cy="507.5" r="1.45"/><circle cx="875.8" cy="490.0" r="1.45"/><circle cx="884.3" cy="502.2" r="1.45"/><circle cx="892.8" cy="513.0" r="1.45"/><circle cx="901.4" cy="513.8" r="1.45"/><circle cx="909.9" cy="510.0" r="1.45"/><circle cx="918.4" cy="486.2" r="1.45"/><circle cx="927.0" cy="500.0" r="1.45"/><circle cx="935.5" cy="483.0" r="1.45"/><circle cx="944.0" cy="475.0" r="1.45"/><circle cx="952.6" cy="481.3" r="1.45"/><circle cx="961.1" cy="531.7" r="1.45"/><circle cx="978.2" cy="527.0" r="1.45"/><circle cx="986.7" cy="527.5" r="1.45"/><circle cx="995.2" cy="525.0" r="1.45"/><circle cx="1003.8" cy="508.3" r="1.45"/><circle cx="1012.3" cy="511.3" r="1.45"/><circle cx="1020.9" cy="515.0" r="1.45"/><circle cx="1029.4" cy="525.3" r="1.45"/><circle cx="1037.9" cy="500.0" r="1.45"/><circle cx="1046.5" cy="485.3" r="1.45"/><circle cx="1055.0" cy="495.0" r="1.45"/><circle cx="1063.5" cy="499.7" r="1.45"/><circle cx="1072.1" cy="499.2" r="1.45"/></g>
<path d="M634.3 498.7L642.8 492.2L651.4 503.0L659.9 507.2L668.4 536.3L677.0 593.5L694.0 541.3L702.6 523.0L711.1 527.5L719.6 540.8L728.2 495.0L736.7 517.0L745.2 495.8L753.8 488.0L762.3 496.3L770.8 493.0L779.4 537.5L787.9 513.8L796.4 513.8L805.0 512.5L813.5 512.0L822.0 502.5L830.6 485.3L839.1 514.2L847.6 503.0L856.2 494.2L864.7 504.2L873.3 494.7L881.8 497.0L890.3 497.5L898.9 511.7L907.4 517.2L915.9 516.2L924.5 490.0L933.0 499.5L941.5 512.0L950.1 470.3L958.6 484.2L967.1 530.3L975.7 498.3L984.2 516.3L992.7 505.0" fill="none" stroke="#2f4554" stroke-width="1.0" stroke-linejoin="round" stroke-linecap="round"/>
<g fill="#2f4554"><circle cx="634.3" cy="498.7" r="1.45"/><circle cx="642.8" cy="492.2" r="1.45"/><circle cx="651.4" cy="503.0" r="1.45"/><circle cx="659.9" cy="507.2" r="1.45"/><circle cx="668.4" cy="536.3" r="1.45"/><circle cx="677.0" cy="593.5" r="1.45"/><circle cx="694.0" cy="541.3" r="1.45"/><circle cx="702.6" cy="523.0" r="1.45"/><circle cx="711.1" cy="527.5" r="1.45"/><circle cx="719.6" cy="540.8" r="1.45"/><circle cx="728.2" cy="495.0" r="1.45"/><circle cx="736.7" cy="517.0" r="1.45"/><circle cx="745.2" cy="495.8" r="1.45"/><circle cx="753.8" cy="488.0" r="1.45"/><circle cx="762.3" cy="496.3" r="1.45"/><circle cx="770.8" cy="493.0" r="1.45"/><circle cx="779.4" cy="537.5" r="1.45"/><circle cx="787.9" cy="513.8" r="1.45"/><circle cx="796.4" cy="513.8" r="1.45"/><circle cx="805.0" cy="512.5" r="1.45"/><circle cx="813.5" cy="512.0" r="1.45"/><circle cx="822.0" cy="502.5" r="1.45"/><circle cx="830.6" cy="485.3" r="1.45"/><circle cx="839.1" cy="514.2" r="1.45"/><circle cx="847.6" cy="503.0" r="1.45"/><circle cx="856.2" cy="494.2" r="1.45"/><circle cx="864.7" cy="504.2" r="1.45"/><circle cx="873.3" cy="494.7" r="1.45"/><circle cx="881.8" cy="497.0" r="1.45"/><circle cx="890.3" cy="497.5" r="1.45"/><circle cx="898.9" cy="511.7" r="1.45"/><circle cx="907.4" cy="517.2" r="1.45"/><circle cx="915.9" cy="516.2" r="1.45"/><circle cx="924.5" cy="490.0" r="1.45"/><circle cx="933.0" cy="499.5" r="1.45"/><circle cx="941.5" cy="512.0" r="1.45"/><circle cx="950.1" cy="470.3" r="1.45"/><circle cx="958.6" cy="484.2" r="1.45"/><circle cx="967.1" cy="530.3" r="1.45"/><circle cx="975.7" cy="498.3" r="1.45"/><circle cx="984.2" cy="516.3" r="1.45"/><circle cx="992.7" cy="505.0" r="1.45"/></g>
</g>
<text x="782" y="476.0" font-size="15.3" fill="#888888" fill-opacity="0.55">紫金天风期货</text>
<path d="M629.5 373.5V594.5" stroke="#555555" stroke-width="1"/>
<path d="M629.0 594.35H1075.0" stroke="#6e6e6e" stroke-width="1.35"/>
<path d="M658.76 594.0v3.9" stroke="#666" stroke-width="1"/>
<text x="658.76" y="605.60" font-size="8.4" fill="#5a5a5a" text-anchor="middle" textLength="21.48">01-25</text>
<path d="M688.02 594.0v3.9" stroke="#666" stroke-width="1"/>
<text x="688.02" y="605.60" font-size="8.4" fill="#5a5a5a" text-anchor="middle" textLength="21.48">02-18</text>
<path d="M717.28 594.0v3.9" stroke="#666" stroke-width="1"/>
<text x="717.28" y="605.60" font-size="8.4" fill="#5a5a5a" text-anchor="middle" textLength="21.48">03-13</text>
<path d="M746.54 594.0v3.9" stroke="#666" stroke-width="1"/>
<text x="746.54" y="605.60" font-size="8.4" fill="#5a5a5a" text-anchor="middle" textLength="21.48">04-06</text>
<path d="M775.80 594.0v3.9" stroke="#666" stroke-width="1"/>
<text x="775.80" y="605.60" font-size="8.4" fill="#5a5a5a" text-anchor="middle" textLength="21.48">04-30</text>
<path d="M805.06 594.0v3.9" stroke="#666" stroke-width="1"/>
<text x="805.06" y="605.60" font-size="8.4" fill="#5a5a5a" text-anchor="middle" textLength="21.48">05-24</text>
<path d="M834.32 594.0v3.9" stroke="#666" stroke-width="1"/>
<text x="834.32" y="605.60" font-size="8.4" fill="#5a5a5a" text-anchor="middle" textLength="21.48">06-17</text>
<path d="M863.58 594.0v3.9" stroke="#666" stroke-width="1"/>
<text x="863.58" y="605.60" font-size="8.4" fill="#5a5a5a" text-anchor="middle" textLength="21.48">07-11</text>
<path d="M892.84 594.0v3.9" stroke="#666" stroke-width="1"/>
<text x="892.84" y="605.60" font-size="8.4" fill="#5a5a5a" text-anchor="middle" textLength="21.48">08-04</text>
<path d="M922.10 594.0v3.9" stroke="#666" stroke-width="1"/>
<text x="922.10" y="605.60" font-size="8.4" fill="#5a5a5a" text-anchor="middle" textLength="21.48">08-28</text>
<path d="M951.36 594.0v3.9" stroke="#666" stroke-width="1"/>
<text x="951.36" y="605.60" font-size="8.4" fill="#5a5a5a" text-anchor="middle" textLength="21.48">09-21</text>
<path d="M980.62 594.0v3.9" stroke="#666" stroke-width="1"/>
<text x="980.62" y="605.60" font-size="8.4" fill="#5a5a5a" text-anchor="middle" textLength="21.48">10-15</text>
<path d="M1009.88 594.0v3.9" stroke="#666" stroke-width="1"/>
<text x="1009.88" y="605.60" font-size="8.4" fill="#5a5a5a" text-anchor="middle" textLength="21.48">11-08</text>
<path d="M1039.14 594.0v3.9" stroke="#666" stroke-width="1"/>
<text x="1039.14" y="605.60" font-size="8.4" fill="#5a5a5a" text-anchor="middle" textLength="21.48">12-02</text>
<rect x="970.62" y="596.50" width="44.2" height="14" fill="#ffffff"/>
<text x="992.22" y="606.60" font-size="10.3" font-weight="bold" fill="#2f4554" text-anchor="middle" textLength="26.34">10-25</text>
<rect x="602.00" y="495.60" width="24" height="13" rx="1.5" fill="#ffffff" stroke="#e2e2e2" stroke-width="0.8"/>
<text x="624.50" y="505.80" font-size="10.2" font-weight="bold" fill="#2f4554" text-anchor="end" textLength="19.85">95.2</text></g>
<path d="M534.2 292.8H538.3M537.8 293.3V289.2" stroke="#6a6a6a" stroke-width="1.2" fill="none"/>
<path d="M534.2 607.6H538.3M537.8 608V604.4" stroke="#6a6a6a" stroke-width="1.2" fill="none"/>
</svg>
</body></html>
